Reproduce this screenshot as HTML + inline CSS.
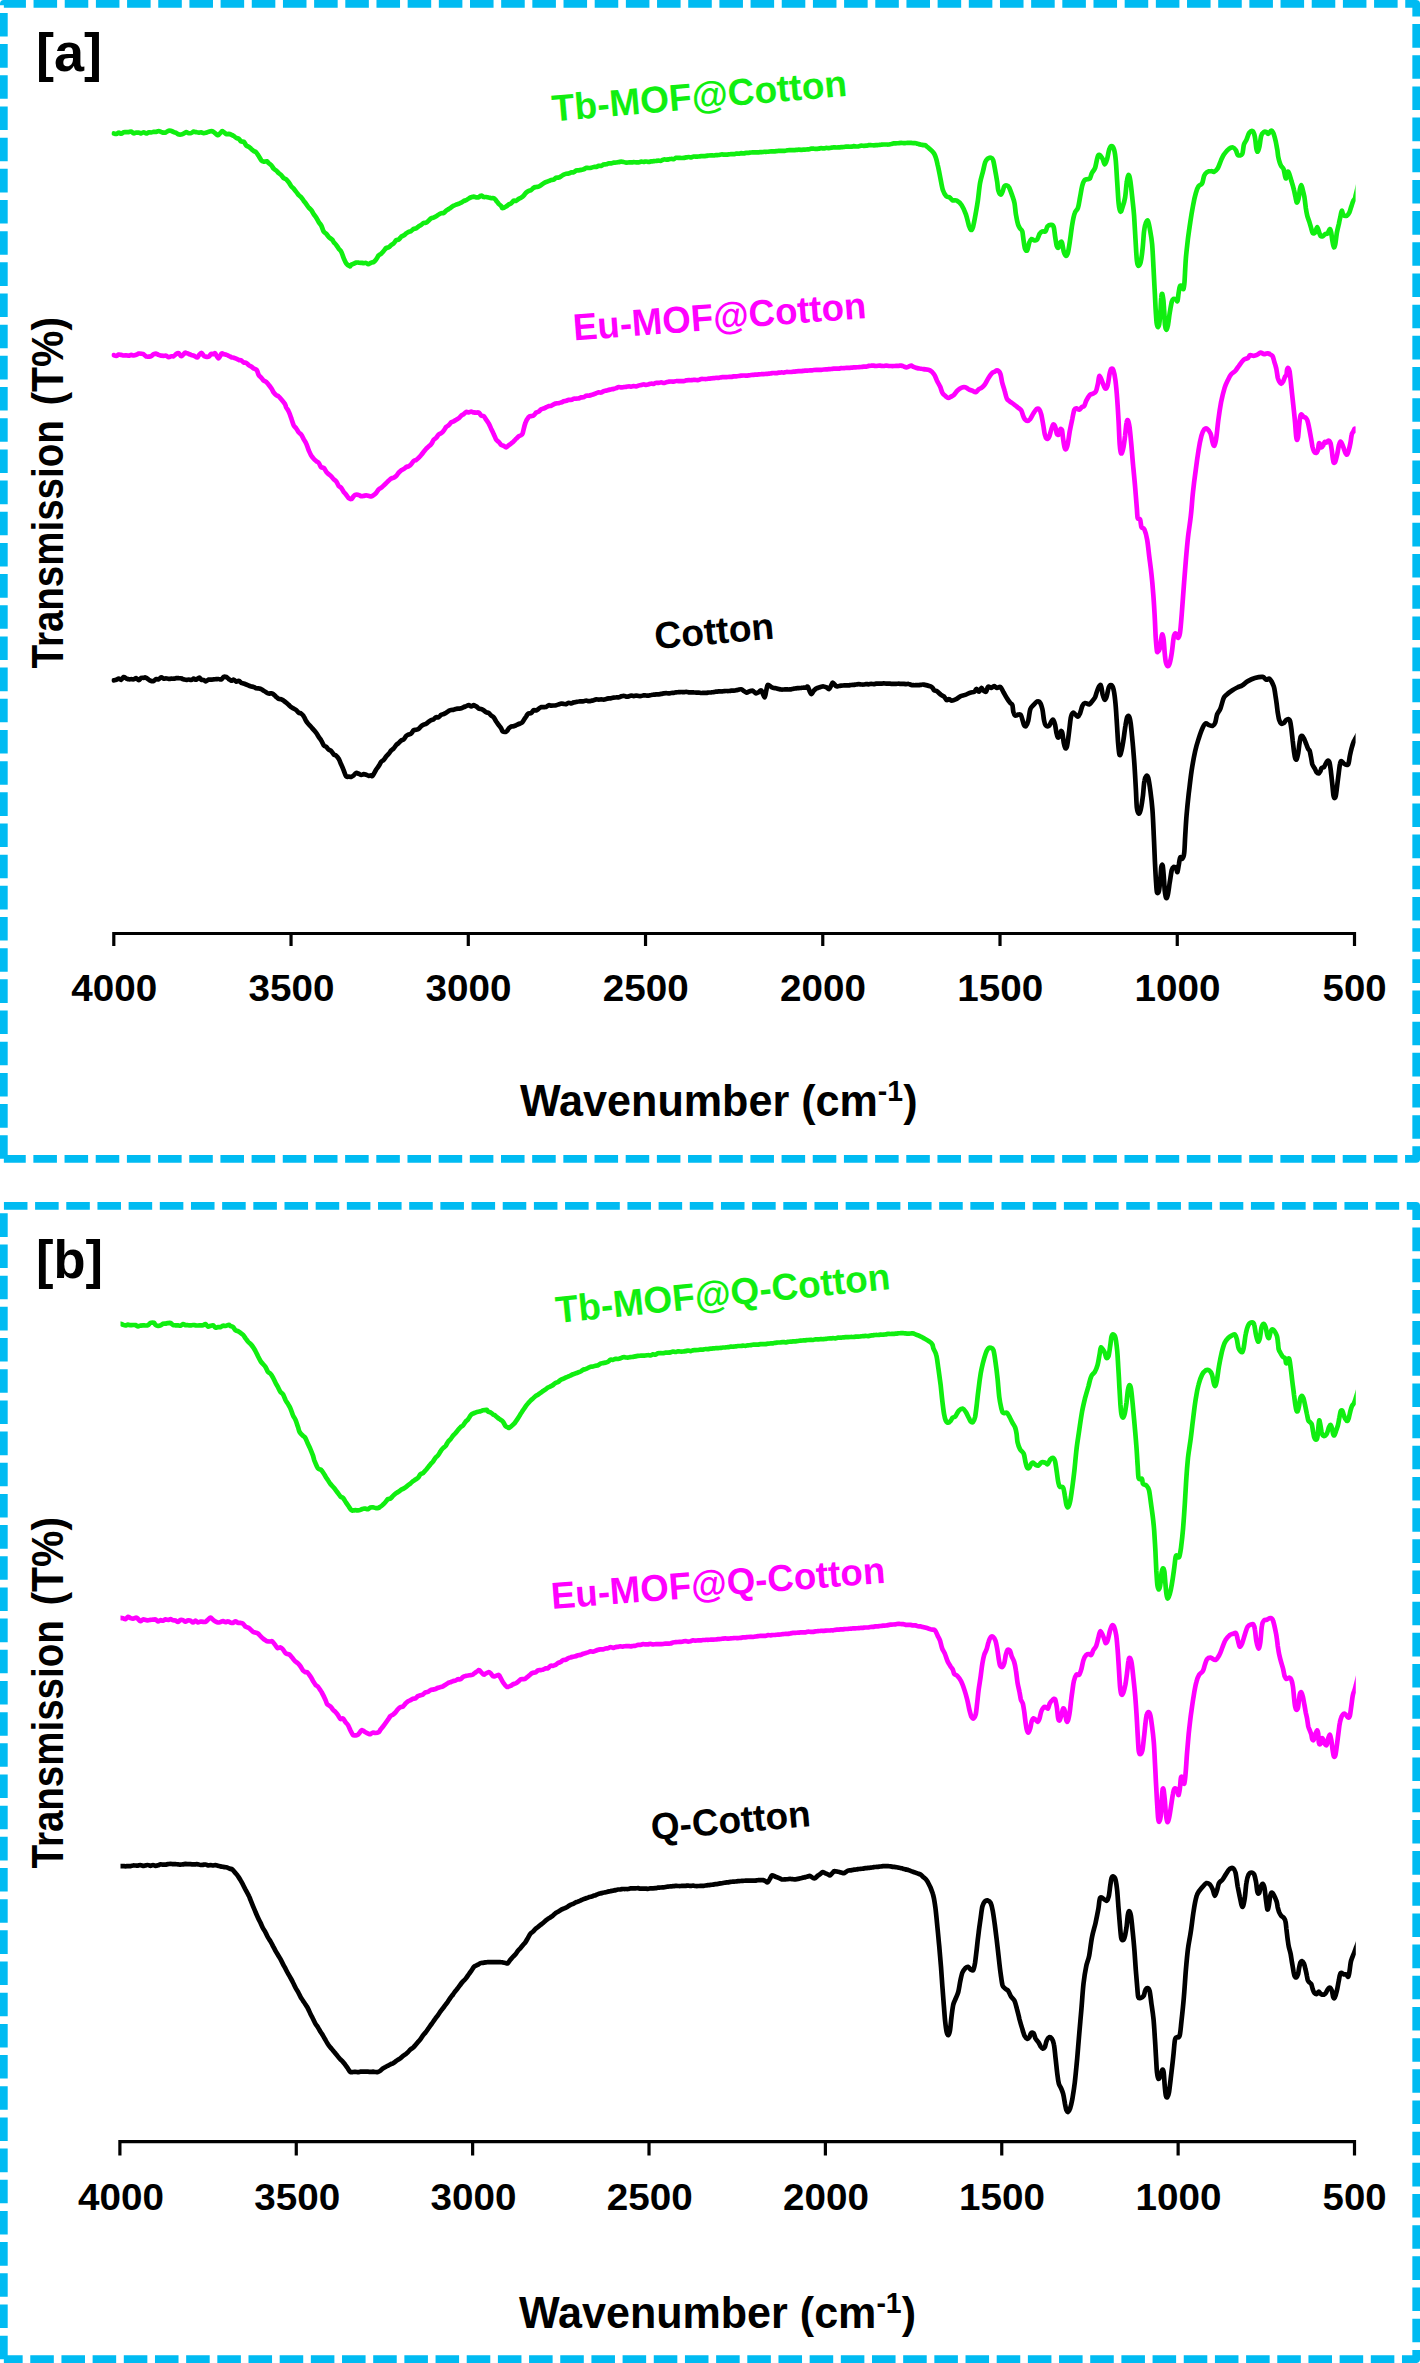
<!DOCTYPE html>
<html lang="en"><head><meta charset="utf-8"><title>FTIR spectra</title>
<style>html,body{margin:0;padding:0;background:#fff}svg{display:block}text{font-family:"Liberation Sans",sans-serif;font-weight:bold}.c{fill:none;stroke-linejoin:round;stroke-linecap:round}</style></head><body>
<svg width="1420" height="2363" viewBox="0 0 1420 2363">
<rect width="1420" height="2363" fill="#fff"/>
<defs>
<clipPath id="ca"><rect x="111.5" y="0" width="1244.1" height="1180"/></clipPath>
<clipPath id="cb"><rect x="120.5" y="1190" width="1235.3" height="1180"/></clipPath>
</defs>
<path d="M3.85,1158.8 L3.85,3.85 L1416.2,3.85 L1416.2,1158.8 L3.85,1158.8" fill="none" stroke="#00BBF2" stroke-width="7.7" stroke-dasharray="23.553 7.622" stroke-dashoffset="0" stroke-linejoin="round"/>
<path d="M3.85,2359.2 L3.85,1205.8 L1416.2,1205.8 L1416.2,2359.2 L3.85,2359.2" fill="none" stroke="#00BBF2" stroke-width="7.7" stroke-dasharray="23.553 7.622" stroke-dashoffset="0" stroke-linejoin="round"/>
<path d="M112.20,933.5H1356.10M113.80,933.5V946M291.04,933.5V946M468.29,933.5V946M645.53,933.5V946M822.77,933.5V946M1000.01,933.5V946M1177.26,933.5V946M1354.50,933.5V946" fill="none" stroke="#000" stroke-width="3.2"/>
<path d="M118.30,2141.6H1356.10M119.90,2141.6V2155.6M296.27,2141.6V2155.6M472.64,2141.6V2155.6M649.01,2141.6V2155.6M825.39,2141.6V2155.6M1001.76,2141.6V2155.6M1178.13,2141.6V2155.6M1354.50,2141.6V2155.6" fill="none" stroke="#000" stroke-width="3.2"/>
<path class="c" clip-path="url(#ca)" d="M113.7,680.4C114.1,680.3 115.4,680.1 116.2,679.8C117.1,679.5 117.9,678.6 118.7,678.6C119.6,678.6 120.4,680.1 121.2,679.8C122.1,679.5 122.9,677.3 123.7,677.0C124.6,676.8 125.4,678.0 126.2,678.4C127.1,678.7 127.9,679.1 128.7,679.2C129.6,679.4 130.4,679.2 131.2,679.2C132.1,679.2 132.9,679.5 133.7,679.3C134.6,679.1 135.4,678.1 136.2,678.2C137.1,678.4 137.9,680.2 138.7,680.2C139.6,680.1 140.4,678.3 141.2,677.9C142.1,677.5 143.0,677.9 143.7,677.8C144.4,677.7 144.6,677.2 145.4,677.5C146.3,677.8 147.9,679.0 148.7,679.6C149.6,680.2 149.9,680.6 150.7,680.8C151.5,681.1 152.8,681.3 153.7,681.0C154.7,680.7 155.4,679.3 156.2,679.1C157.1,678.8 157.9,679.6 158.7,679.3C159.6,679.0 160.4,677.4 161.2,677.3C162.1,677.2 162.9,678.5 163.7,678.7C164.6,678.8 165.4,678.2 166.2,678.3C167.1,678.3 167.9,678.8 168.7,678.9C169.6,678.9 170.4,678.7 171.2,678.7C172.1,678.7 172.9,678.8 173.7,678.7C174.6,678.6 175.4,678.2 176.2,678.1C177.1,678.0 177.9,678.0 178.7,678.1C179.6,678.1 180.4,678.1 181.2,678.4C182.1,678.6 182.9,679.1 183.7,679.4C184.6,679.6 185.4,679.9 186.2,679.9C187.1,679.9 187.9,679.5 188.7,679.5C189.6,679.5 190.4,680.1 191.2,680.0C192.1,679.9 192.9,678.8 193.7,678.7C194.6,678.7 195.3,680.0 196.2,679.7C197.2,679.5 198.5,677.5 199.3,677.5C200.1,677.5 200.5,679.3 201.2,679.7C202.0,680.2 203.0,679.8 203.7,680.1C204.5,680.3 204.8,681.3 205.6,681.3C206.5,681.2 207.8,679.9 208.7,679.6C209.7,679.4 210.4,679.7 211.2,679.7C212.1,679.6 212.9,679.4 213.7,679.3C214.6,679.2 215.4,679.3 216.2,679.2C217.1,679.1 217.9,678.9 218.7,679.0C219.6,679.0 220.4,679.8 221.2,679.4C222.1,679.1 222.9,677.2 223.7,676.8C224.6,676.4 225.5,676.7 226.3,677.0C227.2,677.4 227.9,678.4 228.7,679.0C229.5,679.6 230.4,680.5 231.2,680.7C232.1,680.8 232.9,679.6 233.7,679.7C234.6,679.9 235.4,681.4 236.2,681.6C237.1,681.8 237.9,680.6 238.7,680.8C239.6,681.0 240.4,682.3 241.2,682.8C242.1,683.2 242.9,683.3 243.7,683.6C244.6,683.9 245.4,684.2 246.2,684.6C247.1,684.9 247.9,685.3 248.7,685.6C249.6,685.9 250.4,686.3 251.2,686.5C252.1,686.7 252.9,686.7 253.7,687.0C254.6,687.2 255.4,687.9 256.2,688.2C257.1,688.4 257.9,688.2 258.7,688.4C259.6,688.6 260.4,688.8 261.2,689.2C262.1,689.6 262.9,690.2 263.7,690.8C264.6,691.3 265.4,691.8 266.2,692.3C267.1,692.8 267.9,693.4 268.7,693.5C269.6,693.7 270.4,693.2 271.2,693.3C272.1,693.5 272.9,693.9 273.7,694.5C274.6,695.1 275.4,696.2 276.2,696.9C277.1,697.7 277.9,698.5 278.7,698.9C279.6,699.3 280.4,699.0 281.2,699.3C282.1,699.6 282.9,700.1 283.7,700.7C284.6,701.3 285.4,702.1 286.2,702.7C287.1,703.4 287.9,704.1 288.7,704.9C289.6,705.6 290.4,706.6 291.2,707.2C292.1,707.9 292.9,708.1 293.7,708.6C294.6,709.0 295.4,709.4 296.2,710.1C297.1,710.8 297.9,712.1 298.7,712.7C299.6,713.3 300.4,713.0 301.2,713.6C302.1,714.2 302.9,715.0 303.7,716.3C304.6,717.5 305.4,719.8 306.2,721.2C307.1,722.5 307.9,723.4 308.7,724.4C309.6,725.3 310.4,726.1 311.2,727.0C312.1,728.0 312.9,729.0 313.7,729.9C314.6,730.9 315.4,731.8 316.2,732.9C317.1,734.1 317.9,735.7 318.7,736.9C319.6,738.2 320.4,738.9 321.2,740.4C322.1,741.8 323.1,744.4 323.9,745.5C324.8,746.5 325.4,746.0 326.2,746.7C327.0,747.4 327.9,748.9 328.7,749.7C329.6,750.4 330.4,750.2 331.2,751.0C332.1,751.8 332.9,753.7 333.7,754.4C334.6,755.2 335.4,755.0 336.2,755.7C337.1,756.5 337.9,757.3 338.7,758.8C339.6,760.3 340.4,762.7 341.2,764.6C342.1,766.5 342.9,768.3 343.7,770.3C344.5,772.2 345.3,775.3 346.1,776.3C347.0,777.4 347.9,776.5 348.7,776.6C349.6,776.7 350.4,777.1 351.2,776.9C352.1,776.7 352.9,775.9 353.7,775.3C354.5,774.6 355.2,773.2 356.1,773.0C356.9,772.7 357.9,773.4 358.7,773.8C359.6,774.1 360.4,775.0 361.2,775.0C362.1,775.1 362.9,774.2 363.7,774.1C364.6,774.1 365.4,774.4 366.2,774.7C367.1,775.0 367.9,775.7 368.7,775.8C369.6,776.0 370.6,775.4 371.2,775.4C371.9,775.5 371.7,776.9 372.5,775.9C373.4,774.9 375.2,771.1 376.2,769.5C377.3,767.9 377.9,767.3 378.7,766.0C379.6,764.8 380.4,762.8 381.2,761.8C382.1,760.8 382.9,760.8 383.7,759.9C384.6,759.0 385.4,757.5 386.2,756.4C387.1,755.4 387.9,754.8 388.7,753.8C389.6,752.8 390.4,751.3 391.2,750.4C392.1,749.5 392.9,749.3 393.7,748.4C394.6,747.5 395.4,745.9 396.2,745.0C397.1,744.1 397.9,743.7 398.7,743.0C399.6,742.2 400.4,741.2 401.2,740.5C402.1,739.9 402.9,740.1 403.7,739.3C404.6,738.5 405.4,736.7 406.2,735.9C407.1,735.1 407.9,735.0 408.7,734.5C409.6,734.1 410.4,734.1 411.2,733.4C412.1,732.7 412.9,730.7 413.7,730.1C414.6,729.5 415.4,730.0 416.2,729.8C417.1,729.6 417.9,729.4 418.7,728.8C419.6,728.2 420.4,726.9 421.2,726.2C422.1,725.5 422.9,725.0 423.7,724.6C424.6,724.2 425.4,724.3 426.2,723.8C427.1,723.3 427.9,722.3 428.7,721.7C429.6,721.1 430.4,720.6 431.2,720.2C432.1,719.8 432.9,719.8 433.7,719.3C434.6,718.7 435.4,717.4 436.2,717.1C437.1,716.7 437.9,717.6 438.7,717.2C439.6,716.9 440.4,715.3 441.2,714.8C442.1,714.2 442.9,714.3 443.7,714.0C444.6,713.6 445.4,713.2 446.2,712.7C447.1,712.2 447.9,711.4 448.7,710.9C449.6,710.4 450.4,710.2 451.2,710.0C452.1,709.8 452.9,709.9 453.7,709.7C454.6,709.5 455.4,709.0 456.2,708.9C457.1,708.7 457.9,708.7 458.7,708.6C459.6,708.5 460.4,708.6 461.2,708.3C462.1,708.1 462.9,707.5 463.7,707.1C464.6,706.8 465.4,706.4 466.2,706.1C467.1,705.7 467.9,705.1 468.7,705.1C469.6,705.2 470.4,706.3 471.2,706.3C472.1,706.4 472.9,705.2 473.7,705.2C474.6,705.3 475.4,705.9 476.2,706.4C477.1,706.9 477.9,708.0 478.7,708.5C479.6,708.9 480.4,708.7 481.2,709.0C482.1,709.3 482.9,709.9 483.7,710.4C484.6,710.9 485.4,711.8 486.2,712.2C487.1,712.7 487.9,712.5 488.7,713.0C489.6,713.6 490.4,714.8 491.2,715.5C492.1,716.3 492.9,716.4 493.7,717.4C494.6,718.4 495.4,720.2 496.2,721.5C497.1,722.8 497.9,724.0 498.7,725.1C499.6,726.2 500.6,727.2 501.2,728.3C501.9,729.3 501.7,730.8 502.5,731.3C503.4,731.9 505.2,732.1 506.2,731.7C507.3,731.2 507.9,729.4 508.7,728.5C509.6,727.7 510.4,726.9 511.2,726.5C512.1,726.1 512.9,726.5 513.7,726.3C514.6,726.0 515.4,725.5 516.2,725.2C517.1,724.8 517.8,724.4 518.7,724.0C519.6,723.6 520.7,723.5 521.6,722.9C522.4,722.3 523.0,721.3 523.7,720.2C524.5,719.2 525.5,717.5 526.2,716.5C526.9,715.4 527.1,714.4 527.9,713.8C528.7,713.2 530.3,713.6 531.2,713.0C532.2,712.4 532.9,710.5 533.7,710.1C534.6,709.7 535.4,710.7 536.2,710.5C537.1,710.3 537.9,709.2 538.7,708.7C539.6,708.1 540.4,707.4 541.2,707.1C542.1,706.9 542.9,707.2 543.7,707.2C544.6,707.1 545.4,707.2 546.2,706.9C547.1,706.6 547.9,705.4 548.7,705.2C549.6,705.0 550.4,705.5 551.2,705.6C552.1,705.6 552.9,705.6 553.7,705.5C554.6,705.5 555.4,705.4 556.2,705.2C557.1,705.0 557.9,704.7 558.7,704.4C559.6,704.2 560.4,703.8 561.2,703.7C562.1,703.6 562.9,703.7 563.7,703.8C564.6,703.8 565.4,704.3 566.2,704.1C567.1,703.9 567.9,702.9 568.7,702.8C569.6,702.6 570.4,703.4 571.2,703.4C572.1,703.3 572.9,702.6 573.7,702.4C574.6,702.1 575.4,702.1 576.2,702.0C577.1,701.8 577.9,701.5 578.7,701.5C579.6,701.4 580.4,701.5 581.2,701.4C582.1,701.4 582.9,701.4 583.7,701.2C584.6,701.0 585.4,700.5 586.2,700.5C587.1,700.5 587.9,701.2 588.7,701.2C589.6,701.3 590.4,701.0 591.2,700.8C592.1,700.6 592.9,700.5 593.7,700.2C594.6,700.0 595.4,699.5 596.2,699.4C597.1,699.3 597.9,699.6 598.7,699.6C599.6,699.6 600.4,699.4 601.2,699.4C602.1,699.4 602.9,699.6 603.7,699.6C604.6,699.5 605.4,699.2 606.2,699.0C607.1,698.8 607.9,698.6 608.7,698.4C609.6,698.3 610.4,698.4 611.2,698.2C612.1,698.1 612.9,697.8 613.7,697.6C614.6,697.5 615.4,697.3 616.2,697.3C617.1,697.2 617.9,697.4 618.7,697.3C619.6,697.1 620.4,696.6 621.2,696.4C622.1,696.1 622.9,695.8 623.7,695.8C624.6,695.8 625.4,696.5 626.2,696.6C627.1,696.7 627.9,696.6 628.7,696.4C629.6,696.2 630.4,695.6 631.2,695.5C632.1,695.5 632.9,696.1 633.7,696.1C634.6,696.2 635.4,695.6 636.2,695.6C637.1,695.6 637.9,695.9 638.7,696.0C639.6,696.1 640.4,696.1 641.2,696.0C642.1,695.9 642.9,695.4 643.7,695.3C644.6,695.3 645.4,695.5 646.2,695.5C647.1,695.6 647.9,695.8 648.7,695.7C649.6,695.6 650.4,695.1 651.2,695.0C652.1,694.8 652.9,694.8 653.7,694.7C654.6,694.6 655.4,694.5 656.2,694.4C657.1,694.4 657.9,694.4 658.7,694.3C659.6,694.2 660.4,694.1 661.2,693.9C662.1,693.8 662.9,693.5 663.7,693.4C664.6,693.3 665.4,693.2 666.2,693.2C667.1,693.3 667.9,693.5 668.7,693.4C669.6,693.4 670.4,693.1 671.2,693.0C672.1,692.9 672.9,692.9 673.7,692.8C674.6,692.7 675.4,692.4 676.2,692.3C677.1,692.2 677.9,692.3 678.7,692.2C679.6,692.2 680.4,692.0 681.2,692.0C682.1,692.0 682.9,692.2 683.7,692.1C684.6,692.1 685.4,691.8 686.2,691.8C687.1,691.9 687.9,692.3 688.7,692.4C689.6,692.5 690.4,692.4 691.2,692.4C692.1,692.4 692.9,692.3 693.7,692.4C694.6,692.4 695.4,692.6 696.2,692.6C697.1,692.7 697.9,692.5 698.7,692.6C699.6,692.7 700.4,693.0 701.2,693.0C702.1,693.1 702.9,692.9 703.7,692.9C704.6,692.8 705.4,692.9 706.2,692.8C707.1,692.8 707.9,692.6 708.7,692.5C709.6,692.4 710.4,692.3 711.2,692.3C712.1,692.2 712.9,692.3 713.7,692.2C714.6,692.1 715.4,691.8 716.2,691.6C717.1,691.5 717.9,691.4 718.7,691.3C719.6,691.3 720.4,691.5 721.2,691.5C722.1,691.4 722.9,691.2 723.7,691.2C724.6,691.1 725.4,691.0 726.2,691.0C727.1,691.0 727.9,691.1 728.7,691.0C729.6,691.0 730.4,690.8 731.2,690.7C732.1,690.6 732.9,690.7 733.7,690.6C734.6,690.5 735.4,690.4 736.2,690.2C737.1,690.1 737.9,689.7 738.7,689.6C739.6,689.4 740.5,689.1 741.3,689.3C742.2,689.5 742.9,690.4 743.7,690.9C744.6,691.5 745.8,692.5 746.6,692.7C747.5,692.8 747.9,692.1 748.7,691.7C749.6,691.4 751.1,690.6 751.9,690.6C752.7,690.5 753.0,691.0 753.7,691.5C754.4,691.9 755.3,693.2 756.1,693.3C757.0,693.4 757.9,692.6 758.7,692.2C759.6,691.7 760.4,689.7 761.4,690.6C762.4,691.5 763.8,697.5 764.6,697.5C765.4,697.6 765.7,692.9 766.2,690.8C766.8,688.7 766.9,685.5 767.7,684.9C768.6,684.2 770.2,686.4 771.2,686.9C772.2,687.5 772.9,687.8 773.7,688.0C774.6,688.2 775.4,688.1 776.2,688.3C777.1,688.4 777.9,688.8 778.7,689.0C779.6,689.2 780.4,689.4 781.2,689.5C782.1,689.6 782.9,689.5 783.7,689.5C784.6,689.5 785.4,689.4 786.2,689.4C787.1,689.4 787.9,689.5 788.7,689.5C789.6,689.4 790.4,689.4 791.2,689.3C792.1,689.1 792.9,688.9 793.7,688.7C794.6,688.6 795.4,688.5 796.2,688.3C797.1,688.2 797.9,688.2 798.7,688.1C799.6,688.0 800.4,687.8 801.2,687.8C802.1,687.7 802.9,687.8 803.7,687.7C804.6,687.6 805.5,687.5 806.2,687.4C806.9,687.3 807.1,685.9 807.9,687.0C808.7,688.1 810.1,693.3 811.1,693.9C812.0,694.6 812.9,691.7 813.7,690.8C814.6,689.9 815.4,689.0 816.2,688.5C817.1,688.0 817.9,687.9 818.7,687.6C819.6,687.3 820.4,686.9 821.2,686.7C822.1,686.5 822.9,686.4 823.7,686.5C824.6,686.6 825.4,686.7 826.2,687.2C827.1,687.6 828.2,689.4 829.0,689.1C829.8,688.8 830.6,686.5 831.2,685.4C831.9,684.4 832.0,682.6 832.8,682.7C833.7,682.9 835.2,685.6 836.2,686.2C837.2,686.7 837.9,686.0 838.7,686.0C839.6,685.9 840.4,685.8 841.2,685.7C842.1,685.6 842.9,685.3 843.7,685.3C844.6,685.2 845.4,685.4 846.2,685.4C847.1,685.4 847.9,685.4 848.7,685.4C849.6,685.3 850.4,685.1 851.2,685.0C852.1,684.9 852.9,685.0 853.7,684.9C854.6,684.8 855.4,684.6 856.2,684.5C857.1,684.4 857.9,684.2 858.7,684.2C859.6,684.2 860.4,684.4 861.2,684.5C862.1,684.5 862.9,684.6 863.7,684.5C864.6,684.5 865.4,684.1 866.2,684.0C867.1,684.0 867.9,684.3 868.7,684.3C869.6,684.3 870.4,683.9 871.2,683.9C872.1,683.9 872.9,684.1 873.7,684.1C874.6,684.1 875.4,683.8 876.2,683.7C877.1,683.6 877.9,683.6 878.7,683.6C879.6,683.6 880.4,683.7 881.2,683.7C882.1,683.6 882.9,683.4 883.7,683.3C884.6,683.3 885.4,683.5 886.2,683.6C887.1,683.6 887.9,683.5 888.7,683.6C889.6,683.6 890.4,683.8 891.2,683.8C892.1,683.8 892.9,683.8 893.7,683.8C894.6,683.8 895.4,683.8 896.2,683.8C897.1,683.8 897.9,683.7 898.7,683.7C899.6,683.7 900.4,683.9 901.2,683.9C902.1,684.0 902.9,683.9 903.7,683.9C904.6,684.0 905.4,684.1 906.2,684.1C907.1,684.1 907.9,683.8 908.7,684.0C909.6,684.1 910.4,684.7 911.2,684.9C912.1,685.2 912.9,685.2 913.7,685.2C914.6,685.3 915.4,685.2 916.2,685.2C917.1,685.1 917.9,685.2 918.7,685.1C919.6,685.1 920.4,684.9 921.2,684.8C922.1,684.7 922.0,684.3 923.7,684.6C925.4,685.0 929.7,685.8 931.4,686.8C933.2,687.7 933.3,689.5 934.2,690.3C935.2,691.0 936.0,690.6 937.0,691.3C938.1,692.0 939.4,693.6 940.6,694.5C941.7,695.4 943.1,695.7 944.1,696.6C945.1,697.6 945.8,699.7 946.6,700.1C947.4,700.6 948.1,699.1 949.0,699.2C949.9,699.2 950.7,700.6 951.8,700.6C953.0,700.6 954.6,699.9 956.1,699.2C957.5,698.5 958.8,697.0 960.3,696.3C961.8,695.6 963.6,695.5 965.2,694.9C966.9,694.3 968.6,693.2 970.1,692.7C971.7,692.1 973.3,692.3 974.4,691.7C975.4,691.1 975.7,688.9 976.5,688.9C977.3,688.9 978.2,691.9 979.0,691.7C979.8,691.5 980.7,688.1 981.4,687.9C982.2,687.7 982.7,690.1 983.5,690.7C984.3,691.3 985.3,692.3 986.1,691.7C986.8,691.0 987.2,687.4 988.0,686.8C988.9,686.1 990.3,688.0 991.3,687.9C992.3,687.8 993.1,686.1 994.1,686.1C995.0,686.1 995.8,687.7 996.9,687.9C998.0,688.1 999.4,686.4 1000.4,687.0C1001.5,687.7 1002.2,689.9 1003.2,691.7C1004.3,693.5 1005.6,696.2 1006.8,698.0C1007.9,699.9 1009.3,701.8 1010.3,703.0C1011.2,704.1 1011.9,703.5 1012.4,705.1C1012.9,706.6 1012.9,710.4 1013.4,712.1C1013.8,713.9 1014.4,715.2 1015.2,715.6C1016.0,716.1 1017.1,714.8 1018.0,714.6C1019.0,714.5 1020.1,713.9 1020.8,714.9C1021.6,715.9 1022.1,718.9 1022.7,720.6C1023.2,722.3 1023.5,724.2 1024.1,725.1C1024.6,726.0 1025.4,726.7 1026.1,725.9C1026.8,725.2 1027.6,723.3 1028.3,720.6C1029.0,717.8 1029.4,711.9 1030.3,709.3C1031.2,706.7 1032.4,706.4 1033.5,705.1C1034.6,703.8 1036.0,702.0 1037.0,701.5C1038.1,701.1 1039.0,701.0 1039.9,702.3C1040.8,703.5 1041.7,706.2 1042.4,709.3C1043.1,712.3 1043.5,717.9 1044.1,720.6C1044.6,723.3 1045.0,724.6 1045.8,725.5C1046.6,726.4 1048.1,726.5 1049.0,725.9C1049.9,725.3 1050.4,723.0 1051.1,722.0C1051.8,721.0 1052.6,719.4 1053.2,719.9C1053.9,720.3 1054.5,722.6 1055.1,724.8C1055.6,727.0 1056.0,731.1 1056.5,733.2C1056.9,735.4 1057.4,737.0 1057.9,737.5C1058.4,737.9 1059.1,737.1 1059.6,736.1C1060.1,735.0 1060.5,731.6 1061.0,731.1C1061.5,730.7 1061.9,731.2 1062.4,733.2C1062.9,735.2 1063.3,740.6 1063.8,743.1C1064.3,745.6 1064.7,747.4 1065.2,748.0C1065.7,748.6 1066.3,748.8 1066.9,746.6C1067.5,744.4 1068.1,739.5 1068.7,734.6C1069.4,729.8 1070.1,721.4 1070.8,717.7C1071.5,714.1 1072.1,713.3 1073.0,712.8C1073.8,712.3 1075.0,714.3 1075.8,714.9C1076.6,715.6 1077.2,716.9 1077.9,716.6C1078.6,716.4 1079.2,715.3 1080.0,713.5C1080.8,711.7 1081.6,707.5 1082.4,705.8C1083.2,704.0 1083.8,703.2 1084.9,703.0C1086.1,702.7 1088.0,704.6 1089.2,704.4C1090.3,704.1 1091.0,702.7 1092.0,701.5C1093.0,700.4 1094.1,699.3 1095.1,697.3C1096.0,695.3 1096.7,691.6 1097.6,689.6C1098.5,687.5 1099.9,684.4 1100.7,685.1C1101.5,685.8 1101.9,691.4 1102.5,693.8C1103.2,696.2 1103.9,699.4 1104.6,699.7C1105.4,700.1 1106.1,698.0 1106.8,695.9C1107.4,693.9 1108.0,689.3 1108.7,687.5C1109.4,685.7 1110.2,684.8 1111.0,685.1C1111.8,685.3 1112.7,686.2 1113.4,688.9C1114.1,691.5 1114.7,695.8 1115.2,700.8C1115.8,705.9 1116.2,712.3 1116.6,719.2C1117.1,726.0 1117.6,735.8 1118.0,741.7C1118.5,747.6 1118.9,752.6 1119.4,754.4C1120.0,756.1 1120.5,754.4 1121.1,752.3C1121.8,750.1 1122.5,746.0 1123.2,741.7C1123.9,737.3 1124.7,730.2 1125.4,726.2C1126.0,722.2 1126.5,719.4 1127.0,717.7C1127.6,716.1 1128.3,715.4 1128.9,716.3C1129.5,717.3 1130.1,718.9 1130.7,723.4C1131.3,727.8 1132.0,736.1 1132.7,743.1C1133.3,750.1 1134.0,757.9 1134.5,765.6C1135.0,773.4 1135.5,782.5 1135.9,789.6C1136.3,796.6 1136.4,803.9 1136.9,807.9C1137.4,811.9 1138.1,813.3 1138.7,813.5C1139.4,813.8 1140.1,812.3 1140.8,809.3C1141.5,806.2 1142.4,799.9 1143.0,795.2C1143.5,790.5 1143.8,784.3 1144.4,781.1C1144.9,778.0 1145.6,776.8 1146.2,776.2C1146.8,775.6 1147.5,775.1 1148.2,777.6C1148.9,780.1 1149.7,785.7 1150.4,791.0C1151.1,796.3 1151.8,801.8 1152.4,809.3C1153.0,816.8 1153.4,827.4 1153.8,836.1C1154.2,844.7 1154.6,853.7 1154.9,861.4C1155.3,869.2 1155.7,877.4 1156.1,882.5C1156.4,887.7 1156.6,891.0 1157.0,892.4C1157.5,893.8 1158.3,893.1 1158.9,891.0C1159.4,888.9 1159.9,883.7 1160.3,879.7C1160.7,875.7 1160.9,869.4 1161.3,867.0C1161.7,864.7 1162.3,864.2 1162.7,865.6C1163.1,867.0 1163.3,871.3 1163.7,875.5C1164.0,879.7 1164.4,887.2 1164.8,891.0C1165.2,894.7 1165.7,897.4 1166.2,898.0C1166.7,898.6 1167.3,897.1 1167.9,894.5C1168.5,891.9 1169.1,886.6 1169.7,882.5C1170.4,878.4 1171.2,872.4 1171.8,869.9C1172.5,867.3 1172.8,867.3 1173.5,867.0C1174.2,866.8 1175.4,867.6 1176.1,868.5C1176.7,869.3 1177.0,872.7 1177.5,872.0C1177.9,871.3 1178.4,866.7 1178.9,864.2C1179.3,861.8 1179.7,858.1 1180.3,857.2C1180.9,856.2 1181.7,859.3 1182.4,858.6C1183.1,857.9 1183.8,856.7 1184.2,853.0C1184.7,849.2 1184.8,842.4 1185.2,836.1C1185.6,829.7 1186.0,822.0 1186.6,814.9C1187.2,807.9 1187.9,801.1 1188.7,793.8C1189.6,786.5 1190.5,778.3 1191.5,771.3C1192.6,764.2 1193.9,756.9 1195.1,751.5C1196.2,746.2 1197.3,742.9 1198.6,738.9C1199.9,734.9 1201.6,730.2 1202.8,727.6C1204.0,725.0 1204.6,723.8 1205.6,723.4C1206.7,723.0 1208.0,724.6 1209.2,725.1C1210.3,725.5 1211.7,726.3 1212.7,725.9C1213.7,725.5 1214.5,724.6 1215.2,722.7C1216.0,720.7 1216.3,716.6 1217.2,714.2C1218.1,711.9 1219.3,711.3 1220.4,708.6C1221.5,705.9 1222.6,700.4 1223.7,698.0C1224.7,695.7 1225.3,695.8 1226.8,694.5C1228.2,693.2 1230.6,691.5 1232.4,690.3C1234.2,689.1 1235.7,688.3 1237.3,687.5C1239.0,686.6 1240.5,686.4 1242.3,685.4C1244.0,684.3 1245.8,682.3 1247.9,681.1C1250.0,679.9 1252.5,678.7 1254.9,678.0C1257.4,677.3 1260.8,676.6 1262.7,676.9C1264.6,677.2 1265.0,679.4 1266.2,679.7C1267.4,680.1 1268.5,677.9 1269.7,679.0C1271.0,680.2 1272.9,684.0 1273.8,686.6C1274.7,689.2 1274.8,691.7 1275.3,694.5C1275.7,697.3 1276.2,700.4 1276.6,703.4C1277.0,706.3 1277.3,709.5 1277.7,712.3C1278.2,715.0 1278.6,718.3 1279.2,720.1C1279.8,722.0 1280.5,723.1 1281.2,723.6C1281.9,724.1 1282.8,723.7 1283.7,723.1C1284.5,722.5 1285.4,720.8 1286.1,720.1C1286.9,719.4 1287.6,718.8 1288.3,719.0C1289.0,719.1 1289.6,719.4 1290.1,721.1C1290.6,722.8 1290.9,725.7 1291.4,729.0C1291.8,732.3 1292.3,737.1 1292.7,740.8C1293.2,744.6 1293.6,748.7 1294.0,751.7C1294.4,754.6 1294.9,757.4 1295.3,758.6C1295.7,759.8 1296.2,760.1 1296.7,759.1C1297.2,758.1 1297.8,755.2 1298.3,752.7C1298.7,750.1 1299.0,746.4 1299.4,743.8C1299.8,741.2 1300.2,738.2 1300.6,736.9C1301.1,735.6 1301.6,735.6 1302.2,735.9C1302.8,736.2 1303.5,737.6 1304.2,738.9C1304.8,740.2 1305.5,742.2 1306.1,743.8C1306.8,745.4 1307.5,747.5 1308.1,748.7C1308.7,750.0 1309.3,749.7 1309.8,751.2C1310.3,752.7 1310.6,755.4 1311.1,757.6C1311.5,759.8 1311.8,762.7 1312.4,764.5C1313.1,766.3 1314.0,767.1 1314.7,768.4C1315.4,769.8 1316.0,771.6 1316.7,772.4C1317.3,773.2 1318.1,773.5 1318.7,773.4C1319.3,773.2 1319.8,772.3 1320.3,771.4C1320.8,770.5 1321.0,768.7 1321.6,768.0C1322.2,767.2 1323.3,767.8 1324.1,767.0C1324.8,766.1 1325.4,764.1 1326.1,763.0C1326.7,762.0 1327.3,760.6 1327.8,760.6C1328.4,760.5 1329.0,760.9 1329.5,762.5C1330.0,764.2 1330.3,767.0 1330.8,770.4C1331.2,773.9 1331.7,779.1 1332.2,783.2C1332.6,787.3 1333.1,792.6 1333.4,795.1C1333.8,797.5 1334.1,797.9 1334.4,798.0C1334.8,798.2 1335.3,798.0 1335.7,796.1C1336.2,794.1 1336.6,790.0 1337.1,786.2C1337.6,782.4 1338.2,777.2 1338.7,773.4C1339.2,769.6 1339.6,765.6 1340.1,763.5C1340.5,761.5 1340.7,761.1 1341.3,761.1C1342.0,761.1 1342.9,762.9 1343.8,763.5C1344.7,764.2 1346.0,765.0 1346.8,765.0C1347.5,765.0 1348.0,765.1 1348.5,763.5C1349.1,762.0 1349.4,758.1 1349.9,755.6C1350.4,753.2 1350.9,751.0 1351.5,748.7C1352.1,746.4 1352.9,743.6 1353.7,741.8C1354.4,740.0 1355.0,739.5 1355.8,737.9C1356.7,736.3 1358.3,733.3 1358.8,732.4" stroke="#000" stroke-width="4.7"/>
<path class="c" clip-path="url(#ca)" d="M113.7,355.1C114.1,355.2 115.4,356.0 116.2,355.9C117.1,355.8 117.9,354.8 118.7,354.6C119.6,354.4 120.4,354.8 121.2,354.9C122.1,355.0 122.9,355.4 123.7,355.5C124.6,355.6 125.4,355.3 126.2,355.3C127.1,355.3 127.9,355.7 128.7,355.7C129.6,355.6 130.4,354.9 131.2,354.9C132.1,354.9 132.9,355.5 133.7,355.5C134.6,355.4 135.4,355.1 136.2,354.8C137.1,354.5 137.9,353.8 138.7,353.6C139.6,353.4 140.4,353.5 141.2,353.7C142.1,353.8 142.9,353.8 143.7,354.3C144.6,354.7 145.4,356.2 146.2,356.5C147.0,356.9 147.8,356.7 148.6,356.6C149.4,356.5 150.4,356.5 151.2,356.1C152.1,355.7 152.9,354.6 153.7,354.2C154.6,353.8 155.4,353.6 156.2,353.7C157.1,353.9 157.9,354.6 158.7,354.9C159.6,355.2 160.4,355.5 161.2,355.7C162.1,355.8 162.9,355.8 163.7,355.8C164.6,355.8 165.4,355.5 166.2,355.7C167.1,356.0 167.9,357.2 168.7,357.2C169.6,357.3 170.4,356.4 171.2,356.3C172.1,356.1 172.9,356.5 173.7,356.2C174.6,355.8 175.4,354.5 176.2,354.0C177.0,353.5 177.7,352.9 178.6,353.2C179.4,353.6 180.3,356.3 181.3,356.2C182.4,356.1 184.1,353.4 184.9,352.8C185.7,352.3 185.6,352.7 186.2,352.9C186.9,353.1 187.9,353.7 188.7,354.0C189.6,354.4 190.4,354.6 191.2,354.9C192.1,355.2 192.7,355.2 193.7,355.6C194.7,356.1 196.4,357.5 197.2,357.5C198.0,357.4 198.0,356.3 198.7,355.5C199.4,354.7 200.6,352.8 201.4,352.8C202.2,352.8 203.0,355.0 203.7,355.7C204.4,356.3 204.8,356.5 205.6,356.6C206.5,356.8 207.8,357.1 208.7,356.7C209.7,356.2 210.4,354.3 211.2,353.9C212.1,353.5 213.1,354.3 213.7,354.2C214.4,354.1 214.4,352.6 215.1,353.2C215.9,353.9 217.3,358.2 218.3,358.3C219.4,358.4 220.6,354.4 221.5,353.7C222.4,353.0 222.9,353.9 223.7,354.1C224.5,354.3 225.4,354.5 226.2,354.8C227.1,355.0 227.9,355.4 228.7,355.8C229.6,356.2 230.4,356.8 231.2,357.2C232.1,357.5 232.9,357.5 233.7,357.7C234.6,358.0 235.4,358.2 236.2,358.6C237.1,359.0 237.9,359.6 238.7,359.9C239.6,360.2 240.4,359.8 241.2,360.3C242.1,360.7 242.9,362.1 243.7,362.5C244.6,362.9 245.4,362.4 246.2,362.8C247.1,363.2 247.9,364.5 248.7,365.1C249.6,365.7 250.4,365.9 251.2,366.5C252.1,367.1 252.8,368.0 253.7,368.6C254.7,369.2 255.9,369.1 256.8,370.1C257.6,371.2 258.0,373.9 258.7,375.1C259.5,376.4 260.4,376.8 261.2,377.7C262.1,378.6 262.9,380.0 263.7,380.7C264.6,381.4 265.4,381.2 266.2,381.9C267.1,382.6 267.9,383.8 268.7,384.9C269.6,385.9 270.4,386.9 271.2,388.2C272.1,389.4 272.9,391.4 273.7,392.6C274.6,393.7 275.4,394.5 276.2,395.1C277.1,395.8 277.9,395.8 278.7,396.5C279.6,397.2 280.2,398.0 281.2,399.2C282.3,400.5 284.0,402.6 284.9,403.9C285.7,405.3 285.6,406.2 286.2,407.5C286.9,408.8 287.9,409.7 288.7,411.5C289.6,413.3 290.4,415.8 291.2,418.2C292.1,420.5 292.9,423.7 293.7,425.3C294.6,427.0 295.4,427.1 296.2,428.3C297.1,429.5 297.9,431.4 298.7,432.4C299.6,433.5 300.4,433.5 301.2,434.6C302.1,435.8 302.9,437.7 303.7,439.2C304.6,440.7 305.4,441.7 306.2,443.5C307.1,445.4 307.9,448.3 308.7,450.3C309.6,452.3 310.4,454.1 311.2,455.5C312.1,456.9 312.9,457.8 313.7,458.7C314.6,459.7 315.4,460.4 316.2,461.1C317.1,461.8 317.9,461.9 318.7,462.9C319.6,464.0 320.4,466.5 321.2,467.3C322.1,468.1 322.9,467.2 323.7,467.9C324.6,468.6 325.4,470.6 326.2,471.7C327.1,472.8 327.9,473.5 328.7,474.3C329.6,475.1 330.4,475.5 331.2,476.3C332.1,477.2 332.9,478.4 333.7,479.3C334.6,480.1 335.4,480.3 336.2,481.4C337.1,482.6 337.9,484.9 338.7,486.0C339.6,487.0 340.4,486.9 341.2,487.9C342.1,488.9 342.9,490.7 343.7,491.9C344.6,493.0 345.4,493.8 346.2,494.9C347.1,495.9 347.9,497.5 348.7,498.2C349.6,498.9 350.6,499.4 351.4,499.0C352.2,498.7 353.0,496.9 353.7,496.2C354.4,495.5 354.8,495.0 355.6,494.8C356.5,494.6 357.8,494.7 358.7,495.0C359.7,495.2 360.4,496.0 361.2,496.2C362.1,496.3 362.9,496.0 363.7,495.8C364.6,495.7 365.4,495.4 366.2,495.4C367.1,495.4 367.9,495.7 368.7,495.9C369.6,496.0 370.4,496.5 371.2,496.4C372.0,496.3 372.8,495.8 373.6,495.2C374.4,494.6 375.4,493.8 376.2,492.9C377.1,491.9 377.9,490.1 378.7,489.3C379.6,488.4 380.4,488.4 381.2,487.7C382.1,487.0 382.9,486.1 383.7,485.4C384.6,484.6 385.4,483.9 386.2,483.1C387.1,482.3 387.9,481.4 388.7,480.6C389.6,479.9 390.4,479.1 391.2,478.6C392.1,478.1 392.9,478.0 393.7,477.6C394.6,477.1 395.4,476.8 396.2,475.9C397.1,475.1 397.9,473.5 398.7,472.6C399.6,471.6 400.4,470.9 401.2,470.3C402.1,469.7 402.9,469.5 403.7,469.0C404.6,468.5 405.4,467.6 406.2,467.1C407.1,466.6 407.9,466.7 408.7,466.2C409.6,465.7 410.4,465.1 411.2,464.2C412.1,463.3 412.9,461.6 413.7,460.9C414.6,460.1 415.4,460.4 416.2,459.9C417.1,459.4 417.9,458.5 418.7,457.7C419.6,456.9 420.4,455.9 421.2,455.0C422.1,454.0 422.9,452.8 423.7,451.8C424.6,450.7 425.4,449.6 426.2,448.7C427.1,447.8 427.9,447.1 428.7,446.3C429.6,445.6 430.4,445.2 431.2,444.1C432.1,443.0 432.9,440.8 433.7,439.8C434.6,438.8 435.4,438.7 436.2,437.8C437.1,436.9 437.9,435.2 438.7,434.5C439.6,433.7 440.4,433.8 441.2,433.2C442.1,432.5 442.9,431.7 443.7,430.6C444.6,429.6 445.4,427.8 446.2,426.9C447.1,426.0 447.9,426.0 448.7,425.2C449.6,424.5 450.4,423.0 451.2,422.3C452.1,421.7 452.9,421.8 453.7,421.3C454.6,420.9 455.4,420.2 456.2,419.7C457.1,419.1 457.9,418.9 458.7,418.2C459.6,417.6 460.4,416.4 461.2,415.7C462.1,415.0 462.9,414.7 463.7,414.1C464.6,413.4 465.4,412.2 466.2,411.9C467.1,411.6 467.9,412.5 468.7,412.5C469.6,412.4 470.4,411.6 471.2,411.6C472.1,411.6 472.9,412.3 473.7,412.4C474.6,412.6 475.4,412.6 476.2,412.6C477.1,412.6 477.9,412.1 478.7,412.5C479.6,413.0 480.4,414.9 481.2,415.5C482.1,416.1 482.9,415.5 483.7,416.2C484.6,416.9 485.4,418.5 486.2,419.7C487.1,421.0 487.9,422.0 488.7,423.5C489.6,425.0 490.4,427.0 491.2,428.8C492.1,430.5 492.9,432.2 493.7,434.1C494.6,435.9 495.4,438.4 496.2,439.7C497.1,441.0 497.9,441.1 498.7,441.9C499.6,442.8 500.4,444.2 501.2,444.9C502.1,445.5 502.9,445.5 503.7,445.9C504.5,446.3 505.3,447.4 506.1,447.3C507.0,447.2 507.9,446.0 508.7,445.3C509.6,444.7 510.4,444.1 511.2,443.4C512.1,442.7 512.9,442.1 513.7,441.3C514.6,440.5 515.4,439.5 516.2,438.7C517.1,437.8 517.9,436.9 518.7,436.3C519.6,435.7 520.6,435.5 521.2,435.1C521.9,434.6 521.9,435.5 522.6,433.5C523.3,431.5 524.3,425.7 525.4,423.0C526.4,420.2 527.8,418.1 528.7,417.0C529.7,415.9 530.4,416.4 531.2,416.1C532.1,415.9 532.9,415.9 533.7,415.3C534.6,414.7 535.4,413.1 536.2,412.5C537.1,411.8 537.9,412.1 538.7,411.6C539.6,411.0 540.4,409.8 541.2,409.3C542.1,408.7 542.9,408.8 543.7,408.4C544.6,408.1 545.4,407.6 546.2,407.3C547.1,406.9 547.9,406.4 548.7,406.1C549.6,405.9 550.4,406.1 551.2,405.8C552.1,405.5 552.9,404.7 553.7,404.3C554.6,403.9 555.4,403.5 556.2,403.4C557.1,403.2 557.9,403.3 558.7,403.2C559.6,403.0 560.4,402.7 561.2,402.4C562.1,402.1 562.9,401.6 563.7,401.3C564.6,401.1 565.4,401.0 566.2,400.7C567.1,400.5 567.9,400.0 568.7,399.8C569.6,399.7 570.4,399.9 571.2,399.8C572.1,399.6 572.9,399.0 573.7,398.8C574.6,398.6 575.4,398.8 576.2,398.7C577.1,398.7 577.9,398.7 578.7,398.4C579.6,398.2 580.4,397.6 581.2,397.4C582.1,397.2 582.9,397.4 583.7,397.1C584.6,396.9 585.4,396.1 586.2,395.8C587.1,395.6 587.9,395.8 588.7,395.7C589.6,395.5 590.4,395.3 591.2,395.0C592.1,394.8 592.9,394.5 593.7,394.2C594.6,393.9 595.4,393.5 596.2,393.2C597.1,392.9 597.9,392.5 598.7,392.4C599.6,392.3 600.4,392.7 601.2,392.5C602.1,392.3 602.9,391.5 603.7,391.2C604.6,390.9 605.4,390.8 606.2,390.6C607.1,390.4 607.9,390.1 608.7,389.9C609.6,389.7 610.4,389.4 611.2,389.3C612.1,389.1 612.9,389.1 613.7,388.9C614.6,388.7 615.4,388.4 616.2,388.1C617.1,387.8 617.9,387.1 618.7,387.0C619.6,386.9 620.4,387.4 621.2,387.4C622.1,387.4 622.9,387.2 623.7,387.1C624.6,387.0 625.4,387.0 626.2,386.8C627.1,386.7 627.9,386.3 628.7,386.3C629.6,386.2 630.4,386.6 631.2,386.6C632.1,386.6 632.9,386.2 633.7,386.1C634.6,386.1 635.4,386.4 636.2,386.3C637.1,386.2 637.9,385.7 638.7,385.5C639.6,385.3 640.4,385.2 641.2,385.0C642.1,384.8 642.9,384.4 643.7,384.4C644.6,384.3 645.4,384.9 646.2,384.9C647.1,384.9 647.9,384.5 648.7,384.3C649.6,384.0 650.4,383.6 651.2,383.6C652.1,383.5 652.9,384.0 653.7,383.9C654.6,383.7 655.4,382.9 656.2,382.8C657.1,382.6 657.9,383.0 658.7,382.9C659.6,382.9 660.4,382.3 661.2,382.3C662.1,382.3 662.9,383.0 663.7,383.0C664.6,383.0 665.4,382.5 666.2,382.3C667.1,382.1 667.9,381.9 668.7,381.7C669.6,381.6 670.4,381.5 671.2,381.5C672.1,381.5 672.9,381.8 673.7,381.7C674.6,381.6 675.2,381.0 676.2,381.0C677.3,380.9 678.8,381.1 680.0,381.1C681.3,381.2 682.7,381.2 683.7,381.1C684.8,381.0 685.4,380.6 686.2,380.4C687.1,380.3 687.9,380.2 688.7,380.2C689.6,380.2 690.4,380.3 691.2,380.2C692.1,380.2 692.9,379.9 693.7,379.8C694.6,379.8 695.4,380.0 696.2,380.0C697.1,380.0 697.9,380.2 698.7,380.0C699.6,379.9 700.4,379.2 701.2,379.0C702.1,378.9 702.9,379.0 703.7,379.0C704.6,379.0 705.4,379.1 706.2,379.0C707.1,379.0 707.9,378.7 708.7,378.6C709.6,378.5 710.4,378.4 711.2,378.3C712.1,378.3 712.9,378.3 713.7,378.2C714.6,378.1 715.4,377.9 716.2,377.8C717.1,377.7 717.9,377.9 718.7,377.8C719.6,377.7 720.4,377.4 721.2,377.3C722.1,377.2 722.9,377.2 723.7,377.1C724.6,377.1 725.4,377.2 726.2,377.2C727.1,377.1 727.9,376.8 728.7,376.8C729.6,376.7 730.4,376.9 731.2,376.9C732.1,376.8 732.9,376.5 733.7,376.4C734.6,376.3 735.4,376.4 736.2,376.3C737.1,376.2 737.9,376.1 738.7,376.0C739.6,375.9 740.4,375.8 741.2,375.7C742.1,375.6 742.9,375.5 743.7,375.5C744.6,375.4 745.4,375.6 746.2,375.6C747.1,375.6 747.9,375.5 748.7,375.4C749.6,375.3 750.4,375.2 751.2,375.0C752.1,374.9 752.9,374.9 753.7,374.8C754.6,374.7 755.4,374.7 756.2,374.6C757.1,374.6 757.9,374.5 758.7,374.4C759.6,374.3 760.4,374.2 761.2,374.2C762.1,374.1 762.9,374.1 763.7,374.1C764.6,374.0 765.4,374.0 766.2,373.9C767.1,373.8 767.9,373.8 768.7,373.7C769.6,373.6 770.4,373.4 771.2,373.3C772.1,373.2 772.9,373.0 773.7,373.0C774.6,373.0 775.4,373.2 776.2,373.1C777.1,373.1 777.9,372.8 778.7,372.7C779.6,372.6 780.4,372.4 781.2,372.4C782.1,372.3 782.9,372.6 783.7,372.6C784.6,372.5 785.4,372.1 786.2,372.0C787.1,371.9 787.9,372.0 788.7,372.0C789.6,372.0 790.4,372.0 791.2,372.0C792.1,371.9 792.9,371.7 793.7,371.6C794.6,371.5 795.4,371.4 796.2,371.3C797.1,371.3 797.9,371.3 798.7,371.2C799.6,371.2 800.4,371.2 801.2,371.1C802.1,371.1 802.9,370.9 803.7,370.8C804.6,370.7 805.4,370.7 806.2,370.6C807.1,370.6 807.9,370.5 808.7,370.5C809.6,370.4 810.4,370.5 811.2,370.4C812.1,370.4 812.9,370.1 813.7,370.0C814.6,369.9 815.4,369.9 816.2,369.9C817.1,369.9 817.9,369.9 818.7,369.9C819.6,369.8 820.4,369.8 821.2,369.8C822.1,369.7 822.9,369.6 823.7,369.5C824.6,369.5 825.4,369.5 826.2,369.4C827.1,369.4 827.9,369.3 828.7,369.2C829.6,369.1 830.4,369.1 831.2,369.0C832.1,368.9 832.9,368.8 833.7,368.7C834.6,368.6 835.4,368.7 836.2,368.7C837.1,368.7 837.9,368.7 838.7,368.6C839.6,368.5 840.4,368.3 841.2,368.2C842.1,368.2 842.9,368.3 843.7,368.2C844.6,368.2 845.4,368.0 846.2,367.9C847.1,367.8 847.9,367.9 848.7,367.8C849.6,367.8 850.4,367.7 851.2,367.6C852.1,367.6 852.9,367.5 853.7,367.4C854.6,367.3 855.4,367.4 856.2,367.3C857.1,367.2 857.9,367.1 858.7,367.1C859.6,367.0 860.4,367.0 861.2,367.0C862.1,366.9 862.9,366.8 863.7,366.7C864.6,366.7 865.4,366.7 866.2,366.6C867.1,366.5 867.9,366.1 868.7,365.9C869.6,365.7 870.4,365.6 871.2,365.6C872.1,365.5 872.9,365.6 873.7,365.7C874.6,365.8 875.4,366.0 876.2,366.0C877.1,366.0 877.9,365.6 878.7,365.6C879.6,365.5 880.4,365.8 881.2,365.8C882.1,365.9 882.9,366.0 883.7,366.0C884.6,366.0 885.4,365.6 886.2,365.6C887.1,365.6 887.9,365.9 888.7,366.0C889.6,366.0 890.4,366.0 891.2,366.0C892.1,366.1 892.9,366.1 893.7,366.0C894.6,366.0 895.4,365.9 896.2,365.8C897.1,365.8 897.9,365.9 898.7,365.8C899.6,365.8 900.4,365.5 901.2,365.6C902.1,365.7 902.9,366.1 903.7,366.4C904.6,366.7 905.4,367.4 906.2,367.4C907.1,367.5 907.9,366.9 908.7,366.6C909.6,366.3 910.4,365.7 911.2,365.7C912.1,365.8 912.9,366.6 913.7,366.9C914.6,367.3 915.4,367.6 916.2,367.9C917.1,368.1 917.9,368.2 918.7,368.4C919.6,368.5 920.4,368.5 921.2,368.7C922.1,368.8 922.3,368.8 923.7,369.1C925.2,369.4 928.3,369.4 930.0,370.3C931.7,371.2 933.1,372.7 934.2,374.5C935.4,376.3 936.1,378.8 937.0,380.8C938.0,382.8 939.2,384.5 940.1,386.5C941.0,388.5 941.5,391.2 942.4,392.8C943.3,394.4 944.5,395.2 945.5,396.1C946.5,396.9 947.4,397.9 948.3,398.0C949.2,398.1 950.2,397.1 951.1,396.6C952.1,396.1 952.9,396.0 953.9,394.9C955.0,393.9 956.2,391.6 957.5,390.4C958.8,389.2 960.4,388.1 961.7,387.6C963.0,387.1 964.0,387.0 965.2,387.3C966.4,387.6 967.6,388.7 968.7,389.3C969.9,389.9 971.1,390.2 972.3,390.7C973.4,391.2 974.7,392.3 975.8,392.1C976.8,391.9 977.7,390.0 978.6,389.3C979.5,388.6 980.4,388.7 981.4,387.9C982.5,387.1 983.8,386.0 984.9,384.4C986.1,382.7 987.3,379.9 988.5,378.0C989.6,376.2 990.9,374.2 992.0,373.1C993.0,372.0 993.9,372.2 994.8,371.7C995.7,371.2 996.4,369.9 997.3,370.3C998.3,370.6 999.6,371.8 1000.4,373.8C1001.2,375.8 1001.4,379.4 1002.1,382.3C1002.8,385.1 1003.9,388.0 1004.6,390.7C1005.4,393.4 1005.9,396.7 1006.8,398.5C1007.6,400.2 1008.3,400.2 1009.6,401.3C1010.9,402.3 1013.1,403.7 1014.5,404.8C1015.9,405.8 1016.9,406.7 1018.0,407.6C1019.2,408.5 1020.4,409.1 1021.3,410.4C1022.1,411.7 1022.4,413.9 1023.0,415.4C1023.5,416.8 1023.9,417.9 1024.6,418.9C1025.4,419.8 1026.2,421.0 1027.2,421.0C1028.1,421.0 1029.2,420.2 1030.3,418.9C1031.3,417.6 1032.5,414.8 1033.5,413.2C1034.5,411.6 1035.4,410.0 1036.3,409.3C1037.3,408.6 1038.3,408.4 1039.2,409.3C1040.0,410.2 1040.6,411.9 1041.3,414.6C1042.0,417.4 1042.8,422.6 1043.4,425.9C1044.0,429.2 1044.2,432.3 1044.8,434.4C1045.3,436.5 1045.9,438.1 1046.6,438.6C1047.3,439.1 1048.3,438.6 1049.0,437.2C1049.8,435.8 1050.4,432.3 1051.1,430.1C1051.8,428.0 1052.5,425.0 1053.2,424.5C1053.9,424.0 1054.8,425.8 1055.4,427.3C1055.9,428.8 1056.2,432.5 1056.8,433.7C1057.3,434.8 1058.3,435.1 1058.9,434.4C1059.5,433.7 1059.8,430.1 1060.3,429.4C1060.8,428.7 1061.5,428.6 1062.0,430.1C1062.4,431.7 1062.7,435.8 1063.1,438.6C1063.5,441.4 1064.0,445.3 1064.5,447.0C1065.0,448.8 1065.4,449.6 1065.9,449.2C1066.5,448.7 1067.1,447.2 1067.7,444.2C1068.4,441.3 1069.0,435.8 1069.7,431.5C1070.5,427.3 1071.5,422.5 1072.3,418.9C1073.0,415.2 1073.7,411.5 1074.4,409.7C1075.1,408.0 1075.7,408.3 1076.5,408.3C1077.3,408.3 1078.4,410.0 1079.3,409.7C1080.2,409.5 1081.3,407.5 1082.1,406.9C1082.9,406.3 1083.5,407.0 1084.2,405.9C1084.9,404.9 1085.4,402.4 1086.3,400.6C1087.3,398.7 1088.8,396.1 1089.9,394.9C1090.9,393.8 1091.7,394.4 1092.7,393.8C1093.7,393.2 1095.0,393.1 1095.9,391.4C1096.8,389.7 1097.3,386.2 1097.9,383.7C1098.5,381.1 1098.8,375.7 1099.7,375.9C1100.7,376.2 1102.5,383.0 1103.5,385.1C1104.5,387.2 1104.9,388.6 1105.6,388.6C1106.3,388.6 1107.1,387.5 1107.7,385.1C1108.4,382.6 1109.0,376.5 1109.6,373.8C1110.2,371.1 1110.6,369.5 1111.3,368.9C1111.9,368.3 1112.7,368.3 1113.4,370.3C1114.1,372.3 1114.9,376.0 1115.5,380.8C1116.1,385.7 1116.7,392.3 1117.2,399.2C1117.7,406.0 1118.2,414.2 1118.6,421.7C1119.0,429.2 1119.3,438.9 1119.7,444.2C1120.1,449.5 1120.5,452.7 1121.1,453.4C1121.7,454.1 1122.6,451.4 1123.2,448.5C1123.9,445.5 1124.5,440.0 1125.1,435.8C1125.6,431.5 1126.0,425.7 1126.5,423.1C1126.9,420.5 1127.4,419.6 1127.9,420.3C1128.4,421.0 1129.0,423.3 1129.6,427.3C1130.1,431.3 1130.7,437.9 1131.3,444.2C1131.9,450.6 1132.4,458.1 1133.1,465.4C1133.8,472.6 1134.6,480.6 1135.2,487.9C1135.8,495.2 1136.5,504.0 1136.9,509.0C1137.3,514.1 1137.2,516.4 1137.7,518.2C1138.3,519.9 1139.5,518.1 1140.1,519.6C1140.8,521.1 1140.8,525.7 1141.5,527.3C1142.3,529.0 1143.4,527.3 1144.4,529.4C1145.3,531.5 1146.4,535.4 1147.2,540.0C1148.0,544.6 1148.6,551.3 1149.3,556.9C1150.0,562.5 1150.8,567.7 1151.4,573.8C1152.1,579.9 1152.7,586.7 1153.2,593.5C1153.8,600.3 1154.2,607.6 1154.6,614.6C1155.0,621.7 1155.3,629.9 1155.6,635.8C1156.0,641.6 1156.4,647.2 1156.8,649.9C1157.1,652.6 1157.2,652.2 1157.7,652.0C1158.3,651.7 1159.3,650.7 1159.9,648.5C1160.4,646.2 1160.8,640.9 1161.3,638.6C1161.7,636.2 1162.0,634.1 1162.4,634.4C1162.8,634.6 1163.3,636.7 1163.7,640.0C1164.1,643.3 1164.4,650.3 1164.8,654.1C1165.2,657.8 1165.4,660.5 1165.9,662.5C1166.4,664.5 1167.0,665.9 1167.6,666.1C1168.2,666.2 1169.0,665.5 1169.7,663.2C1170.4,661.0 1171.2,656.8 1171.8,652.7C1172.5,648.6 1173.0,641.8 1173.5,638.6C1174.0,635.4 1174.4,634.4 1174.9,633.7C1175.5,633.0 1176.2,633.7 1176.8,634.4C1177.3,635.1 1177.6,638.1 1178.2,637.9C1178.7,637.7 1179.4,636.8 1180.0,633.0C1180.6,629.1 1181.1,622.4 1181.7,614.6C1182.3,606.9 1183.1,595.6 1183.8,586.5C1184.5,577.3 1185.2,567.9 1185.9,559.7C1186.6,551.5 1187.2,544.5 1188.0,537.2C1188.8,529.9 1190.0,523.6 1190.8,516.1C1191.7,508.5 1192.1,499.9 1193.0,492.1C1193.8,484.4 1194.8,476.6 1195.8,469.6C1196.7,462.5 1197.7,455.5 1198.6,449.9C1199.5,444.2 1200.5,439.2 1201.4,435.8C1202.3,432.4 1203.3,430.6 1204.2,429.4C1205.2,428.3 1206.0,428.0 1207.0,428.7C1208.1,429.4 1209.6,431.3 1210.6,433.7C1211.5,436.0 1212.0,440.8 1212.7,442.8C1213.3,444.8 1213.8,446.3 1214.4,445.6C1215.0,444.9 1215.5,442.8 1216.2,438.6C1216.9,434.4 1217.5,426.4 1218.3,420.3C1219.1,414.2 1220.1,407.4 1221.1,402.0C1222.2,396.6 1223.5,391.6 1224.6,387.9C1225.8,384.1 1227.1,381.7 1228.2,379.4C1229.2,377.2 1229.8,375.9 1231.0,374.5C1232.2,373.1 1233.9,372.4 1235.2,371.0C1236.5,369.6 1237.3,367.9 1238.7,366.1C1240.1,364.2 1242.1,361.1 1243.7,359.7C1245.2,358.4 1246.8,358.8 1247.9,358.0C1248.9,357.3 1249.1,355.6 1250.0,355.2C1250.9,354.8 1252.3,355.8 1253.5,355.8C1254.7,355.7 1255.9,355.3 1257.0,354.8C1258.2,354.3 1259.4,352.8 1260.6,352.7C1261.7,352.6 1262.9,354.0 1264.1,354.1C1265.3,354.2 1266.2,353.1 1267.6,353.4C1269.0,353.7 1271.2,354.4 1272.3,355.8C1273.4,357.2 1273.6,359.6 1274.3,361.7C1275.0,363.8 1275.7,366.0 1276.3,368.6C1276.8,371.2 1277.3,375.3 1277.7,377.5C1278.2,379.6 1278.6,380.3 1279.2,381.4C1279.8,382.5 1280.5,383.9 1281.2,383.9C1281.9,383.9 1282.5,382.6 1283.2,381.4C1283.8,380.2 1284.6,377.5 1285.1,376.5C1285.7,375.4 1286.1,376.1 1286.4,375.0C1286.8,373.8 1286.8,370.7 1287.1,369.6C1287.4,368.4 1287.9,367.8 1288.3,368.1C1288.7,368.4 1289.2,369.3 1289.6,371.5C1290.0,373.8 1290.3,377.8 1290.8,381.4C1291.2,385.0 1291.6,389.0 1292.0,393.2C1292.5,397.5 1293.0,402.3 1293.5,407.0C1294.0,411.8 1294.6,417.2 1295.0,421.8C1295.4,426.4 1295.7,431.7 1296.0,434.6C1296.3,437.6 1296.3,439.1 1296.7,439.6C1297.0,440.1 1297.5,439.9 1298.0,437.6C1298.4,435.3 1298.8,429.2 1299.1,425.8C1299.5,422.3 1299.8,418.8 1300.2,416.9C1300.6,415.0 1300.9,414.5 1301.4,414.4C1301.9,414.4 1302.6,416.1 1303.4,416.7C1304.1,417.3 1305.2,417.2 1305.8,417.9C1306.5,418.6 1306.9,419.0 1307.5,420.8C1308.1,422.7 1308.7,425.8 1309.3,428.7C1309.9,431.7 1310.5,435.6 1311.1,438.6C1311.6,441.5 1312.0,444.3 1312.4,446.5C1312.9,448.6 1313.4,450.3 1314.0,451.4C1314.7,452.5 1315.6,453.1 1316.2,452.9C1316.8,452.7 1317.4,452.0 1317.9,450.4C1318.3,448.9 1318.5,444.5 1318.9,443.5C1319.2,442.5 1319.7,443.8 1320.1,444.5C1320.6,445.2 1321.1,447.3 1321.6,447.5C1322.1,447.6 1322.6,446.4 1323.1,445.5C1323.6,444.6 1324.0,442.5 1324.6,442.0C1325.2,441.5 1325.9,442.8 1326.5,442.5C1327.2,442.3 1327.9,440.5 1328.5,440.6C1329.2,440.6 1329.9,441.4 1330.5,443.0C1331.0,444.7 1331.4,447.9 1331.8,450.4C1332.2,453.0 1332.4,456.3 1332.8,458.3C1333.1,460.4 1333.3,462.3 1333.7,462.7C1334.2,463.2 1334.8,462.8 1335.4,461.3C1336.0,459.7 1336.8,456.0 1337.4,453.4C1338.0,450.7 1338.3,447.5 1338.9,445.5C1339.4,443.5 1340.1,441.7 1340.6,441.5C1341.2,441.4 1341.8,443.4 1342.3,444.5C1342.8,445.7 1343.3,447.0 1343.8,448.4C1344.3,449.9 1345.0,452.4 1345.6,453.4C1346.2,454.4 1346.7,454.9 1347.3,454.4C1347.8,453.9 1348.2,452.4 1348.7,450.4C1349.3,448.4 1350.0,445.2 1350.5,442.5C1351.0,439.9 1351.2,436.5 1351.7,434.6C1352.1,432.8 1352.7,432.7 1353.2,431.7C1353.7,430.7 1354.2,429.1 1354.6,428.7C1355.1,428.4 1355.0,429.1 1355.6,429.7C1356.3,430.4 1358.1,432.2 1358.6,432.7" stroke="#FF00FF" stroke-width="4.7"/>
<path class="c" clip-path="url(#ca)" d="M113.7,133.5C114.1,133.6 115.4,134.1 116.2,134.0C117.1,133.8 117.9,132.7 118.7,132.7C119.6,132.6 120.4,133.8 121.2,133.7C122.1,133.7 122.9,132.5 123.7,132.2C124.6,132.0 125.4,132.2 126.2,132.1C127.1,132.1 127.9,132.2 128.7,132.1C129.6,132.0 130.4,131.4 131.2,131.6C132.1,131.8 132.9,133.1 133.7,133.3C134.6,133.5 135.4,132.7 136.2,132.6C137.1,132.5 137.9,132.5 138.7,132.6C139.6,132.7 140.4,133.3 141.2,133.3C142.1,133.2 142.9,132.3 143.7,132.3C144.6,132.3 145.4,133.5 146.2,133.5C147.1,133.5 147.9,132.5 148.7,132.4C149.6,132.2 150.4,132.6 151.2,132.5C152.1,132.4 152.9,131.9 153.7,131.8C154.6,131.7 155.4,132.0 156.2,131.9C157.1,131.8 157.9,131.0 158.7,131.0C159.6,131.0 160.4,131.6 161.2,131.9C162.1,132.2 162.9,132.7 163.7,132.7C164.6,132.8 165.4,132.5 166.2,132.2C167.1,131.8 168.0,130.9 168.7,130.7C169.5,130.4 169.9,130.5 170.8,130.7C171.6,130.9 172.8,131.8 173.7,132.1C174.6,132.5 175.5,132.5 176.2,132.9C177.0,133.2 177.3,134.0 178.2,134.3C179.0,134.6 180.3,134.6 181.2,134.5C182.2,134.4 182.9,134.0 183.7,133.6C184.6,133.2 185.4,132.2 186.2,132.1C187.1,132.1 187.9,133.1 188.7,133.2C189.6,133.4 190.4,133.2 191.2,133.0C192.1,132.7 192.9,131.8 193.7,131.7C194.6,131.6 195.4,132.0 196.2,132.1C197.1,132.3 197.9,132.7 198.7,132.7C199.6,132.7 200.4,132.3 201.2,132.4C202.1,132.5 202.9,133.1 203.7,133.2C204.6,133.2 205.4,132.9 206.2,132.6C207.1,132.4 207.9,131.9 208.7,131.7C209.6,131.5 210.4,131.2 211.2,131.2C212.1,131.2 212.7,131.3 213.7,131.9C214.7,132.5 216.4,134.4 217.3,134.9C218.1,135.4 218.1,135.3 218.7,134.8C219.4,134.3 220.6,132.7 221.2,132.1C221.9,131.5 221.7,130.8 222.5,131.1C223.4,131.5 225.2,133.6 226.2,134.1C227.3,134.5 227.9,133.7 228.7,133.8C229.6,133.9 230.4,134.3 231.2,134.7C232.1,135.0 232.9,135.4 233.7,135.9C234.6,136.5 235.4,137.5 236.2,137.9C237.1,138.4 237.9,138.3 238.7,138.8C239.6,139.4 240.4,141.0 241.2,141.5C242.1,142.0 242.9,141.1 243.7,141.7C244.6,142.4 245.4,144.5 246.2,145.4C247.1,146.2 247.9,146.2 248.7,146.8C249.6,147.4 250.4,148.2 251.2,148.9C252.1,149.7 252.9,150.5 253.7,151.0C254.6,151.6 255.4,151.5 256.2,152.3C257.1,153.2 257.8,154.7 258.7,156.1C259.6,157.5 260.8,159.8 261.6,160.7C262.5,161.6 262.9,161.4 263.7,161.6C264.6,161.7 266.1,161.1 266.9,161.3C267.7,161.6 268.0,162.5 268.7,163.2C269.5,163.8 270.4,164.3 271.2,165.2C272.1,166.1 272.9,167.8 273.7,168.7C274.6,169.6 275.4,169.9 276.2,170.6C277.1,171.4 277.9,172.4 278.7,173.2C279.6,173.9 280.4,174.3 281.2,175.1C282.1,176.0 282.9,177.5 283.7,178.2C284.6,178.9 285.4,178.6 286.2,179.3C287.1,180.0 287.9,181.2 288.7,182.3C289.6,183.4 290.4,185.1 291.2,186.2C292.1,187.2 292.9,187.7 293.7,188.6C294.6,189.6 295.4,190.9 296.2,191.9C297.1,193.0 297.9,194.3 298.7,195.2C299.6,196.1 300.4,196.3 301.2,197.3C302.1,198.2 302.9,199.7 303.7,200.8C304.6,202.0 305.4,202.9 306.2,204.0C307.1,205.1 307.9,206.6 308.7,207.6C309.6,208.6 310.4,209.0 311.2,210.1C312.1,211.2 312.9,212.9 313.7,214.1C314.6,215.4 315.4,216.2 316.2,217.6C317.1,218.9 317.9,220.7 318.7,222.1C319.6,223.4 320.4,223.9 321.2,225.5C322.1,227.1 322.9,230.3 323.7,231.6C324.6,233.0 325.4,232.8 326.2,233.7C327.1,234.5 327.7,235.9 328.7,237.0C329.8,238.0 331.6,239.1 332.4,239.9C333.2,240.8 333.1,241.4 333.7,242.2C334.4,243.0 335.4,243.8 336.2,244.9C337.1,246.0 337.9,247.6 338.7,248.7C339.6,249.8 340.4,250.0 341.2,251.6C342.1,253.2 342.9,256.3 343.7,258.2C344.5,260.1 345.1,261.8 346.1,263.2C347.1,264.5 348.9,266.1 349.7,266.3C350.6,266.6 350.6,265.2 351.2,264.7C351.9,264.3 352.9,264.1 353.7,263.7C354.6,263.4 355.4,262.8 356.2,262.6C357.1,262.4 357.9,262.5 358.7,262.6C359.6,262.6 360.4,262.7 361.2,262.8C362.1,262.9 362.9,263.1 363.7,263.1C364.6,263.2 365.5,262.8 366.2,263.0C367.0,263.2 367.5,264.3 368.3,264.2C369.1,264.2 370.3,263.0 371.2,262.7C372.1,262.3 372.9,262.6 373.7,262.0C374.6,261.4 375.4,260.4 376.2,259.3C377.1,258.2 377.9,256.3 378.7,255.3C379.6,254.4 380.4,254.4 381.2,253.7C382.1,253.0 382.9,251.9 383.7,251.0C384.6,250.0 385.4,248.6 386.2,248.0C387.1,247.4 387.9,247.8 388.7,247.3C389.6,246.8 390.4,245.7 391.2,245.0C392.1,244.4 392.9,244.1 393.7,243.3C394.6,242.5 395.4,240.8 396.2,240.2C397.1,239.5 397.9,240.2 398.7,239.6C399.6,239.0 400.4,237.4 401.2,236.7C402.1,236.0 402.9,236.0 403.7,235.4C404.6,234.9 405.4,234.0 406.2,233.4C407.1,232.8 407.9,232.3 408.7,231.9C409.6,231.5 410.4,231.4 411.2,230.9C412.1,230.4 412.9,229.3 413.7,228.9C414.6,228.5 415.4,228.8 416.2,228.3C417.1,227.9 417.9,226.9 418.7,226.3C419.6,225.7 420.4,225.5 421.2,224.9C422.1,224.4 422.9,223.2 423.7,222.9C424.6,222.5 425.4,223.1 426.2,222.7C427.1,222.3 427.9,221.4 428.7,220.6C429.6,219.9 430.4,218.7 431.2,218.2C432.1,217.7 432.9,217.9 433.7,217.6C434.6,217.3 435.4,216.7 436.2,216.2C437.1,215.7 437.9,214.9 438.7,214.5C439.6,214.0 440.4,213.5 441.2,213.3C442.1,213.0 442.9,213.4 443.7,212.9C444.6,212.5 445.4,211.2 446.2,210.6C447.1,209.9 447.9,209.6 448.7,209.0C449.6,208.5 450.4,208.0 451.2,207.4C452.1,206.8 452.9,206.1 453.7,205.7C454.6,205.2 455.4,204.9 456.2,204.6C457.1,204.3 457.9,204.1 458.7,203.8C459.6,203.4 460.4,203.1 461.2,202.7C462.1,202.2 462.9,201.4 463.7,201.0C464.6,200.6 465.4,200.6 466.2,200.2C467.1,199.8 467.9,198.9 468.7,198.5C469.6,198.0 470.4,197.6 471.2,197.3C472.1,197.0 472.9,196.6 473.7,196.6C474.6,196.7 475.4,197.2 476.2,197.3C477.1,197.4 477.9,197.5 478.7,197.2C479.6,196.9 480.4,195.6 481.2,195.6C482.1,195.5 482.9,196.7 483.7,197.0C484.6,197.2 485.4,196.9 486.2,197.0C487.1,197.1 487.9,197.3 488.7,197.5C489.6,197.7 490.3,198.1 491.2,198.2C492.1,198.4 493.3,197.9 494.1,198.3C494.9,198.7 495.5,199.8 496.2,200.7C497.0,201.7 497.9,203.0 498.7,203.9C499.6,204.8 500.6,205.4 501.2,206.1C501.9,206.9 501.7,208.2 502.5,208.2C503.4,208.3 505.2,207.1 506.2,206.4C507.3,205.8 507.9,204.9 508.7,204.4C509.6,203.9 510.4,203.9 511.2,203.3C512.1,202.7 512.9,201.1 513.7,200.7C514.6,200.3 515.4,201.1 516.2,200.8C517.1,200.5 517.9,199.5 518.7,198.9C519.6,198.4 520.4,198.2 521.2,197.6C522.1,197.0 522.9,196.4 523.7,195.6C524.6,194.7 525.4,193.3 526.2,192.5C527.1,191.7 527.9,191.3 528.7,190.9C529.6,190.4 530.4,190.5 531.2,190.0C532.1,189.5 532.9,188.2 533.7,187.7C534.6,187.2 535.4,187.2 536.2,187.0C537.1,186.8 537.9,186.9 538.7,186.6C539.6,186.3 540.4,185.5 541.2,185.0C542.1,184.4 542.9,183.7 543.7,183.2C544.6,182.7 545.4,182.3 546.2,181.9C547.1,181.6 547.9,181.4 548.7,181.0C549.6,180.7 550.4,180.2 551.2,180.0C552.1,179.8 552.9,180.0 553.7,179.6C554.6,179.2 555.4,178.1 556.2,177.7C557.1,177.4 557.9,177.8 558.7,177.5C559.6,177.3 560.4,176.7 561.2,176.2C562.1,175.7 562.9,175.0 563.7,174.6C564.6,174.2 565.4,173.9 566.2,173.7C567.1,173.5 567.9,173.7 568.7,173.5C569.6,173.3 570.4,172.7 571.2,172.4C572.1,172.2 572.9,172.5 573.7,172.2C574.6,171.8 575.4,170.8 576.2,170.5C577.1,170.2 577.9,170.5 578.7,170.4C579.6,170.3 580.4,170.1 581.2,169.9C582.1,169.7 582.9,169.6 583.7,169.3C584.6,169.0 585.4,168.2 586.2,167.9C587.1,167.7 587.9,168.0 588.7,168.0C589.6,168.0 590.4,167.9 591.2,167.7C592.1,167.5 592.9,167.1 593.7,167.0C594.6,166.8 595.4,167.1 596.2,166.9C597.1,166.7 597.9,166.0 598.7,165.8C599.6,165.6 600.4,166.1 601.2,165.9C602.1,165.7 602.9,164.8 603.7,164.5C604.6,164.2 605.4,164.5 606.2,164.3C607.1,164.1 607.9,163.5 608.7,163.4C609.6,163.2 610.4,163.4 611.2,163.3C612.1,163.2 612.9,162.8 613.7,162.7C614.6,162.6 615.4,162.6 616.2,162.5C617.1,162.4 617.9,162.2 618.7,162.1C619.6,162.0 620.4,161.7 621.2,161.7C622.1,161.7 622.9,161.8 623.7,162.0C624.6,162.1 625.4,162.6 626.2,162.7C627.1,162.7 627.9,162.3 628.7,162.3C629.6,162.2 630.4,162.4 631.2,162.4C632.1,162.4 632.9,162.2 633.7,162.2C634.6,162.2 635.4,162.3 636.2,162.3C637.1,162.3 637.9,162.5 638.7,162.4C639.6,162.3 640.4,161.8 641.2,161.7C642.1,161.6 642.9,161.9 643.7,161.8C644.6,161.8 645.4,161.5 646.2,161.5C647.1,161.5 647.9,161.9 648.7,161.9C649.6,161.9 650.4,161.5 651.2,161.4C652.1,161.3 652.9,161.3 653.7,161.2C654.6,161.1 655.4,160.8 656.2,160.8C657.1,160.7 657.9,160.7 658.7,160.7C659.6,160.7 660.4,160.9 661.2,160.7C662.1,160.5 662.9,159.6 663.7,159.5C664.6,159.3 665.4,159.6 666.2,159.6C667.1,159.6 667.9,159.6 668.7,159.4C669.6,159.3 670.4,158.8 671.2,158.8C672.1,158.7 672.9,159.2 673.7,159.1C674.6,158.9 675.4,158.0 676.2,157.8C677.1,157.6 677.9,157.8 678.7,157.9C679.6,157.9 680.4,158.0 681.2,158.0C682.1,158.0 682.9,157.9 683.7,157.8C684.6,157.7 685.4,157.5 686.2,157.4C687.1,157.3 687.9,157.0 688.7,157.0C689.6,157.0 690.4,157.5 691.2,157.4C692.1,157.3 692.9,156.6 693.7,156.5C694.6,156.4 695.4,156.6 696.2,156.6C697.1,156.6 697.9,156.5 698.7,156.5C699.6,156.4 700.4,156.3 701.2,156.2C702.1,156.2 702.9,156.2 703.7,156.2C704.6,156.1 705.4,156.0 706.2,155.9C707.1,155.8 707.9,155.6 708.7,155.5C709.6,155.4 710.4,155.4 711.2,155.4C712.1,155.4 712.9,155.5 713.7,155.5C714.6,155.4 715.4,155.2 716.2,155.1C717.1,155.0 717.9,155.1 718.7,155.0C719.6,154.9 720.4,154.6 721.2,154.5C722.1,154.4 722.9,154.5 723.7,154.6C724.6,154.6 725.4,154.6 726.2,154.6C727.1,154.5 727.9,154.4 728.7,154.3C729.6,154.2 730.4,154.1 731.2,154.0C732.1,154.0 732.9,154.2 733.7,154.2C734.6,154.1 735.4,153.8 736.2,153.7C737.1,153.6 737.9,153.8 738.7,153.7C739.6,153.6 740.4,153.3 741.2,153.2C742.1,153.2 742.9,153.4 743.7,153.4C744.6,153.3 745.4,153.0 746.2,152.9C747.1,152.8 747.9,152.8 748.7,152.8C749.6,152.7 750.4,152.5 751.2,152.5C752.1,152.4 752.9,152.5 753.7,152.4C754.6,152.4 755.4,152.4 756.2,152.3C757.1,152.3 757.9,152.3 758.7,152.3C759.6,152.2 760.4,152.2 761.2,152.1C762.1,152.1 762.9,151.8 763.7,151.8C764.6,151.7 765.4,151.8 766.2,151.8C767.1,151.7 767.9,151.6 768.7,151.6C769.6,151.5 770.4,151.3 771.2,151.3C772.1,151.3 772.9,151.4 773.7,151.4C774.6,151.3 775.4,151.3 776.2,151.2C777.1,151.1 777.9,150.9 778.7,150.8C779.6,150.8 780.4,150.9 781.2,150.9C782.1,151.0 782.9,151.0 783.7,150.9C784.6,150.9 785.4,150.6 786.2,150.5C787.1,150.3 787.9,150.2 788.7,150.2C789.6,150.1 790.4,150.1 791.2,150.1C792.1,150.1 792.9,150.1 793.7,150.1C794.6,150.1 795.4,150.0 796.2,149.9C797.1,149.9 797.9,149.7 798.7,149.7C799.6,149.7 800.4,149.7 801.2,149.8C802.1,149.8 802.9,149.8 803.7,149.7C804.6,149.7 805.4,149.6 806.2,149.5C807.1,149.4 807.9,149.4 808.7,149.3C809.6,149.2 810.4,148.8 811.2,148.7C812.1,148.6 812.9,148.7 813.7,148.7C814.6,148.8 815.4,148.9 816.2,148.9C817.1,148.8 817.9,148.7 818.7,148.6C819.6,148.5 820.4,148.2 821.2,148.2C822.1,148.2 822.9,148.4 823.7,148.4C824.6,148.4 825.4,147.9 826.2,147.9C827.1,147.9 827.9,148.2 828.7,148.2C829.6,148.1 830.4,147.9 831.2,147.7C832.1,147.6 832.9,147.4 833.7,147.3C834.6,147.3 835.4,147.5 836.2,147.5C837.1,147.5 837.9,147.5 838.7,147.4C839.6,147.4 840.4,147.3 841.2,147.2C842.1,147.1 842.9,147.1 843.7,147.0C844.6,146.9 845.4,146.7 846.2,146.6C847.1,146.6 847.9,146.7 848.7,146.7C849.6,146.8 850.4,146.8 851.2,146.7C852.1,146.6 852.9,146.3 853.7,146.2C854.6,146.2 855.4,146.5 856.2,146.5C857.1,146.5 857.9,146.4 858.7,146.3C859.6,146.1 860.4,145.8 861.2,145.7C862.1,145.6 862.9,145.8 863.7,145.8C864.6,145.8 865.4,145.8 866.2,145.7C867.1,145.7 867.9,145.3 868.7,145.2C869.6,145.1 870.4,145.1 871.2,145.2C872.1,145.2 872.9,145.3 873.7,145.3C874.6,145.3 875.4,145.3 876.2,145.2C877.1,145.2 877.9,145.0 878.7,145.0C879.6,144.9 880.4,144.7 881.2,144.7C882.1,144.6 882.9,144.5 883.7,144.5C884.6,144.5 885.4,144.5 886.2,144.5C887.1,144.5 887.9,144.6 888.7,144.5C889.6,144.4 890.4,144.1 891.2,144.0C892.1,143.8 892.9,143.5 893.7,143.4C894.6,143.3 895.4,143.3 896.2,143.3C897.1,143.2 897.9,143.1 898.7,143.1C899.6,143.0 900.4,142.9 901.2,142.9C902.1,142.9 902.9,143.1 903.7,143.1C904.6,143.1 905.4,143.0 906.2,143.0C907.1,142.9 907.9,142.9 908.7,142.8C909.6,142.8 910.4,142.9 911.2,142.9C912.1,143.0 912.9,143.1 913.7,143.2C914.6,143.2 915.4,143.1 916.2,143.3C917.1,143.4 917.9,143.8 918.7,144.1C919.6,144.3 920.4,144.5 921.2,144.7C922.1,144.9 922.9,145.0 923.7,145.2C924.6,145.4 924.5,144.5 926.2,145.9C927.9,147.4 932.3,150.6 934.2,153.8C936.1,157.0 936.7,160.8 937.7,165.1C938.8,169.3 939.7,174.9 940.6,179.2C941.4,183.4 942.0,187.6 943.0,190.4C943.9,193.2 945.1,194.9 946.2,196.1C947.3,197.2 948.7,196.8 949.7,197.5C950.8,198.2 951.4,199.8 952.5,200.3C953.7,200.8 955.2,199.7 956.8,200.6C958.3,201.4 960.2,202.9 961.7,205.2C963.2,207.5 964.7,211.1 965.9,214.4C967.1,217.7 967.9,222.3 968.7,224.9C969.6,227.5 970.1,229.5 970.8,229.9C971.5,230.2 972.1,229.9 973.0,227.0C973.8,224.2 975.0,217.4 975.8,213.0C976.6,208.5 977.2,205.2 977.9,200.3C978.6,195.4 979.2,188.1 980.0,183.4C980.8,178.7 981.9,175.6 982.8,172.1C983.7,168.6 984.4,164.5 985.2,162.3C986.0,160.0 986.9,159.5 987.7,158.7C988.6,158.0 989.7,157.5 990.6,157.7C991.5,158.0 992.3,157.7 993.1,160.1C993.9,162.5 994.8,168.5 995.5,172.1C996.2,175.8 996.7,178.9 997.2,182.0C997.7,185.0 997.7,188.3 998.3,190.4C998.9,192.5 1000.1,194.6 1000.8,194.6C1001.6,194.6 1002.4,191.8 1003.0,190.4C1003.5,189.0 1003.7,187.0 1004.4,186.2C1005.0,185.4 1006.0,185.3 1006.8,185.5C1007.6,185.7 1008.2,185.8 1009.2,187.6C1010.1,189.4 1011.5,193.5 1012.4,196.1C1013.3,198.6 1013.9,200.0 1014.5,203.1C1015.1,206.2 1015.3,210.8 1015.9,214.4C1016.5,217.9 1017.3,221.9 1018.0,224.2C1018.7,226.6 1019.4,227.3 1020.1,228.5C1020.8,229.6 1021.7,229.2 1022.3,231.3C1022.8,233.4 1023.2,238.2 1023.7,241.1C1024.1,244.1 1024.5,247.3 1025.1,248.9C1025.7,250.4 1026.5,251.3 1027.2,250.3C1027.9,249.2 1028.6,244.4 1029.3,242.5C1030.0,240.7 1030.6,239.4 1031.4,239.0C1032.2,238.7 1033.3,240.3 1034.2,240.4C1035.2,240.5 1036.1,240.9 1037.0,239.7C1038.0,238.5 1038.9,234.8 1039.9,233.4C1040.8,232.0 1041.7,231.6 1042.7,231.3C1043.6,230.9 1044.7,232.1 1045.5,231.3C1046.3,230.4 1046.7,227.4 1047.6,226.3C1048.5,225.3 1050.1,224.8 1051.1,224.9C1052.1,225.0 1053.0,224.8 1053.7,227.0C1054.4,229.3 1054.8,235.1 1055.4,238.3C1055.9,241.5 1056.2,244.5 1056.8,246.1C1057.3,247.6 1057.9,248.1 1058.5,247.5C1059.0,246.9 1059.7,243.4 1060.3,242.5C1060.9,241.7 1061.4,241.0 1062.0,242.5C1062.6,244.1 1063.1,249.5 1063.8,251.7C1064.5,253.9 1065.2,255.8 1065.9,255.9C1066.6,256.0 1067.3,255.1 1068.0,252.4C1068.7,249.7 1069.4,244.4 1070.1,239.7C1070.8,235.0 1071.5,228.7 1072.3,224.2C1073.0,219.8 1073.8,215.7 1074.8,213.0C1075.7,210.3 1077.0,210.6 1077.9,208.0C1078.8,205.4 1079.3,201.1 1080.0,197.5C1080.7,193.8 1081.4,189.0 1082.1,186.2C1082.8,183.4 1083.4,181.7 1084.2,180.6C1085.0,179.4 1086.1,179.5 1087.0,179.2C1088.0,178.8 1089.0,179.5 1089.9,178.5C1090.7,177.4 1091.1,174.6 1092.0,172.8C1092.8,171.1 1094.0,170.8 1095.1,167.9C1096.1,165.0 1097.1,156.7 1098.3,155.2C1099.6,153.7 1101.5,157.2 1102.5,158.7C1103.6,160.3 1103.9,164.2 1104.6,164.4C1105.4,164.5 1106.3,161.9 1107.0,159.4C1107.8,157.0 1108.4,151.8 1109.2,149.6C1109.9,147.3 1110.7,146.1 1111.5,146.1C1112.4,146.1 1113.4,147.1 1114.1,149.6C1114.8,152.0 1115.3,155.4 1115.8,160.8C1116.3,166.2 1116.7,174.9 1117.2,182.0C1117.7,189.0 1118.1,198.2 1118.6,203.1C1119.1,208.0 1119.8,210.8 1120.4,211.5C1121.1,212.3 1121.8,209.7 1122.5,207.3C1123.3,205.0 1124.4,201.7 1125.1,197.5C1125.8,193.2 1126.2,185.7 1126.8,182.0C1127.3,178.2 1127.9,175.2 1128.5,174.9C1129.0,174.7 1129.7,177.0 1130.3,180.6C1130.9,184.1 1131.5,190.2 1132.1,196.1C1132.7,201.9 1133.5,208.5 1134.1,215.8C1134.6,223.1 1135.0,232.2 1135.5,239.7C1136.0,247.2 1136.4,256.5 1136.9,260.8C1137.4,265.2 1137.7,265.5 1138.3,265.8C1138.9,266.0 1139.9,265.0 1140.6,262.3C1141.3,259.6 1142.0,254.5 1142.5,249.6C1143.1,244.6 1143.5,236.9 1143.9,232.7C1144.4,228.5 1144.7,226.2 1145.4,224.2C1146.0,222.2 1147.1,219.8 1147.9,220.7C1148.7,221.6 1149.3,226.0 1150.0,229.9C1150.7,233.7 1151.5,237.6 1152.1,243.9C1152.7,250.3 1153.1,260.4 1153.5,267.9C1153.9,275.4 1154.3,282.2 1154.6,289.0C1155.0,295.8 1155.3,303.1 1155.6,308.7C1156.0,314.4 1156.3,319.8 1156.6,322.8C1157.0,325.9 1157.3,326.8 1157.7,327.0C1158.2,327.3 1158.7,326.3 1159.2,324.2C1159.6,322.1 1159.9,318.8 1160.3,314.4C1160.6,309.9 1160.9,300.9 1161.3,297.5C1161.6,294.1 1161.9,293.5 1162.3,293.9C1162.6,294.4 1163.0,296.9 1163.4,300.3C1163.7,303.7 1164.1,310.1 1164.4,314.4C1164.6,318.6 1164.7,323.1 1165.1,325.6C1165.4,328.2 1166.0,329.9 1166.5,329.9C1166.9,329.9 1167.3,328.5 1167.9,325.6C1168.4,322.8 1169.1,316.9 1169.7,313.0C1170.4,309.0 1171.2,304.0 1171.8,301.7C1172.5,299.3 1172.8,299.2 1173.5,298.9C1174.2,298.5 1175.4,299.2 1176.1,299.6C1176.7,299.9 1177.0,302.0 1177.5,301.0C1177.9,299.9 1178.2,295.7 1178.6,293.2C1179.0,290.8 1179.3,287.4 1179.9,286.2C1180.4,285.0 1181.4,285.7 1182.0,286.2C1182.6,286.7 1183.0,289.7 1183.4,289.0C1183.8,288.3 1184.1,287.1 1184.5,282.0C1184.9,276.8 1185.3,265.3 1185.9,258.0C1186.5,250.8 1187.3,244.4 1188.0,238.3C1188.8,232.2 1189.6,226.8 1190.4,221.4C1191.2,216.0 1192.1,210.6 1193.0,205.9C1193.8,201.2 1194.8,196.5 1195.8,193.2C1196.7,190.0 1197.5,187.8 1198.6,186.2C1199.6,184.6 1201.2,185.1 1202.1,183.4C1203.1,181.6 1203.4,177.5 1204.2,175.6C1205.0,173.8 1205.9,172.9 1207.0,172.1C1208.2,171.3 1210.1,171.0 1211.3,171.0C1212.4,170.9 1213.0,172.2 1214.1,171.8C1215.1,171.4 1216.4,170.5 1217.6,168.6C1218.8,166.6 1220.1,162.5 1221.1,160.1C1222.2,157.8 1222.7,156.4 1223.9,154.5C1225.2,152.6 1227.3,150.0 1228.9,148.9C1230.4,147.7 1231.9,147.2 1233.1,147.5C1234.3,147.7 1235.1,149.0 1235.9,150.3C1236.7,151.6 1237.0,154.6 1238.0,155.2C1239.1,155.8 1241.3,155.6 1242.3,153.8C1243.2,152.0 1243.2,147.0 1243.9,144.6C1244.6,142.3 1245.6,141.7 1246.5,139.7C1247.4,137.7 1248.2,134.1 1249.3,132.7C1250.4,131.3 1251.9,130.6 1252.8,131.3C1253.8,132.0 1254.3,134.1 1254.9,136.9C1255.5,139.7 1255.9,145.7 1256.3,148.2C1256.8,150.6 1257.2,151.9 1257.7,151.7C1258.3,151.5 1258.8,149.5 1259.4,146.8C1260.0,144.1 1260.5,138.0 1261.3,135.5C1262.0,133.0 1263.3,132.6 1264.1,132.0C1264.9,131.4 1265.5,131.7 1266.2,132.0C1266.9,132.3 1267.5,134.0 1268.3,133.8C1269.1,133.6 1270.3,130.6 1271.1,130.6C1272.0,130.5 1272.7,131.5 1273.5,133.4C1274.3,135.3 1275.2,139.1 1275.8,141.8C1276.4,144.6 1276.8,147.3 1277.3,149.7C1277.7,152.2 1277.8,154.5 1278.2,156.6C1278.6,158.8 1279.2,161.0 1279.7,162.5C1280.2,164.1 1280.5,164.8 1281.2,166.0C1281.9,167.1 1283.0,167.7 1283.7,169.4C1284.3,171.2 1284.7,174.9 1285.1,176.3C1285.6,177.8 1285.7,179.0 1286.1,178.3C1286.5,177.6 1287.1,172.7 1287.6,171.9C1288.1,171.1 1288.4,171.8 1289.1,173.4C1289.7,174.9 1290.7,178.5 1291.5,181.3C1292.4,184.1 1293.4,187.5 1294.0,190.1C1294.7,192.8 1295.0,195.0 1295.5,197.0C1295.9,199.1 1296.2,202.1 1296.7,202.5C1297.2,202.8 1297.9,201.2 1298.5,199.0C1299.0,196.8 1299.5,191.5 1299.9,189.2C1300.4,186.9 1300.8,185.2 1301.2,185.2C1301.7,185.2 1302.1,187.2 1302.6,189.2C1303.1,191.1 1303.8,193.9 1304.4,197.0C1304.9,200.2 1305.4,204.8 1305.8,207.9C1306.3,211.0 1306.7,213.5 1307.3,215.8C1307.9,218.1 1308.6,219.6 1309.3,221.7C1310.0,223.8 1310.7,226.7 1311.3,228.6C1311.8,230.5 1312.1,232.4 1312.7,233.0C1313.4,233.7 1314.5,233.5 1315.2,232.5C1315.9,231.5 1316.5,227.1 1317.2,227.1C1317.8,227.1 1318.6,231.1 1319.2,232.5C1319.7,234.0 1320.0,235.4 1320.6,236.0C1321.3,236.6 1322.4,236.3 1323.1,236.0C1323.8,235.7 1324.3,234.4 1325.1,234.0C1325.8,233.6 1326.7,234.3 1327.5,233.5C1328.3,232.7 1329.2,229.2 1329.8,229.1C1330.4,228.9 1330.7,230.5 1331.2,232.5C1331.6,234.6 1332.0,238.9 1332.5,241.4C1332.9,243.9 1333.4,247.0 1333.9,247.3C1334.4,247.7 1334.9,245.8 1335.4,243.4C1335.9,240.9 1336.3,235.8 1336.9,232.5C1337.5,229.2 1338.3,226.3 1338.9,223.7C1339.4,221.0 1339.9,218.9 1340.4,216.8C1340.8,214.6 1341.3,211.2 1341.8,210.8C1342.3,210.5 1342.5,214.0 1343.3,214.8C1344.1,215.6 1345.8,216.1 1346.8,215.8C1347.7,215.4 1348.5,214.3 1349.2,212.8C1350.0,211.3 1350.5,208.9 1351.2,206.9C1351.9,204.9 1352.5,202.4 1353.2,201.0C1353.8,199.6 1354.4,199.6 1354.9,198.5C1355.4,197.4 1355.2,197.1 1355.9,194.4C1356.6,191.7 1358.4,184.1 1358.9,182.0" stroke="#10EE10" stroke-width="4.7"/>
<path class="c" clip-path="url(#cb)" d="M115.5,1866.2C116.3,1866.2 119.2,1866.2 120.5,1866.2C121.7,1866.2 122.2,1866.1 123.0,1866.1C123.8,1866.1 124.7,1866.3 125.5,1866.3C126.3,1866.3 127.2,1866.1 128.0,1866.1C128.8,1866.1 129.7,1866.2 130.5,1866.1C131.3,1866.0 132.2,1865.6 133.0,1865.5C133.8,1865.4 134.7,1865.5 135.5,1865.5C136.3,1865.5 137.2,1865.7 138.0,1865.6C138.8,1865.5 139.7,1865.0 140.5,1865.1C141.3,1865.1 142.2,1865.7 143.0,1865.8C143.8,1865.8 144.7,1865.6 145.5,1865.5C146.3,1865.3 147.2,1864.9 148.0,1865.0C148.8,1865.0 149.7,1865.8 150.5,1865.8C151.3,1865.8 152.2,1865.0 153.0,1865.0C153.8,1865.0 154.7,1865.7 155.5,1865.8C156.3,1865.8 157.2,1865.6 158.0,1865.3C158.8,1865.1 159.7,1864.4 160.5,1864.3C161.3,1864.2 162.2,1864.6 163.0,1864.6C163.8,1864.6 164.7,1864.6 165.5,1864.6C166.3,1864.5 167.2,1864.2 168.0,1864.1C168.8,1864.0 169.7,1863.8 170.5,1863.8C171.3,1863.8 172.2,1864.1 173.0,1864.2C173.8,1864.2 174.7,1864.2 175.5,1864.2C176.3,1864.3 177.2,1864.2 178.0,1864.3C178.8,1864.4 179.7,1864.7 180.5,1864.7C181.3,1864.7 182.2,1864.5 183.0,1864.3C183.8,1864.2 184.7,1864.0 185.5,1863.9C186.3,1863.9 187.2,1864.1 188.0,1864.2C188.8,1864.2 189.7,1864.2 190.5,1864.2C191.3,1864.3 192.2,1864.4 193.0,1864.4C193.8,1864.4 194.7,1864.3 195.5,1864.3C196.3,1864.2 197.2,1864.2 198.0,1864.3C198.8,1864.4 199.7,1864.9 200.5,1865.0C201.3,1865.1 202.2,1864.9 203.0,1864.8C203.8,1864.7 204.7,1864.4 205.5,1864.5C206.3,1864.6 207.2,1865.3 208.0,1865.4C208.8,1865.5 209.7,1865.1 210.5,1865.1C211.3,1865.1 212.2,1865.5 213.0,1865.5C213.8,1865.5 214.7,1865.1 215.5,1865.1C216.3,1865.2 217.2,1865.5 218.0,1865.7C218.8,1865.9 219.7,1866.2 220.5,1866.4C221.3,1866.6 222.2,1866.7 223.0,1866.8C223.8,1866.9 224.7,1867.0 225.5,1867.2C226.3,1867.4 227.2,1867.6 228.0,1867.9C228.8,1868.2 229.8,1868.8 230.5,1869.0C231.2,1869.2 231.2,1868.5 232.0,1869.2C232.9,1869.8 234.5,1872.0 235.5,1873.1C236.5,1874.3 237.2,1875.0 238.0,1876.2C238.8,1877.4 239.7,1878.7 240.5,1880.2C241.3,1881.6 242.2,1883.2 243.0,1884.7C243.8,1886.3 244.5,1887.7 245.5,1889.6C246.5,1891.4 248.1,1894.3 248.9,1896.0C249.8,1897.7 249.8,1898.2 250.5,1899.9C251.2,1901.6 252.2,1904.1 253.0,1906.1C253.8,1908.1 254.7,1910.1 255.5,1912.0C256.3,1914.0 257.2,1916.0 258.0,1917.8C258.8,1919.6 259.7,1921.0 260.5,1922.8C261.3,1924.5 262.2,1926.6 263.0,1928.2C263.8,1929.8 264.7,1930.8 265.5,1932.4C266.3,1933.9 267.2,1936.0 268.0,1937.5C268.8,1939.0 269.7,1940.0 270.5,1941.4C271.3,1942.8 272.2,1944.5 273.0,1946.1C273.8,1947.6 274.7,1949.3 275.5,1950.8C276.3,1952.3 277.2,1953.6 278.0,1955.0C278.8,1956.4 279.7,1957.7 280.5,1959.2C281.3,1960.7 282.2,1962.5 283.0,1964.1C283.8,1965.7 284.7,1967.2 285.5,1968.7C286.3,1970.3 287.2,1972.0 288.0,1973.5C288.8,1975.0 289.7,1976.3 290.5,1977.8C291.3,1979.3 292.2,1980.8 293.0,1982.5C293.8,1984.1 294.7,1986.2 295.5,1987.7C296.3,1989.3 297.2,1990.4 298.0,1991.9C298.8,1993.4 299.7,1995.4 300.5,1996.8C301.3,1998.3 302.2,1999.4 303.0,2000.7C303.8,2002.0 304.7,2003.2 305.5,2004.6C306.3,2005.9 307.2,2007.0 308.0,2008.6C308.8,2010.2 309.7,2012.3 310.5,2014.0C311.3,2015.7 312.2,2017.1 313.0,2018.8C313.8,2020.4 314.7,2022.4 315.5,2023.8C316.3,2025.2 317.2,2026.1 318.0,2027.4C318.8,2028.7 319.7,2030.4 320.5,2031.8C321.3,2033.1 322.2,2034.2 323.0,2035.6C323.8,2037.0 324.7,2038.6 325.5,2040.0C326.3,2041.5 327.2,2043.0 328.0,2044.3C328.8,2045.5 329.7,2046.5 330.5,2047.5C331.3,2048.5 332.2,2049.5 333.0,2050.5C333.8,2051.5 334.7,2052.4 335.5,2053.5C336.3,2054.5 337.2,2055.6 338.0,2056.6C338.8,2057.6 339.7,2058.6 340.5,2059.5C341.3,2060.3 342.2,2061.0 343.0,2062.0C343.8,2062.9 344.7,2063.9 345.5,2065.1C346.3,2066.2 347.2,2067.6 348.0,2068.7C348.8,2069.9 349.5,2071.4 350.4,2072.0C351.2,2072.5 352.1,2072.1 353.0,2072.0C353.8,2072.0 354.7,2071.9 355.5,2071.9C356.3,2071.9 357.2,2072.2 358.0,2072.2C358.8,2072.1 359.7,2071.7 360.5,2071.6C361.3,2071.5 362.2,2071.6 363.0,2071.7C363.8,2071.7 364.7,2071.7 365.5,2071.7C366.3,2071.7 367.2,2071.7 368.0,2071.7C368.8,2071.7 369.7,2071.9 370.5,2071.9C371.3,2071.9 372.2,2071.7 373.0,2071.7C373.8,2071.8 374.7,2072.0 375.5,2072.0C376.3,2072.1 377.0,2072.2 377.8,2072.0C378.7,2071.7 379.6,2071.2 380.5,2070.6C381.4,2069.9 382.2,2068.9 383.0,2068.3C383.8,2067.7 384.7,2067.4 385.5,2067.0C386.3,2066.5 387.2,2066.1 388.0,2065.7C388.8,2065.2 389.7,2064.7 390.5,2064.3C391.3,2063.9 392.2,2063.7 393.0,2063.3C393.8,2062.8 394.7,2062.1 395.5,2061.5C396.3,2060.9 397.2,2060.3 398.0,2059.8C398.8,2059.2 399.7,2058.9 400.5,2058.2C401.3,2057.6 402.2,2056.7 403.0,2056.0C403.8,2055.4 404.7,2055.0 405.5,2054.3C406.3,2053.7 407.2,2052.9 408.0,2052.1C408.8,2051.3 409.7,2050.2 410.5,2049.4C411.3,2048.7 412.2,2048.5 413.0,2047.7C413.8,2047.0 414.7,2046.0 415.5,2045.0C416.3,2044.0 417.2,2042.9 418.0,2041.9C418.8,2041.0 419.7,2040.2 420.5,2039.1C421.3,2038.0 422.2,2036.5 423.0,2035.4C423.8,2034.3 424.7,2033.6 425.5,2032.5C426.3,2031.5 427.2,2030.2 428.0,2029.0C428.8,2027.9 429.7,2026.5 430.5,2025.4C431.3,2024.2 432.2,2023.2 433.0,2022.0C433.8,2020.8 434.7,2019.5 435.5,2018.4C436.3,2017.2 437.2,2016.3 438.0,2015.1C438.8,2014.0 439.7,2012.6 440.5,2011.4C441.3,2010.2 442.2,2009.3 443.0,2008.2C443.8,2007.1 444.7,2006.0 445.5,2004.8C446.3,2003.7 447.2,2002.7 448.0,2001.5C448.8,2000.3 449.7,1998.8 450.5,1997.7C451.3,1996.5 452.2,1995.6 453.0,1994.5C453.8,1993.3 454.7,1992.1 455.5,1991.0C456.3,1990.0 457.2,1989.0 458.0,1987.9C458.8,1986.9 459.7,1985.6 460.5,1984.5C461.3,1983.4 462.2,1982.3 463.0,1981.4C463.8,1980.4 464.7,1979.9 465.5,1978.9C466.3,1977.9 467.2,1976.6 468.0,1975.4C468.8,1974.2 469.5,1973.4 470.5,1971.9C471.5,1970.5 473.2,1967.8 474.0,1966.8C474.8,1965.8 474.8,1966.2 475.5,1965.9C476.2,1965.6 477.2,1965.1 478.0,1964.7C478.8,1964.2 479.7,1963.4 480.5,1963.1C481.3,1962.8 482.2,1963.0 483.0,1962.9C483.8,1962.8 484.7,1962.6 485.5,1962.4C486.3,1962.3 487.2,1962.1 488.0,1962.0C488.8,1962.0 489.7,1962.1 490.5,1962.1C491.3,1962.2 492.2,1962.2 493.0,1962.2C493.8,1962.2 494.7,1962.2 495.5,1962.2C496.3,1962.2 497.2,1962.2 498.0,1962.2C498.8,1962.2 499.7,1962.0 500.5,1962.1C501.3,1962.1 502.2,1962.4 503.0,1962.5C503.8,1962.7 504.7,1962.9 505.5,1963.0C506.3,1963.1 507.0,1963.7 507.8,1963.2C508.7,1962.6 509.6,1960.7 510.5,1959.6C511.4,1958.6 512.2,1957.7 513.0,1956.8C513.8,1955.9 514.7,1955.2 515.5,1954.2C516.3,1953.2 517.2,1951.7 518.0,1950.7C518.8,1949.7 519.7,1949.0 520.5,1948.1C521.3,1947.1 522.2,1946.0 523.0,1945.0C523.8,1944.0 524.7,1943.3 525.5,1942.1C526.3,1940.9 527.2,1939.2 528.0,1937.8C528.8,1936.4 529.7,1934.7 530.5,1933.6C531.3,1932.6 532.2,1932.5 533.0,1931.7C533.8,1930.9 534.7,1929.7 535.5,1928.9C536.3,1928.2 537.2,1927.7 538.0,1927.0C538.8,1926.3 539.7,1925.5 540.5,1924.9C541.3,1924.2 542.2,1923.8 543.0,1923.1C543.8,1922.4 544.7,1921.4 545.5,1920.7C546.3,1920.0 547.2,1919.4 548.0,1918.8C548.8,1918.3 549.7,1917.9 550.5,1917.3C551.3,1916.7 552.2,1916.1 553.0,1915.4C553.8,1914.7 554.7,1913.9 555.5,1913.2C556.3,1912.6 557.2,1912.2 558.0,1911.7C558.8,1911.2 559.7,1910.7 560.5,1910.2C561.3,1909.7 562.2,1909.3 563.0,1908.9C563.8,1908.5 564.7,1908.2 565.5,1907.8C566.3,1907.4 567.2,1906.9 568.0,1906.4C568.8,1905.9 569.7,1905.3 570.5,1904.9C571.3,1904.5 572.2,1904.3 573.0,1903.9C573.8,1903.5 574.7,1902.9 575.5,1902.5C576.3,1902.2 577.2,1901.9 578.0,1901.6C578.8,1901.2 579.7,1900.9 580.5,1900.5C581.3,1900.2 582.2,1899.7 583.0,1899.4C583.8,1899.0 584.7,1898.8 585.5,1898.5C586.3,1898.2 587.2,1897.9 588.0,1897.6C588.8,1897.3 589.7,1897.0 590.5,1896.8C591.3,1896.5 592.2,1896.3 593.0,1896.0C593.8,1895.7 594.7,1895.5 595.5,1895.2C596.3,1894.9 597.2,1894.4 598.0,1894.1C598.8,1893.8 599.7,1893.6 600.5,1893.4C601.3,1893.2 602.2,1893.0 603.0,1892.8C603.8,1892.6 604.7,1892.5 605.5,1892.3C606.3,1892.1 607.2,1891.8 608.0,1891.6C608.8,1891.4 609.7,1891.2 610.5,1891.1C611.3,1890.9 612.2,1890.7 613.0,1890.6C613.8,1890.4 614.7,1890.3 615.5,1890.1C616.3,1889.9 617.2,1889.6 618.0,1889.5C618.8,1889.4 619.7,1889.3 620.5,1889.3C621.3,1889.2 622.2,1889.1 623.0,1889.0C623.8,1889.0 624.7,1889.1 625.5,1889.0C626.3,1889.0 627.2,1889.1 628.0,1889.0C628.8,1888.9 629.7,1888.5 630.5,1888.4C631.3,1888.3 632.2,1888.4 633.0,1888.4C633.8,1888.4 634.7,1888.4 635.5,1888.3C636.3,1888.3 637.2,1888.2 638.0,1888.2C638.8,1888.3 639.7,1888.6 640.5,1888.6C641.3,1888.7 642.2,1888.6 643.0,1888.6C643.8,1888.6 644.7,1888.5 645.5,1888.5C646.3,1888.6 647.2,1888.8 648.0,1888.8C648.8,1888.8 649.7,1888.4 650.5,1888.3C651.3,1888.3 652.2,1888.4 653.0,1888.3C653.8,1888.3 654.7,1888.3 655.5,1888.2C656.3,1888.1 657.2,1887.8 658.0,1887.7C658.8,1887.6 659.7,1887.6 660.5,1887.5C661.3,1887.5 662.2,1887.5 663.0,1887.4C663.8,1887.3 664.7,1887.2 665.5,1887.0C666.3,1886.9 667.2,1886.7 668.0,1886.6C668.8,1886.5 669.7,1886.5 670.5,1886.4C671.3,1886.4 672.2,1886.3 673.0,1886.2C673.8,1886.1 674.7,1886.0 675.5,1885.9C676.3,1885.9 677.2,1886.0 678.0,1886.0C678.8,1886.0 679.7,1886.1 680.5,1886.0C681.3,1886.0 682.2,1885.9 683.0,1885.9C683.8,1885.9 684.7,1885.9 685.5,1885.8C686.3,1885.8 687.2,1885.5 688.0,1885.5C688.8,1885.6 689.7,1885.9 690.5,1885.9C691.3,1886.0 692.2,1885.6 693.0,1885.6C693.8,1885.7 694.7,1886.0 695.5,1886.0C696.3,1886.1 697.2,1886.1 698.0,1886.0C698.8,1886.0 699.7,1885.9 700.5,1885.8C701.3,1885.8 702.2,1885.9 703.0,1885.9C703.8,1885.8 704.7,1885.6 705.5,1885.5C706.3,1885.4 707.2,1885.3 708.0,1885.2C708.8,1885.1 709.7,1885.0 710.5,1884.9C711.3,1884.8 712.2,1884.7 713.0,1884.6C713.8,1884.5 714.7,1884.3 715.5,1884.2C716.3,1884.1 717.2,1884.0 718.0,1883.9C718.8,1883.8 719.7,1883.6 720.5,1883.4C721.3,1883.3 722.2,1883.2 723.0,1883.0C723.8,1882.9 724.7,1882.7 725.5,1882.6C726.3,1882.5 727.2,1882.4 728.0,1882.3C728.8,1882.2 729.7,1882.0 730.5,1881.9C731.3,1881.8 732.2,1881.7 733.0,1881.6C733.8,1881.6 734.7,1881.5 735.5,1881.5C736.3,1881.4 737.2,1881.3 738.0,1881.2C738.8,1881.1 739.7,1881.1 740.5,1881.0C741.3,1880.9 742.2,1880.9 743.0,1880.8C743.8,1880.8 744.7,1880.7 745.5,1880.7C746.3,1880.7 747.2,1880.7 748.0,1880.7C748.8,1880.7 749.7,1880.7 750.5,1880.7C751.3,1880.7 752.2,1880.7 753.0,1880.7C753.8,1880.7 754.7,1880.7 755.5,1880.6C756.3,1880.5 757.2,1880.2 758.0,1880.2C758.8,1880.1 759.7,1880.1 760.5,1880.1C761.3,1880.1 762.2,1879.9 763.0,1880.1C763.8,1880.3 764.7,1880.9 765.5,1881.2C766.3,1881.6 766.9,1882.8 767.7,1882.3C768.6,1881.7 769.8,1878.9 770.5,1877.7C771.2,1876.6 771.1,1875.5 772.0,1875.3C772.8,1875.1 774.5,1876.3 775.5,1876.7C776.5,1877.1 777.2,1877.3 778.0,1877.6C778.8,1878.0 779.7,1878.5 780.5,1878.8C781.3,1879.1 781.7,1879.4 782.5,1879.5C783.4,1879.6 784.6,1879.4 785.5,1879.4C786.4,1879.3 787.2,1879.1 788.0,1879.1C788.8,1879.0 789.7,1878.8 790.5,1878.9C791.3,1878.9 792.2,1879.1 793.0,1879.2C793.8,1879.2 794.7,1879.4 795.5,1879.4C796.3,1879.3 797.2,1879.1 798.0,1878.9C798.8,1878.7 799.7,1878.5 800.5,1878.3C801.3,1878.1 802.2,1877.8 803.0,1877.6C803.8,1877.4 804.7,1877.3 805.5,1877.1C806.3,1876.9 807.2,1876.6 808.0,1876.4C808.7,1876.3 809.0,1875.6 810.0,1875.9C811.0,1876.2 812.9,1878.5 814.2,1878.5C815.6,1878.4 816.9,1876.3 818.0,1875.6C819.0,1874.8 819.7,1874.4 820.5,1873.8C821.3,1873.2 821.8,1872.2 822.7,1872.1C823.5,1872.0 824.6,1873.0 825.5,1873.3C826.4,1873.7 827.2,1874.1 828.0,1874.4C828.8,1874.7 829.2,1875.6 830.1,1875.3C830.9,1874.9 832.3,1873.1 833.0,1872.4C833.7,1871.6 833.5,1871.1 834.3,1871.1C835.1,1871.0 837.0,1871.6 838.0,1871.8C839.0,1872.0 839.5,1872.1 840.5,1872.4C841.5,1872.6 843.0,1873.2 843.8,1873.2C844.6,1873.1 844.8,1872.6 845.5,1872.2C846.2,1871.8 847.2,1870.9 848.0,1870.6C848.8,1870.3 849.7,1870.5 850.5,1870.3C851.3,1870.2 852.2,1870.0 853.0,1869.9C853.8,1869.7 854.7,1869.7 855.5,1869.5C856.3,1869.4 857.2,1869.3 858.0,1869.1C858.8,1869.0 859.7,1869.0 860.5,1868.9C861.3,1868.8 862.2,1868.7 863.0,1868.6C863.8,1868.5 864.7,1868.3 865.5,1868.2C866.3,1868.1 867.2,1868.0 868.0,1867.9C868.8,1867.8 869.7,1867.8 870.5,1867.7C871.3,1867.6 872.2,1867.4 873.0,1867.3C873.8,1867.2 874.7,1867.0 875.5,1867.0C876.3,1866.9 877.2,1866.9 878.0,1866.8C878.8,1866.7 879.7,1866.6 880.5,1866.5C881.3,1866.4 882.2,1866.3 883.0,1866.2C883.8,1866.2 884.7,1866.2 885.5,1866.1C886.3,1866.1 887.2,1866.1 888.0,1866.1C888.8,1866.2 889.7,1866.3 890.5,1866.4C891.3,1866.5 892.2,1866.7 893.0,1866.8C893.8,1866.9 894.7,1867.0 895.5,1867.1C896.3,1867.2 897.2,1867.4 898.0,1867.5C898.8,1867.7 899.7,1867.8 900.5,1868.0C901.3,1868.2 902.2,1868.5 903.0,1868.7C903.8,1868.9 904.7,1869.2 905.5,1869.4C906.3,1869.6 907.2,1869.7 908.0,1869.9C908.8,1870.2 909.7,1870.6 910.5,1870.9C911.3,1871.2 912.2,1871.5 913.0,1871.8C913.8,1872.1 914.7,1872.3 915.5,1872.6C916.3,1872.9 917.2,1873.3 918.0,1873.6C918.8,1873.9 919.7,1873.9 920.5,1874.5C921.3,1875.0 921.9,1875.7 923.0,1876.8C924.1,1877.9 925.6,1878.4 927.3,1881.2C928.9,1884.0 931.5,1889.2 932.8,1893.7C934.2,1898.1 934.6,1902.3 935.4,1907.7C936.1,1913.1 936.7,1919.7 937.3,1926.1C938.0,1932.4 938.5,1939.0 939.2,1945.8C939.8,1952.6 940.4,1960.1 941.0,1966.9C941.5,1973.7 941.9,1980.3 942.4,1986.6C942.9,1993.0 943.3,1999.1 943.8,2004.9C944.3,2010.8 944.7,2017.4 945.2,2021.8C945.7,2026.3 946.1,2029.5 946.6,2031.7C947.1,2033.9 947.7,2035.4 948.3,2035.2C948.9,2035.0 949.5,2033.2 950.0,2030.3C950.5,2027.3 950.9,2021.8 951.4,2017.6C951.9,2013.4 952.6,2008.0 953.2,2004.9C953.9,2001.9 954.5,2001.4 955.4,1999.3C956.2,1997.2 957.3,1995.3 958.2,1992.3C959.0,1989.2 959.6,1984.3 960.3,1981.0C961.0,1977.7 961.6,1974.6 962.4,1972.5C963.2,1970.4 964.3,1969.2 965.2,1968.3C966.2,1967.4 967.1,1966.7 968.0,1966.9C969.0,1967.1 970.0,1969.2 970.8,1969.7C971.7,1970.2 972.7,1970.9 973.4,1969.7C974.1,1968.5 974.5,1966.2 975.1,1962.7C975.6,1959.2 976.2,1953.5 976.8,1948.6C977.3,1943.7 977.9,1938.3 978.6,1933.1C979.2,1927.9 980.1,1922.1 980.7,1917.6C981.3,1913.1 981.7,1909.0 982.4,1906.3C983.1,1903.6 984.0,1902.4 984.9,1901.4C985.8,1900.4 986.8,1900.2 987.7,1900.4C988.7,1900.7 989.7,1901.1 990.6,1902.8C991.4,1904.5 992.0,1906.9 992.7,1910.6C993.4,1914.2 994.1,1919.5 994.8,1924.6C995.5,1929.8 996.2,1935.7 996.9,1941.5C997.6,1947.4 998.4,1954.5 999.0,1959.9C999.6,1965.3 1000.1,1969.7 1000.7,1973.9C1001.3,1978.2 1001.8,1982.7 1002.5,1985.2C1003.3,1987.7 1004.4,1987.8 1005.4,1988.7C1006.3,1989.7 1007.2,1989.6 1008.2,1990.8C1009.1,1992.1 1009.9,1994.8 1011.0,1996.5C1012.0,1998.1 1013.5,1998.6 1014.5,2000.7C1015.5,2002.8 1016.2,2006.1 1017.0,2009.2C1017.9,2012.2 1018.6,2015.7 1019.4,2019.0C1020.3,2022.3 1021.4,2026.1 1022.3,2028.9C1023.1,2031.7 1023.8,2034.3 1024.6,2035.9C1025.5,2037.6 1026.4,2038.5 1027.2,2038.7C1028.0,2039.0 1028.6,2038.3 1029.3,2037.3C1030.0,2036.4 1030.4,2033.8 1031.1,2033.1C1031.8,2032.4 1032.8,2032.2 1033.5,2033.1C1034.3,2034.0 1034.8,2037.2 1035.6,2038.7C1036.5,2040.3 1037.6,2041.0 1038.5,2042.3C1039.3,2043.5 1039.9,2045.4 1040.6,2046.5C1041.3,2047.5 1042.0,2048.5 1042.7,2048.6C1043.4,2048.7 1044.1,2048.5 1044.8,2047.2C1045.4,2045.9 1045.9,2042.5 1046.6,2040.8C1047.3,2039.2 1048.1,2037.7 1049.0,2037.3C1049.9,2037.0 1051.0,2037.6 1051.8,2038.7C1052.7,2039.9 1053.3,2041.1 1053.9,2044.4C1054.6,2047.7 1055.0,2053.3 1055.6,2058.5C1056.2,2063.6 1056.9,2071.1 1057.5,2075.4C1058.0,2079.6 1058.3,2081.7 1058.9,2083.8C1059.5,2085.9 1060.3,2086.4 1061.0,2088.0C1061.7,2089.7 1062.4,2091.1 1063.1,2093.7C1063.8,2096.2 1064.4,2100.8 1064.9,2103.5C1065.5,2106.2 1065.8,2108.5 1066.3,2109.9C1066.9,2111.3 1067.4,2112.2 1068.0,2112.0C1068.7,2111.7 1069.4,2110.6 1070.1,2108.5C1070.8,2106.3 1071.5,2103.6 1072.3,2099.3C1073.0,2095.0 1074.0,2089.2 1074.8,2082.4C1075.6,2075.6 1076.4,2066.7 1077.2,2058.5C1077.9,2050.2 1078.6,2041.3 1079.3,2033.1C1080.0,2024.9 1080.7,2017.4 1081.4,2009.2C1082.1,2000.9 1082.7,1990.8 1083.5,1983.8C1084.3,1976.8 1085.1,1971.6 1086.1,1966.9C1087.0,1962.2 1088.2,1960.6 1089.2,1955.6C1090.1,1950.7 1090.9,1942.7 1092.0,1937.3C1093.0,1931.9 1094.4,1927.9 1095.5,1923.2C1096.5,1918.5 1097.5,1913.4 1098.3,1909.2C1099.1,1904.9 1099.2,1899.5 1100.1,1897.9C1101.1,1896.2 1103.1,1898.8 1104.2,1899.3C1105.3,1899.8 1106.0,1901.2 1106.8,1900.7C1107.5,1900.2 1108.2,1898.8 1108.7,1896.5C1109.3,1894.1 1109.7,1889.7 1110.1,1886.6C1110.6,1883.6 1111.0,1879.9 1111.5,1878.2C1112.1,1876.5 1112.7,1876.2 1113.4,1876.5C1114.0,1876.7 1114.9,1877.2 1115.5,1879.6C1116.1,1882.0 1116.7,1885.9 1117.2,1890.8C1117.7,1895.8 1118.1,1903.3 1118.6,1909.2C1119.1,1915.0 1119.6,1921.4 1120.0,1926.1C1120.4,1930.8 1120.7,1935.0 1121.1,1937.3C1121.5,1939.7 1121.9,1940.1 1122.5,1940.1C1123.1,1940.1 1124.0,1939.4 1124.6,1937.3C1125.3,1935.2 1125.9,1931.2 1126.5,1927.5C1127.0,1923.7 1127.4,1917.5 1127.9,1914.8C1128.4,1912.1 1128.8,1911.0 1129.3,1911.3C1129.8,1911.5 1130.4,1912.8 1131.0,1916.2C1131.5,1919.6 1132.1,1925.8 1132.7,1931.7C1133.3,1937.6 1134.0,1944.8 1134.5,1951.4C1135.0,1958.0 1135.4,1965.0 1135.9,1971.1C1136.4,1977.2 1136.9,1983.7 1137.3,1988.0C1137.7,1992.4 1137.7,1995.5 1138.3,1997.2C1138.9,1998.8 1140.0,1998.1 1140.8,1997.9C1141.7,1997.7 1142.9,1997.1 1143.7,1995.8C1144.4,1994.5 1144.7,1991.4 1145.4,1990.1C1146.0,1988.8 1146.9,1987.9 1147.6,1988.0C1148.3,1988.1 1148.9,1988.3 1149.6,1990.8C1150.2,1993.4 1150.8,1998.8 1151.4,2003.5C1152.1,2008.2 1152.9,2013.1 1153.5,2019.0C1154.1,2024.9 1154.5,2032.2 1154.9,2038.7C1155.4,2045.3 1155.7,2052.8 1156.1,2058.5C1156.4,2064.1 1156.6,2069.1 1157.0,2072.5C1157.4,2075.9 1157.9,2078.4 1158.5,2078.9C1159.0,2079.3 1159.9,2076.9 1160.6,2075.4C1161.2,2073.8 1161.7,2070.2 1162.3,2069.7C1162.8,2069.2 1163.2,2069.7 1163.7,2072.5C1164.1,2075.4 1164.4,2082.7 1164.8,2086.6C1165.2,2090.5 1165.5,2094.0 1165.9,2095.8C1166.3,2097.5 1166.8,2097.8 1167.3,2097.2C1167.8,2096.6 1168.4,2095.9 1169.0,2092.3C1169.6,2088.6 1170.4,2081.2 1171.1,2075.4C1171.8,2069.5 1172.6,2062.9 1173.2,2057.0C1173.9,2051.2 1174.3,2043.4 1174.9,2040.1C1175.5,2036.9 1176.0,2038.0 1176.8,2037.3C1177.5,2036.6 1178.8,2038.5 1179.6,2035.9C1180.4,2033.3 1180.7,2028.2 1181.4,2021.8C1182.1,2015.5 1183.1,2006.6 1183.8,1997.9C1184.6,1989.2 1185.2,1977.9 1185.9,1969.7C1186.6,1961.5 1187.2,1954.9 1188.0,1948.6C1188.8,1942.3 1189.9,1938.0 1190.8,1931.7C1191.8,1925.4 1192.7,1916.4 1193.7,1910.6C1194.6,1904.7 1195.5,1899.8 1196.5,1896.5C1197.4,1893.2 1198.2,1892.5 1199.3,1890.8C1200.4,1889.2 1201.6,1887.9 1202.8,1886.6C1204.0,1885.3 1205.2,1883.5 1206.3,1883.1C1207.5,1882.7 1208.8,1883.5 1209.9,1884.5C1210.9,1885.6 1211.9,1887.6 1212.7,1889.4C1213.5,1891.3 1214.1,1895.5 1214.8,1895.8C1215.5,1896.0 1216.2,1893.0 1216.9,1890.8C1217.6,1888.7 1218.1,1885.0 1219.0,1883.1C1220.0,1881.2 1221.4,1881.1 1222.5,1879.6C1223.7,1878.1 1224.9,1875.7 1226.1,1873.9C1227.2,1872.2 1228.4,1870.0 1229.6,1869.0C1230.8,1868.1 1232.1,1867.7 1233.1,1868.3C1234.1,1868.9 1234.7,1869.5 1235.5,1872.5C1236.3,1875.6 1237.0,1882.6 1237.7,1886.6C1238.5,1890.6 1239.1,1893.4 1239.7,1896.5C1240.4,1899.5 1241.0,1903.3 1241.5,1904.9C1242.1,1906.6 1242.4,1907.5 1243.0,1906.3C1243.5,1905.2 1244.2,1901.9 1244.8,1897.9C1245.4,1893.9 1245.8,1886.3 1246.5,1882.4C1247.1,1878.5 1247.8,1876.3 1248.6,1874.6C1249.4,1873.0 1250.5,1872.5 1251.4,1872.5C1252.3,1872.5 1253.5,1873.0 1254.2,1874.6C1255.0,1876.3 1255.5,1879.5 1256.1,1882.4C1256.6,1885.3 1256.9,1890.5 1257.5,1892.3C1258.0,1894.0 1258.6,1893.9 1259.2,1893.0C1259.7,1892.0 1260.3,1888.1 1260.8,1886.6C1261.4,1885.1 1262.1,1883.6 1262.7,1883.8C1263.3,1884.0 1264.0,1885.4 1264.5,1888.0C1265.0,1890.6 1265.4,1895.8 1265.9,1899.3C1266.4,1902.8 1266.9,1908.0 1267.3,1909.2C1267.8,1910.3 1268.2,1908.7 1268.7,1906.3C1269.2,1904.0 1269.8,1897.3 1270.4,1895.1C1271.1,1892.8 1271.5,1891.9 1272.5,1893.0C1273.6,1894.0 1275.7,1899.0 1276.6,1901.4C1277.4,1903.8 1277.3,1905.5 1277.7,1907.3C1278.2,1909.1 1278.6,1910.9 1279.2,1912.3C1279.8,1913.6 1280.5,1914.8 1281.2,1915.7C1281.9,1916.6 1283.0,1916.8 1283.7,1917.7C1284.4,1918.6 1285.0,1919.2 1285.4,1921.1C1285.9,1923.0 1286.1,1926.1 1286.4,1929.0C1286.8,1932.0 1287.2,1935.9 1287.6,1938.9C1288.0,1941.8 1288.3,1944.3 1288.8,1946.8C1289.3,1949.2 1290.0,1951.0 1290.6,1953.7C1291.1,1956.3 1291.5,1959.6 1292.0,1962.5C1292.5,1965.5 1293.1,1969.1 1293.5,1971.4C1294.0,1973.7 1294.2,1975.4 1294.7,1976.3C1295.2,1977.3 1295.9,1977.7 1296.5,1977.3C1297.0,1977.0 1297.5,1976.0 1298.0,1974.4C1298.4,1972.7 1298.8,1969.4 1299.2,1967.5C1299.6,1965.5 1300.0,1963.6 1300.4,1962.5C1300.9,1961.5 1301.3,1960.9 1301.9,1961.1C1302.5,1961.2 1303.3,1962.1 1303.9,1963.5C1304.5,1964.9 1305.1,1967.5 1305.5,1969.4C1306.0,1971.4 1306.5,1973.5 1306.8,1975.4C1307.2,1977.2 1307.4,1979.1 1307.8,1980.3C1308.2,1981.4 1308.7,1981.6 1309.3,1982.3C1309.9,1982.9 1310.7,1983.1 1311.3,1984.2C1311.8,1985.4 1312.3,1987.8 1312.7,1989.2C1313.2,1990.5 1313.6,1991.8 1314.2,1992.6C1314.9,1993.4 1315.9,1994.2 1316.7,1994.1C1317.4,1993.9 1317.9,1991.6 1318.7,1991.6C1319.4,1991.6 1320.2,1993.6 1321.1,1994.1C1322.0,1994.6 1323.3,1994.8 1324.1,1994.6C1324.9,1994.3 1325.4,1993.6 1326.1,1992.6C1326.7,1991.6 1327.5,1989.5 1328.2,1988.7C1328.9,1987.8 1329.6,1987.3 1330.2,1987.7C1330.8,1988.1 1331.5,1989.6 1332.0,1991.1C1332.5,1992.7 1332.7,1995.9 1333.2,1997.0C1333.6,1998.2 1334.0,1998.4 1334.4,1998.0C1334.9,1997.7 1335.2,1996.7 1335.7,1995.1C1336.2,1993.4 1336.9,1990.6 1337.4,1988.2C1337.9,1985.7 1338.4,1982.6 1338.9,1980.3C1339.3,1978.0 1339.6,1975.6 1340.1,1974.4C1340.5,1973.1 1340.7,1972.9 1341.3,1972.9C1342.0,1972.9 1343.0,1974.1 1343.8,1974.4C1344.6,1974.6 1345.5,1974.0 1346.3,1974.4C1347.0,1974.8 1347.7,1977.3 1348.2,1976.8C1348.8,1976.3 1349.1,1973.8 1349.5,1971.4C1349.9,1969.0 1350.3,1964.8 1350.7,1962.5C1351.1,1960.2 1351.6,1959.2 1352.2,1957.6C1352.8,1956.0 1353.5,1954.2 1354.2,1952.7C1354.8,1951.1 1355.1,1950.3 1355.8,1948.2C1356.6,1946.2 1358.3,1941.6 1358.8,1940.3" stroke="#000" stroke-width="4.7"/>
<path class="c" clip-path="url(#cb)" d="M115.5,1617.9C116.3,1617.9 119.2,1617.9 120.5,1617.9C121.7,1618.0 122.2,1618.1 123.0,1618.3C123.8,1618.5 124.7,1619.4 125.5,1619.1C126.3,1618.9 127.2,1617.0 128.0,1616.8C128.8,1616.7 129.7,1617.8 130.5,1618.1C131.3,1618.4 132.0,1618.7 133.0,1618.6C134.0,1618.5 135.5,1617.4 136.3,1617.5C137.2,1617.5 137.3,1618.3 138.0,1618.9C138.7,1619.6 139.7,1621.1 140.5,1621.2C141.3,1621.3 142.2,1619.7 143.0,1619.5C143.8,1619.3 144.7,1619.7 145.5,1619.9C146.3,1620.0 147.2,1620.3 148.0,1620.3C148.8,1620.3 149.7,1619.9 150.5,1619.8C151.3,1619.7 152.2,1619.8 153.0,1619.7C153.8,1619.7 154.7,1619.3 155.5,1619.5C156.3,1619.8 157.2,1621.3 158.0,1621.4C158.8,1621.5 159.7,1620.4 160.5,1620.2C161.3,1620.1 162.2,1620.8 163.0,1620.6C163.8,1620.5 164.7,1619.5 165.5,1619.4C166.3,1619.3 167.2,1620.1 168.0,1620.0C168.8,1620.0 169.7,1619.2 170.5,1619.2C171.3,1619.2 172.2,1620.0 173.0,1620.2C173.8,1620.4 174.7,1620.2 175.5,1620.5C176.3,1620.8 177.2,1622.1 178.0,1622.0C178.8,1621.9 179.7,1620.2 180.5,1619.9C181.3,1619.6 182.2,1619.8 183.0,1620.1C183.8,1620.4 184.7,1621.5 185.5,1621.6C186.3,1621.6 187.2,1620.5 188.0,1620.4C188.8,1620.2 189.7,1620.3 190.5,1620.7C191.3,1621.0 192.2,1622.5 193.0,1622.5C193.8,1622.5 194.7,1620.7 195.5,1620.7C196.3,1620.7 197.2,1622.3 198.0,1622.5C198.8,1622.6 199.7,1621.7 200.5,1621.6C201.3,1621.5 202.2,1621.8 203.0,1621.8C203.8,1621.9 204.7,1622.2 205.5,1621.8C206.3,1621.4 207.2,1620.4 208.0,1619.6C208.8,1618.9 209.7,1617.5 210.5,1617.5C211.3,1617.6 212.2,1619.1 213.0,1619.7C213.8,1620.4 214.7,1621.0 215.5,1621.5C216.3,1621.9 217.2,1622.4 218.0,1622.5C218.8,1622.6 219.7,1622.2 220.5,1622.0C221.3,1621.7 222.2,1621.1 223.0,1621.1C223.8,1621.2 224.7,1622.1 225.5,1622.1C226.3,1622.1 227.2,1621.3 228.0,1621.4C228.8,1621.4 229.7,1622.3 230.5,1622.6C231.3,1622.8 232.2,1623.1 233.0,1622.9C233.8,1622.6 234.7,1621.3 235.5,1621.3C236.3,1621.3 237.2,1622.5 238.0,1622.8C238.8,1623.1 239.7,1622.7 240.5,1622.9C241.3,1623.0 242.2,1623.1 243.0,1623.7C243.8,1624.4 244.7,1626.0 245.5,1626.7C246.3,1627.3 247.2,1627.2 248.0,1627.6C248.8,1628.1 249.7,1628.7 250.5,1629.4C251.3,1630.1 252.2,1631.3 253.0,1631.8C253.8,1632.4 254.7,1632.3 255.5,1632.6C256.3,1632.9 257.2,1633.0 258.0,1633.6C258.8,1634.1 259.7,1635.3 260.5,1636.1C261.3,1636.9 262.2,1637.8 263.0,1638.5C263.8,1639.2 264.8,1639.9 265.5,1640.3C266.1,1640.8 266.1,1641.1 266.9,1641.3C267.7,1641.5 269.6,1641.5 270.5,1641.5C271.4,1641.5 271.4,1640.7 272.2,1641.3C273.0,1642.0 274.6,1644.2 275.5,1645.4C276.4,1646.5 276.6,1647.7 277.5,1648.1C278.3,1648.4 279.7,1647.2 280.6,1647.5C281.6,1647.7 282.1,1648.5 283.0,1649.5C283.9,1650.5 284.9,1652.6 285.9,1653.4C286.9,1654.2 288.3,1654.0 289.1,1654.4C289.8,1654.8 289.8,1655.0 290.5,1655.7C291.1,1656.5 292.2,1657.7 293.0,1658.7C293.8,1659.7 294.7,1660.8 295.5,1661.6C296.3,1662.3 297.2,1662.5 298.0,1663.3C298.8,1664.1 299.7,1665.2 300.5,1666.4C301.3,1667.6 302.2,1669.5 303.0,1670.5C303.8,1671.4 304.7,1671.9 305.5,1672.2C306.2,1672.5 306.6,1671.7 307.5,1672.4C308.3,1673.1 309.6,1675.2 310.5,1676.6C311.4,1678.0 312.2,1679.5 313.0,1680.9C313.8,1682.2 314.7,1683.9 315.5,1684.9C316.3,1685.8 317.2,1685.7 318.0,1686.7C318.8,1687.6 319.9,1689.5 320.5,1690.4C321.1,1691.4 321.0,1690.9 321.8,1692.5C322.7,1694.1 324.6,1698.0 325.5,1700.0C326.4,1701.9 326.3,1703.0 327.1,1704.1C327.9,1705.2 329.5,1705.6 330.5,1706.5C331.5,1707.4 332.2,1708.8 333.0,1709.7C333.8,1710.6 334.7,1711.1 335.5,1712.0C336.3,1712.9 337.2,1714.0 338.0,1715.1C338.8,1716.3 339.7,1718.4 340.5,1718.9C341.3,1719.5 342.1,1717.9 343.0,1718.5C343.8,1719.0 344.7,1721.0 345.5,1722.1C346.3,1723.2 347.2,1723.8 348.0,1725.2C348.8,1726.6 349.7,1728.8 350.5,1730.5C351.3,1732.1 352.2,1734.2 353.0,1735.0C353.8,1735.8 354.7,1735.3 355.5,1735.3C356.3,1735.2 357.0,1735.5 358.0,1734.7C359.0,1733.9 360.5,1731.2 361.3,1730.5C362.2,1729.8 362.3,1730.4 363.0,1730.7C363.7,1731.0 364.6,1731.7 365.5,1732.2C366.4,1732.7 367.5,1733.3 368.3,1733.7C369.1,1734.0 369.7,1734.3 370.5,1734.1C371.3,1733.9 372.2,1732.6 373.0,1732.5C373.8,1732.3 374.5,1733.1 375.5,1733.0C376.5,1733.0 378.0,1732.6 378.9,1732.0C379.7,1731.4 379.8,1730.4 380.5,1729.5C381.2,1728.6 382.2,1727.5 383.0,1726.5C383.8,1725.4 384.7,1724.2 385.5,1723.1C386.3,1722.0 387.2,1720.8 388.0,1719.7C388.8,1718.5 389.7,1716.8 390.5,1716.0C391.3,1715.1 392.2,1715.2 393.0,1714.6C393.8,1714.0 394.7,1713.3 395.5,1712.4C396.3,1711.5 397.2,1710.0 398.0,1709.2C398.8,1708.3 399.7,1707.5 400.5,1707.1C401.3,1706.6 402.2,1707.1 403.0,1706.5C403.8,1705.9 404.7,1704.3 405.5,1703.5C406.3,1702.6 407.2,1701.9 408.0,1701.3C408.8,1700.8 409.7,1700.6 410.5,1700.2C411.3,1699.7 412.2,1699.0 413.0,1698.7C413.8,1698.4 414.7,1698.8 415.5,1698.4C416.3,1698.0 417.2,1696.6 418.0,1696.1C418.8,1695.6 419.7,1695.5 420.5,1695.2C421.3,1694.9 422.2,1694.9 423.0,1694.4C423.8,1693.9 424.7,1692.7 425.5,1692.3C426.3,1691.8 427.2,1692.2 428.0,1691.9C428.8,1691.5 429.7,1690.4 430.5,1690.1C431.3,1689.7 432.2,1689.7 433.0,1689.6C433.8,1689.4 434.7,1689.3 435.5,1689.0C436.3,1688.7 437.2,1688.1 438.0,1687.8C438.8,1687.5 439.7,1687.4 440.5,1687.1C441.3,1686.9 442.2,1686.7 443.0,1686.3C443.8,1685.9 444.7,1685.2 445.5,1684.7C446.3,1684.2 447.2,1683.5 448.0,1683.1C448.8,1682.6 449.7,1682.6 450.5,1682.2C451.3,1681.9 452.2,1681.4 453.0,1681.1C453.8,1680.9 454.7,1680.9 455.5,1680.6C456.3,1680.3 457.2,1679.5 458.0,1679.2C458.8,1679.0 459.7,1679.6 460.5,1679.2C461.3,1678.8 462.2,1677.5 463.0,1677.0C463.8,1676.5 464.7,1676.2 465.5,1676.0C466.3,1675.7 467.2,1675.6 468.0,1675.5C468.8,1675.3 469.7,1675.3 470.5,1675.2C471.3,1675.0 472.2,1674.9 473.0,1674.5C473.8,1674.0 474.7,1673.1 475.5,1672.5C476.3,1671.9 477.4,1671.2 478.0,1670.8C478.6,1670.4 478.4,1669.7 479.3,1670.3C480.2,1670.9 482.5,1673.9 483.5,1674.5C484.6,1675.1 484.6,1674.1 485.5,1673.7C486.4,1673.3 488.0,1672.1 488.8,1672.0C489.6,1671.9 489.8,1672.5 490.5,1673.2C491.2,1673.9 492.2,1675.7 493.0,1676.2C493.9,1676.7 494.7,1676.2 495.5,1676.0C496.3,1675.8 497.3,1675.1 498.0,1675.1C498.6,1675.0 498.5,1674.4 499.4,1675.6C500.2,1676.8 501.8,1680.4 503.0,1682.3C504.2,1684.1 505.5,1686.2 506.8,1686.8C508.0,1687.4 509.5,1686.3 510.5,1685.9C511.5,1685.5 512.2,1684.6 513.0,1684.3C513.8,1683.9 514.7,1683.9 515.5,1683.5C516.3,1683.1 517.2,1682.5 518.0,1681.8C518.8,1681.1 519.7,1679.9 520.5,1679.4C521.3,1679.0 522.2,1679.3 523.0,1679.1C523.8,1679.0 524.7,1679.0 525.5,1678.6C526.3,1678.1 527.2,1677.2 528.0,1676.5C528.8,1675.8 529.7,1674.9 530.5,1674.3C531.3,1673.6 532.2,1673.1 533.0,1672.8C533.8,1672.5 534.7,1672.9 535.5,1672.5C536.3,1672.1 537.2,1670.7 538.0,1670.3C538.8,1669.9 539.7,1670.2 540.5,1670.1C541.3,1670.0 542.2,1669.9 543.0,1669.6C543.8,1669.4 544.7,1668.7 545.5,1668.4C546.3,1668.2 547.2,1668.7 548.0,1668.2C548.8,1667.8 549.7,1666.2 550.5,1665.8C551.3,1665.4 552.2,1665.9 553.0,1665.8C553.8,1665.6 554.7,1665.3 555.5,1664.9C556.3,1664.4 557.2,1663.5 558.0,1663.0C558.8,1662.6 559.7,1662.6 560.5,1662.1C561.3,1661.6 562.2,1660.4 563.0,1660.1C563.8,1659.7 564.7,1660.1 565.5,1659.8C566.3,1659.5 567.2,1658.7 568.0,1658.3C568.8,1657.9 569.7,1657.7 570.5,1657.5C571.3,1657.2 572.2,1657.0 573.0,1656.8C573.8,1656.7 574.7,1656.6 575.5,1656.3C576.3,1656.0 577.2,1655.5 578.0,1655.2C578.8,1655.0 579.7,1655.1 580.5,1654.9C581.3,1654.7 582.2,1654.1 583.0,1653.8C583.8,1653.5 584.7,1653.4 585.5,1653.1C586.3,1652.9 587.2,1652.7 588.0,1652.4C588.8,1652.1 589.7,1651.5 590.5,1651.4C591.3,1651.3 592.2,1651.8 593.0,1651.7C593.8,1651.6 594.7,1651.1 595.5,1650.8C596.3,1650.5 597.2,1650.1 598.0,1649.9C598.8,1649.6 599.7,1649.5 600.5,1649.4C601.3,1649.3 602.2,1649.5 603.0,1649.3C603.8,1649.2 604.7,1648.7 605.5,1648.5C606.3,1648.3 607.2,1648.4 608.0,1648.2C608.8,1648.0 609.7,1647.1 610.5,1647.1C611.3,1647.0 612.2,1647.8 613.0,1647.8C613.8,1647.8 614.7,1647.2 615.5,1647.1C616.3,1646.9 617.2,1646.9 618.0,1646.8C618.8,1646.7 619.7,1646.4 620.5,1646.3C621.3,1646.3 622.2,1646.7 623.0,1646.6C623.8,1646.6 624.7,1646.1 625.5,1646.1C626.3,1646.0 627.2,1646.1 628.0,1646.1C628.8,1646.1 629.7,1646.3 630.5,1646.3C631.3,1646.3 632.2,1646.1 633.0,1646.0C633.8,1645.9 634.7,1645.9 635.5,1645.7C636.3,1645.5 637.2,1645.0 638.0,1644.9C638.8,1644.7 639.7,1645.0 640.5,1644.9C641.3,1644.8 642.2,1644.2 643.0,1644.1C643.8,1644.0 644.7,1644.4 645.5,1644.4C646.3,1644.4 647.2,1644.4 648.0,1644.3C648.8,1644.2 649.7,1643.9 650.5,1643.9C651.3,1643.9 652.2,1644.4 653.0,1644.5C653.8,1644.5 654.7,1644.1 655.5,1644.1C656.3,1644.0 657.2,1644.1 658.0,1644.1C658.8,1644.2 659.7,1644.2 660.5,1644.2C661.3,1644.2 662.2,1644.1 663.0,1644.0C663.8,1643.9 664.7,1643.7 665.5,1643.6C666.3,1643.5 667.2,1643.6 668.0,1643.6C668.8,1643.5 669.7,1643.6 670.5,1643.5C671.3,1643.3 672.2,1642.7 673.0,1642.5C673.8,1642.3 674.7,1642.3 675.5,1642.2C676.3,1642.1 677.2,1642.0 678.0,1642.0C678.8,1641.9 679.7,1642.0 680.5,1641.9C681.3,1641.8 682.2,1641.7 683.0,1641.5C683.8,1641.4 684.7,1641.1 685.5,1641.1C686.3,1641.2 687.2,1641.6 688.0,1641.6C688.8,1641.7 689.7,1641.5 690.5,1641.3C691.3,1641.0 692.2,1640.4 693.0,1640.3C693.8,1640.2 694.7,1640.6 695.5,1640.6C696.3,1640.6 697.2,1640.4 698.0,1640.4C698.8,1640.4 699.7,1640.4 700.5,1640.4C701.3,1640.3 702.2,1640.1 703.0,1640.0C703.8,1639.9 704.7,1639.8 705.5,1639.8C706.3,1639.7 707.2,1639.8 708.0,1639.8C708.8,1639.8 709.7,1639.7 710.5,1639.7C711.3,1639.6 712.2,1639.6 713.0,1639.6C713.8,1639.5 714.7,1639.5 715.5,1639.5C716.3,1639.4 717.2,1639.3 718.0,1639.2C718.8,1639.1 719.7,1639.1 720.5,1639.0C721.3,1638.9 722.2,1638.7 723.0,1638.6C723.8,1638.5 724.7,1638.4 725.5,1638.4C726.3,1638.5 727.2,1638.7 728.0,1638.7C728.8,1638.7 729.7,1638.5 730.5,1638.4C731.3,1638.3 732.2,1638.2 733.0,1638.2C733.8,1638.1 734.7,1638.0 735.5,1638.0C736.3,1638.0 737.2,1638.1 738.0,1638.1C738.8,1638.1 739.7,1638.0 740.5,1637.8C741.3,1637.7 742.2,1637.5 743.0,1637.4C743.8,1637.3 744.7,1637.3 745.5,1637.3C746.3,1637.2 747.2,1637.1 748.0,1637.0C748.8,1636.9 749.7,1636.8 750.5,1636.8C751.3,1636.8 752.2,1637.0 753.0,1637.0C753.8,1636.9 754.7,1636.7 755.5,1636.5C756.3,1636.4 757.2,1636.3 758.0,1636.2C758.8,1636.1 759.7,1635.9 760.5,1635.8C761.3,1635.8 762.2,1635.9 763.0,1635.9C763.8,1635.9 764.7,1635.9 765.5,1635.8C766.3,1635.7 767.2,1635.3 768.0,1635.2C768.8,1635.1 769.7,1635.3 770.5,1635.3C771.3,1635.2 772.2,1635.1 773.0,1635.0C773.8,1634.9 774.7,1634.8 775.5,1634.8C776.3,1634.7 777.2,1634.8 778.0,1634.7C778.8,1634.7 779.7,1634.6 780.5,1634.5C781.3,1634.4 782.2,1634.2 783.0,1634.1C783.8,1634.0 784.7,1634.0 785.5,1633.9C786.3,1633.9 787.2,1633.9 788.0,1633.8C788.8,1633.7 789.7,1633.5 790.5,1633.4C791.3,1633.2 792.2,1633.0 793.0,1632.9C793.8,1632.8 794.7,1632.8 795.5,1632.8C796.3,1632.7 797.2,1632.8 798.0,1632.7C798.8,1632.6 799.7,1632.5 800.5,1632.4C801.3,1632.3 802.2,1632.3 803.0,1632.3C803.8,1632.3 804.7,1632.4 805.5,1632.3C806.3,1632.2 807.2,1631.7 808.0,1631.7C808.8,1631.6 809.7,1631.8 810.5,1631.8C811.3,1631.8 812.2,1631.8 813.0,1631.8C813.8,1631.7 814.7,1631.5 815.5,1631.4C816.3,1631.3 817.2,1631.2 818.0,1631.1C818.8,1631.0 819.7,1630.8 820.5,1630.8C821.3,1630.7 822.2,1630.8 823.0,1630.8C823.8,1630.8 824.7,1630.7 825.5,1630.6C826.3,1630.5 827.2,1630.5 828.0,1630.5C828.8,1630.4 829.7,1630.3 830.5,1630.3C831.3,1630.2 832.2,1630.3 833.0,1630.3C833.8,1630.2 834.7,1629.9 835.5,1629.8C836.3,1629.7 837.2,1629.7 838.0,1629.6C838.8,1629.6 839.7,1629.5 840.5,1629.4C841.3,1629.4 842.2,1629.4 843.0,1629.3C843.8,1629.2 844.7,1629.1 845.5,1629.0C846.3,1628.9 847.2,1628.8 848.0,1628.8C848.8,1628.7 849.7,1628.8 850.5,1628.7C851.3,1628.7 852.2,1628.5 853.0,1628.4C853.8,1628.3 854.7,1628.4 855.5,1628.3C856.3,1628.3 857.2,1628.2 858.0,1628.2C858.8,1628.1 859.7,1627.9 860.5,1627.9C861.3,1627.8 862.2,1627.9 863.0,1627.8C863.8,1627.7 864.7,1627.5 865.5,1627.5C866.3,1627.4 867.2,1627.6 868.0,1627.5C868.8,1627.4 869.7,1627.1 870.5,1627.0C871.3,1626.9 872.2,1627.0 873.0,1626.9C873.8,1626.8 874.7,1626.5 875.5,1626.4C876.3,1626.3 877.2,1626.3 878.0,1626.3C878.8,1626.2 879.7,1626.1 880.5,1626.0C881.3,1625.9 882.2,1625.8 883.0,1625.7C883.8,1625.7 884.7,1625.7 885.5,1625.5C886.3,1625.4 887.2,1625.3 888.0,1625.1C888.8,1625.0 889.7,1624.8 890.5,1624.7C891.3,1624.6 892.2,1624.6 893.0,1624.5C893.8,1624.5 894.7,1624.5 895.5,1624.4C896.3,1624.3 897.2,1623.9 898.0,1623.8C898.8,1623.8 899.7,1624.0 900.5,1624.0C901.3,1624.1 902.2,1624.1 903.0,1624.2C903.8,1624.3 904.7,1624.6 905.5,1624.8C906.3,1624.9 907.2,1624.9 908.0,1624.9C908.8,1624.9 909.7,1624.8 910.5,1624.9C911.3,1625.0 912.2,1625.4 913.0,1625.4C913.8,1625.5 914.7,1625.3 915.5,1625.4C916.3,1625.6 917.2,1626.1 918.0,1626.3C918.8,1626.5 919.7,1626.3 920.5,1626.4C921.3,1626.5 921.7,1626.7 923.0,1627.0C924.3,1627.4 926.9,1628.0 928.3,1628.5C929.7,1628.9 930.3,1629.3 931.4,1629.6C932.5,1629.9 933.9,1629.2 934.9,1630.3C936.0,1631.3 936.9,1634.2 937.7,1635.9C938.6,1637.7 939.4,1638.8 940.1,1640.8C940.8,1642.8 941.2,1645.8 942.0,1647.9C942.7,1650.0 943.8,1651.3 944.8,1653.5C945.7,1655.8 946.7,1659.2 947.6,1661.3C948.5,1663.4 949.6,1664.8 950.4,1666.2C951.3,1667.6 952.2,1668.4 952.8,1669.7C953.5,1671.0 953.5,1672.9 954.2,1673.9C955.0,1675.0 956.3,1674.9 957.5,1676.1C958.6,1677.2 959.8,1678.6 961.0,1681.0C962.2,1683.3 963.5,1687.0 964.5,1690.1C965.6,1693.3 966.5,1696.7 967.3,1700.0C968.1,1703.3 968.7,1707.0 969.4,1709.9C970.1,1712.7 970.8,1715.5 971.5,1716.9C972.3,1718.3 973.0,1718.8 973.7,1718.3C974.4,1717.8 975.2,1716.7 975.8,1714.1C976.4,1711.5 976.7,1706.8 977.2,1702.8C977.7,1698.8 978.0,1694.6 978.6,1690.1C979.2,1685.7 980.1,1680.5 980.7,1676.1C981.3,1671.6 981.8,1666.9 982.4,1663.4C983.0,1659.9 983.5,1657.3 984.2,1654.9C984.9,1652.6 985.9,1651.4 986.6,1649.3C987.3,1647.2 987.8,1644.2 988.5,1642.3C989.1,1640.3 989.8,1638.2 990.6,1637.3C991.3,1636.4 992.3,1636.3 993.1,1636.9C993.9,1637.5 994.8,1638.8 995.5,1640.8C996.2,1642.9 996.7,1646.0 997.3,1649.3C997.9,1652.6 998.5,1657.9 999.0,1660.6C999.5,1663.3 999.6,1664.4 1000.1,1665.5C1000.7,1666.5 1001.8,1667.4 1002.5,1666.9C1003.2,1666.4 1003.8,1664.7 1004.4,1662.7C1004.9,1660.7 1005.3,1657.0 1005.8,1654.9C1006.3,1652.8 1006.8,1650.7 1007.5,1650.0C1008.2,1649.3 1009.3,1649.6 1010.0,1650.7C1010.7,1651.8 1011.0,1654.5 1011.7,1656.3C1012.4,1658.2 1013.5,1659.6 1014.2,1662.0C1014.9,1664.3 1015.4,1666.9 1015.9,1670.4C1016.5,1673.9 1017.0,1679.6 1017.6,1683.1C1018.2,1686.6 1018.9,1688.8 1019.4,1691.5C1020.0,1694.2 1020.3,1697.2 1020.8,1699.3C1021.4,1701.4 1022.4,1702.0 1023.0,1704.2C1023.5,1706.5 1023.9,1709.4 1024.4,1712.7C1024.8,1716.0 1025.3,1720.9 1025.8,1723.9C1026.2,1727.0 1026.7,1729.6 1027.2,1731.0C1027.7,1732.4 1028.1,1732.9 1028.6,1732.4C1029.1,1731.9 1029.8,1730.0 1030.3,1728.2C1030.8,1726.3 1031.2,1722.8 1031.7,1721.1C1032.2,1719.5 1032.9,1718.5 1033.5,1718.3C1034.2,1718.1 1034.9,1719.1 1035.6,1719.7C1036.3,1720.3 1037.1,1722.1 1037.7,1721.8C1038.4,1721.6 1039.0,1720.1 1039.6,1718.3C1040.2,1716.5 1040.6,1713.0 1041.3,1711.3C1041.9,1709.5 1042.7,1708.5 1043.4,1707.7C1044.1,1707.0 1044.7,1706.9 1045.5,1707.0C1046.3,1707.2 1047.3,1709.0 1048.0,1708.5C1048.7,1707.9 1049.0,1704.9 1049.7,1703.5C1050.5,1702.1 1051.6,1700.7 1052.5,1700.0C1053.4,1699.3 1054.4,1698.1 1055.1,1699.3C1055.8,1700.5 1056.2,1703.9 1056.8,1707.0C1057.3,1710.2 1057.7,1716.1 1058.2,1718.3C1058.6,1720.5 1059.1,1720.9 1059.6,1720.4C1060.1,1720.0 1060.7,1717.5 1061.3,1715.5C1061.9,1713.5 1062.5,1709.2 1063.1,1708.5C1063.7,1707.7 1064.4,1709.3 1064.9,1711.3C1065.5,1713.3 1065.9,1718.8 1066.3,1720.4C1066.8,1722.1 1067.2,1722.2 1067.7,1721.1C1068.3,1720.1 1068.9,1717.1 1069.4,1714.1C1070.0,1711.0 1070.4,1706.6 1070.8,1702.8C1071.3,1699.1 1071.7,1695.2 1072.3,1691.5C1072.8,1687.9 1073.2,1683.8 1073.9,1681.0C1074.6,1678.2 1075.6,1675.7 1076.5,1674.6C1077.4,1673.6 1078.5,1675.6 1079.3,1674.6C1080.1,1673.7 1080.7,1671.5 1081.4,1669.0C1082.1,1666.5 1082.7,1662.2 1083.5,1659.9C1084.3,1657.5 1085.4,1655.9 1086.3,1654.9C1087.3,1654.0 1088.3,1654.2 1089.2,1654.2C1090.0,1654.2 1090.6,1655.6 1091.3,1654.9C1092.0,1654.2 1092.6,1651.5 1093.4,1650.0C1094.2,1648.5 1095.4,1647.8 1096.2,1645.8C1097.0,1643.8 1097.6,1640.5 1098.3,1638.0C1099.0,1635.6 1099.5,1631.0 1100.4,1631.0C1101.4,1631.0 1103.1,1636.0 1103.9,1638.0C1104.8,1640.0 1105.0,1642.6 1105.6,1643.0C1106.3,1643.3 1107.0,1642.1 1107.7,1640.1C1108.5,1638.1 1109.2,1633.4 1109.9,1631.0C1110.6,1628.6 1111.3,1626.3 1112.0,1625.6C1112.7,1624.9 1113.4,1625.2 1114.1,1626.8C1114.8,1628.4 1115.6,1631.5 1116.2,1635.2C1116.8,1639.0 1117.1,1643.4 1117.6,1649.3C1118.1,1655.2 1118.6,1664.1 1119.0,1670.4C1119.4,1676.8 1119.7,1683.3 1120.1,1687.3C1120.5,1691.3 1120.9,1693.4 1121.4,1694.4C1121.9,1695.3 1122.6,1694.6 1123.2,1693.0C1123.9,1691.3 1124.7,1687.8 1125.4,1684.5C1126.0,1681.2 1126.5,1677.2 1127.0,1673.2C1127.6,1669.2 1128.0,1663.1 1128.5,1660.6C1128.9,1658.0 1129.3,1657.6 1129.9,1658.0C1130.4,1658.5 1131.1,1659.9 1131.7,1663.4C1132.3,1666.9 1132.9,1673.5 1133.5,1678.9C1134.1,1684.3 1134.7,1689.7 1135.2,1695.8C1135.7,1701.9 1136.2,1708.9 1136.6,1715.5C1137.0,1722.1 1137.4,1729.3 1137.7,1735.2C1138.1,1741.1 1138.3,1747.5 1138.7,1750.7C1139.1,1753.9 1139.6,1754.2 1140.1,1754.2C1140.7,1754.2 1141.6,1753.4 1142.3,1750.7C1142.9,1748.0 1143.4,1742.5 1143.9,1738.0C1144.5,1733.6 1144.9,1727.8 1145.4,1723.9C1145.8,1720.1 1146.2,1716.8 1146.8,1714.8C1147.3,1712.8 1148.0,1711.9 1148.6,1712.0C1149.2,1712.1 1149.8,1713.0 1150.4,1715.5C1151.0,1718.0 1151.5,1722.3 1152.1,1726.8C1152.7,1731.2 1153.3,1736.4 1153.8,1742.3C1154.3,1748.1 1154.6,1755.4 1154.9,1762.0C1155.3,1768.5 1155.6,1775.1 1155.9,1781.7C1156.3,1788.3 1156.7,1795.5 1157.0,1801.4C1157.4,1807.3 1157.7,1813.5 1158.0,1816.9C1158.4,1820.3 1158.7,1821.8 1159.2,1821.8C1159.6,1821.8 1160.1,1820.5 1160.6,1816.9C1161.0,1813.3 1161.3,1804.6 1161.7,1800.0C1162.0,1795.4 1162.3,1791.1 1162.7,1789.4C1163.0,1787.8 1163.3,1788.4 1163.7,1790.1C1164.0,1791.9 1164.4,1796.0 1164.8,1800.0C1165.2,1804.0 1165.5,1810.4 1165.9,1814.1C1166.3,1817.7 1166.8,1821.1 1167.3,1821.8C1167.8,1822.5 1168.4,1821.0 1169.0,1818.3C1169.6,1815.6 1170.5,1809.7 1171.1,1805.6C1171.8,1801.5 1172.4,1796.5 1173.0,1793.7C1173.5,1790.8 1173.7,1789.4 1174.4,1788.7C1175.0,1788.0 1176.1,1788.4 1176.8,1789.4C1177.5,1790.5 1178.1,1795.4 1178.6,1795.1C1179.1,1794.7 1179.6,1790.3 1180.0,1787.3C1180.4,1784.4 1180.5,1779.0 1181.0,1777.5C1181.5,1775.9 1182.3,1777.1 1182.8,1778.2C1183.4,1779.2 1183.8,1784.6 1184.2,1783.8C1184.7,1783.0 1185.2,1778.3 1185.6,1773.2C1186.1,1768.2 1186.5,1760.1 1187.0,1753.5C1187.6,1746.9 1188.1,1740.1 1188.7,1733.8C1189.4,1727.5 1190.0,1721.8 1190.8,1715.5C1191.7,1709.2 1192.7,1701.4 1193.7,1695.8C1194.6,1690.1 1195.5,1685.2 1196.5,1681.7C1197.4,1678.2 1198.2,1676.4 1199.3,1674.6C1200.4,1672.9 1201.9,1672.8 1202.8,1671.1C1203.8,1669.5 1204.2,1666.8 1204.9,1664.8C1205.6,1662.8 1206.1,1660.3 1207.0,1659.2C1208.0,1658.0 1209.2,1657.6 1210.6,1657.7C1212.0,1657.9 1214.0,1660.3 1215.5,1659.9C1217.0,1659.4 1218.3,1657.0 1219.4,1654.9C1220.6,1652.8 1221.5,1649.6 1222.5,1647.2C1223.5,1644.7 1224.2,1642.1 1225.4,1640.1C1226.5,1638.1 1228.3,1636.3 1229.6,1635.2C1230.9,1634.2 1232.0,1634.2 1233.1,1633.8C1234.2,1633.5 1235.1,1632.2 1235.9,1633.1C1236.7,1634.0 1237.1,1637.2 1237.7,1639.4C1238.4,1641.7 1239.0,1645.9 1239.7,1646.5C1240.5,1647.1 1241.4,1645.1 1242.3,1643.0C1243.1,1640.8 1244.2,1636.5 1245.1,1633.8C1246.0,1631.1 1246.7,1628.3 1247.6,1626.8C1248.5,1625.2 1249.7,1625.0 1250.7,1624.6C1251.7,1624.3 1252.8,1623.8 1253.5,1624.6C1254.2,1625.5 1254.5,1626.9 1254.9,1629.6C1255.4,1632.3 1255.8,1637.7 1256.3,1640.8C1256.9,1644.0 1257.8,1648.4 1258.5,1648.6C1259.1,1648.8 1259.7,1646.1 1260.3,1642.3C1260.9,1638.4 1261.3,1629.0 1262.0,1625.4C1262.6,1621.7 1263.3,1621.4 1264.1,1620.4C1264.9,1619.5 1265.8,1620.1 1266.9,1619.7C1268.0,1619.3 1269.4,1617.8 1270.4,1618.0C1271.5,1618.3 1272.3,1618.3 1273.2,1621.1C1274.2,1623.9 1275.5,1630.7 1276.3,1634.8C1277.0,1638.9 1277.3,1642.3 1277.7,1645.6C1278.2,1648.9 1278.6,1651.7 1279.2,1654.5C1279.8,1657.3 1280.5,1659.9 1281.2,1662.4C1281.9,1664.9 1282.6,1667.0 1283.2,1669.3C1283.7,1671.6 1284.1,1674.6 1284.6,1676.2C1285.2,1677.8 1285.6,1678.7 1286.4,1679.0C1287.2,1679.2 1288.7,1677.5 1289.6,1677.7C1290.4,1677.9 1291.0,1678.6 1291.5,1680.1C1292.1,1681.7 1292.6,1684.2 1293.0,1687.0C1293.4,1689.8 1293.7,1693.8 1294.0,1696.9C1294.3,1700.0 1294.6,1703.6 1295.0,1705.8C1295.4,1707.9 1295.8,1709.4 1296.3,1709.7C1296.8,1710.0 1297.5,1709.2 1298.0,1707.7C1298.4,1706.3 1298.6,1703.1 1298.9,1700.8C1299.3,1698.5 1299.5,1695.3 1299.9,1693.9C1300.3,1692.5 1300.9,1692.0 1301.4,1692.5C1301.9,1693.0 1302.4,1694.8 1302.9,1696.9C1303.4,1699.0 1303.9,1702.2 1304.4,1704.8C1304.9,1707.4 1305.4,1710.4 1305.8,1712.7C1306.3,1715.0 1306.7,1716.3 1307.1,1718.6C1307.5,1720.9 1307.9,1724.5 1308.3,1726.5C1308.8,1728.4 1309.3,1729.1 1309.8,1730.4C1310.3,1731.7 1310.9,1732.9 1311.3,1734.4C1311.7,1735.8 1311.8,1738.4 1312.3,1739.3C1312.7,1740.2 1313.2,1740.6 1313.7,1739.8C1314.2,1739.0 1314.7,1735.9 1315.2,1734.4C1315.8,1732.8 1316.5,1730.6 1317.0,1730.4C1317.5,1730.3 1317.8,1731.2 1318.2,1733.4C1318.5,1735.5 1318.5,1741.5 1319.0,1743.2C1319.4,1745.0 1320.1,1744.6 1320.6,1743.7C1321.1,1742.9 1321.4,1738.9 1321.9,1738.3C1322.4,1737.7 1323.1,1739.3 1323.6,1740.3C1324.1,1741.3 1324.5,1743.5 1325.1,1744.2C1325.6,1745.0 1326.3,1745.7 1326.8,1744.7C1327.4,1743.7 1327.7,1740.0 1328.2,1738.3C1328.8,1736.7 1329.5,1734.4 1330.0,1734.9C1330.5,1735.4 1331.0,1738.6 1331.5,1741.3C1331.9,1744.0 1332.3,1748.6 1332.8,1751.1C1333.2,1753.7 1333.5,1755.9 1333.9,1756.5C1334.4,1757.2 1334.9,1757.0 1335.4,1755.1C1335.9,1753.2 1336.4,1748.8 1336.9,1745.2C1337.4,1741.6 1337.9,1737.2 1338.4,1733.4C1338.9,1729.6 1339.3,1725.3 1339.9,1722.5C1340.4,1719.7 1341.0,1718.1 1341.6,1716.6C1342.3,1715.1 1343.1,1714.0 1343.8,1713.7C1344.5,1713.3 1345.0,1714.0 1345.8,1714.6C1346.5,1715.3 1347.5,1717.4 1348.2,1717.6C1348.9,1717.8 1349.4,1717.4 1349.9,1715.6C1350.4,1713.8 1350.7,1710.0 1351.2,1706.8C1351.7,1703.5 1352.2,1698.5 1352.7,1695.9C1353.2,1693.3 1353.7,1692.3 1354.2,1691.0C1354.6,1689.7 1354.8,1689.1 1355.1,1688.0C1355.5,1687.0 1355.4,1687.1 1356.0,1684.6C1356.7,1682.1 1358.5,1674.9 1359.0,1672.9" stroke="#FF00FF" stroke-width="4.7"/>
<path class="c" clip-path="url(#cb)" d="M115.5,1323.7C116.3,1323.7 119.2,1323.5 120.5,1323.7C121.7,1323.9 122.2,1324.5 123.0,1324.8C123.8,1325.1 124.7,1325.5 125.5,1325.4C126.3,1325.4 127.2,1324.8 128.0,1324.7C128.8,1324.7 129.7,1325.1 130.5,1325.2C131.3,1325.2 132.2,1325.0 133.0,1325.0C133.8,1325.0 134.7,1324.9 135.5,1325.1C136.3,1325.3 137.2,1326.4 138.0,1326.4C138.8,1326.5 139.7,1325.7 140.5,1325.6C141.3,1325.4 142.2,1325.4 143.0,1325.4C143.8,1325.4 144.7,1325.5 145.5,1325.5C146.3,1325.5 147.2,1325.6 148.0,1325.2C148.8,1324.8 149.5,1323.3 150.5,1322.9C151.5,1322.5 153.0,1322.5 153.9,1322.8C154.7,1323.1 154.8,1324.3 155.5,1324.8C156.2,1325.3 157.3,1325.7 158.1,1325.8C158.9,1325.9 159.7,1325.7 160.5,1325.3C161.3,1325.0 162.2,1324.1 163.0,1323.8C163.8,1323.5 164.7,1323.7 165.5,1323.6C166.3,1323.5 166.8,1323.3 167.6,1323.2C168.4,1323.1 169.6,1322.8 170.5,1323.0C171.4,1323.3 172.2,1324.6 173.0,1325.0C173.8,1325.3 174.7,1325.2 175.5,1325.3C176.3,1325.4 177.2,1325.4 178.0,1325.4C178.8,1325.5 179.7,1325.9 180.5,1325.7C181.3,1325.5 182.2,1324.2 183.0,1324.1C183.8,1324.0 184.7,1324.9 185.5,1325.1C186.3,1325.3 187.2,1325.1 188.0,1325.2C188.8,1325.2 189.7,1325.5 190.5,1325.4C191.3,1325.4 192.2,1325.0 193.0,1325.0C193.8,1325.0 194.7,1325.2 195.5,1325.3C196.3,1325.4 197.2,1325.5 198.0,1325.5C198.8,1325.5 199.7,1325.3 200.5,1325.3C201.3,1325.2 202.2,1325.5 203.0,1325.3C203.8,1325.1 204.7,1323.9 205.5,1324.1C206.3,1324.3 207.2,1326.3 208.0,1326.6C208.8,1326.9 209.7,1326.1 210.5,1325.9C211.3,1325.7 212.2,1325.1 213.0,1325.4C213.8,1325.6 214.7,1327.3 215.5,1327.6C216.3,1327.9 217.2,1327.1 218.0,1327.0C218.8,1327.0 219.7,1327.3 220.5,1327.1C221.3,1326.9 222.2,1325.9 223.0,1325.7C223.8,1325.5 224.5,1326.1 225.5,1326.0C226.5,1325.9 228.0,1324.9 228.9,1324.9C229.7,1324.9 229.8,1325.7 230.5,1326.0C231.2,1326.3 232.2,1326.2 233.0,1326.9C233.8,1327.6 234.7,1329.5 235.5,1330.3C236.3,1331.0 237.2,1330.8 238.0,1331.2C238.8,1331.6 239.7,1332.3 240.5,1332.9C241.3,1333.5 242.2,1333.9 243.0,1334.8C243.8,1335.7 244.7,1337.1 245.5,1338.3C246.3,1339.4 247.2,1340.7 248.0,1341.6C248.8,1342.6 249.7,1343.0 250.5,1343.9C251.3,1344.8 252.2,1345.9 253.0,1347.0C253.8,1348.2 254.7,1349.5 255.5,1351.1C256.3,1352.6 257.2,1354.6 258.0,1356.3C258.8,1357.9 259.7,1359.7 260.5,1361.0C261.3,1362.3 262.2,1363.1 263.0,1364.1C263.8,1365.1 264.7,1365.6 265.5,1366.9C266.3,1368.2 267.2,1370.8 268.0,1371.9C268.8,1373.1 269.7,1372.8 270.5,1373.8C271.3,1374.7 272.2,1376.1 273.0,1377.6C273.8,1379.1 274.7,1381.2 275.5,1382.8C276.3,1384.4 277.2,1385.7 278.0,1387.2C278.8,1388.8 279.7,1390.8 280.5,1392.0C281.3,1393.1 282.2,1392.9 283.0,1394.3C283.8,1395.6 284.7,1398.3 285.5,1400.0C286.3,1401.6 287.2,1402.6 288.0,1404.0C288.8,1405.5 289.7,1406.7 290.5,1408.6C291.3,1410.5 292.2,1413.6 293.0,1415.4C293.8,1417.3 294.7,1417.9 295.5,1419.9C296.3,1421.8 297.3,1425.0 298.0,1427.0C298.7,1429.0 298.8,1430.6 299.6,1432.0C300.5,1433.5 302.1,1434.9 303.0,1435.8C303.9,1436.7 304.1,1436.0 304.9,1437.3C305.8,1438.7 307.1,1442.0 308.0,1444.0C308.9,1446.0 309.7,1447.4 310.5,1449.3C311.3,1451.3 312.3,1453.7 313.0,1455.6C313.7,1457.5 313.6,1458.4 314.4,1460.6C315.3,1462.7 317.0,1467.0 318.0,1468.5C319.0,1469.9 319.9,1469.0 320.5,1469.4C321.1,1469.8 321.0,1469.5 321.8,1470.7C322.7,1471.9 324.5,1474.8 325.5,1476.4C326.5,1478.0 327.2,1479.0 328.0,1480.3C328.8,1481.5 329.7,1482.9 330.5,1484.0C331.3,1485.1 332.2,1485.8 333.0,1486.8C333.8,1487.7 334.7,1488.8 335.5,1489.8C336.3,1490.9 337.2,1492.0 338.0,1493.1C338.8,1494.2 339.7,1495.7 340.5,1496.5C341.3,1497.3 342.2,1497.1 343.0,1497.9C343.8,1498.8 344.7,1500.4 345.5,1501.7C346.3,1502.9 347.0,1504.0 348.0,1505.4C349.0,1506.8 350.6,1509.4 351.4,1510.2C352.2,1511.0 352.3,1510.4 353.0,1510.4C353.7,1510.4 354.7,1510.2 355.5,1510.2C356.3,1510.2 357.2,1510.5 358.0,1510.4C358.8,1510.4 359.7,1510.2 360.5,1509.9C361.3,1509.6 362.2,1508.9 363.0,1508.8C363.8,1508.6 364.7,1508.6 365.5,1508.7C366.3,1508.8 367.2,1509.4 368.0,1509.2C368.8,1509.0 369.7,1507.8 370.5,1507.5C371.3,1507.2 372.2,1507.2 373.0,1507.3C373.8,1507.4 374.7,1507.9 375.5,1508.0C376.3,1508.2 377.3,1508.2 378.0,1508.1C378.7,1507.9 379.1,1507.6 379.9,1507.0C380.8,1506.5 382.1,1505.5 383.0,1504.6C383.9,1503.8 384.7,1502.9 385.5,1502.0C386.3,1501.0 387.2,1499.6 388.0,1499.0C388.8,1498.5 389.7,1499.1 390.5,1498.5C391.3,1498.0 392.2,1496.7 393.0,1495.9C393.8,1495.1 394.7,1494.2 395.5,1493.6C396.3,1493.0 397.2,1492.6 398.0,1492.0C398.8,1491.5 399.7,1490.8 400.5,1490.2C401.3,1489.7 402.2,1489.3 403.0,1488.9C403.8,1488.4 404.7,1488.0 405.5,1487.4C406.3,1486.8 407.2,1486.0 408.0,1485.3C408.8,1484.6 409.7,1484.1 410.5,1483.4C411.3,1482.7 412.2,1481.8 413.0,1481.2C413.8,1480.5 414.7,1480.1 415.5,1479.5C416.3,1479.0 417.2,1478.7 418.0,1477.8C418.8,1477.0 419.7,1475.0 420.5,1474.2C421.3,1473.4 422.2,1473.8 423.0,1473.2C423.8,1472.5 424.7,1471.3 425.5,1470.4C426.3,1469.4 427.2,1468.4 428.0,1467.4C428.8,1466.4 429.7,1465.2 430.5,1464.2C431.3,1463.2 432.2,1462.7 433.0,1461.6C433.8,1460.5 434.7,1458.7 435.5,1457.7C436.3,1456.6 437.2,1456.5 438.0,1455.4C438.8,1454.4 439.7,1452.6 440.5,1451.4C441.3,1450.1 442.2,1449.1 443.0,1448.2C443.8,1447.3 444.7,1447.1 445.5,1446.1C446.3,1445.0 447.2,1443.0 448.0,1441.9C448.8,1440.7 449.7,1440.2 450.5,1439.2C451.3,1438.2 452.2,1436.8 453.0,1435.8C453.8,1434.8 454.7,1434.1 455.5,1433.1C456.3,1432.2 457.2,1431.0 458.0,1430.0C458.8,1429.0 459.7,1427.9 460.5,1427.2C461.3,1426.4 462.2,1426.4 463.0,1425.5C463.8,1424.6 464.7,1422.9 465.5,1421.8C466.3,1420.8 467.1,1420.5 468.0,1419.4C468.9,1418.3 470.0,1416.1 470.8,1415.1C471.7,1414.2 472.2,1414.0 473.0,1413.6C473.8,1413.2 474.7,1412.9 475.5,1412.6C476.3,1412.3 477.2,1412.0 478.0,1411.8C478.8,1411.5 479.7,1411.5 480.5,1411.2C481.3,1411.0 482.0,1410.5 483.0,1410.3C484.0,1410.1 485.9,1409.7 486.7,1409.9C487.5,1410.1 487.4,1411.0 488.0,1411.5C488.6,1411.9 489.7,1412.0 490.5,1412.4C491.3,1412.9 492.2,1413.8 493.0,1414.4C493.8,1414.9 494.7,1415.2 495.5,1415.8C496.3,1416.4 497.2,1417.3 498.0,1418.0C498.8,1418.6 499.7,1419.1 500.5,1419.7C501.3,1420.4 502.1,1420.6 503.0,1421.7C503.9,1422.8 504.9,1425.4 505.7,1426.3C506.5,1427.3 507.4,1427.0 508.0,1427.3C508.6,1427.5 508.3,1428.4 509.3,1427.8C510.3,1427.2 513.1,1424.6 514.2,1423.6C515.2,1422.6 514.9,1422.8 515.5,1421.9C516.1,1421.1 517.2,1419.6 518.0,1418.3C518.8,1417.0 519.7,1415.5 520.5,1414.1C521.3,1412.8 522.2,1411.6 523.0,1410.3C523.8,1409.1 524.7,1407.8 525.5,1406.6C526.3,1405.5 527.2,1404.4 528.0,1403.4C528.8,1402.3 529.7,1401.4 530.5,1400.6C531.3,1399.7 532.2,1399.1 533.0,1398.4C533.8,1397.7 534.7,1396.8 535.5,1396.2C536.3,1395.6 537.2,1395.3 538.0,1394.7C538.8,1394.2 539.7,1393.5 540.5,1392.9C541.3,1392.2 542.2,1391.6 543.0,1391.0C543.8,1390.5 544.7,1389.9 545.5,1389.4C546.3,1388.8 547.2,1388.1 548.0,1387.6C548.8,1387.1 549.7,1386.8 550.5,1386.4C551.3,1385.9 552.2,1385.6 553.0,1385.0C553.8,1384.4 554.7,1383.4 555.5,1382.9C556.3,1382.4 557.2,1382.6 558.0,1382.1C558.8,1381.6 559.7,1380.4 560.5,1379.9C561.3,1379.4 562.2,1379.3 563.0,1378.9C563.8,1378.5 564.7,1378.1 565.5,1377.7C566.3,1377.3 567.2,1376.9 568.0,1376.6C568.8,1376.2 569.7,1375.9 570.5,1375.5C571.3,1375.2 572.2,1374.6 573.0,1374.3C573.8,1373.9 574.7,1373.7 575.5,1373.4C576.3,1373.1 577.2,1372.8 578.0,1372.5C578.8,1372.2 579.7,1371.9 580.5,1371.5C581.3,1371.0 582.2,1370.2 583.0,1369.8C583.8,1369.4 584.7,1369.4 585.5,1369.1C586.3,1368.8 587.2,1368.4 588.0,1368.0C588.8,1367.6 589.7,1366.9 590.5,1366.7C591.3,1366.4 592.2,1366.6 593.0,1366.5C593.8,1366.3 594.7,1365.9 595.5,1365.7C596.3,1365.5 597.2,1365.7 598.0,1365.3C598.8,1365.0 599.7,1364.0 600.5,1363.6C601.3,1363.2 602.2,1363.3 603.0,1363.1C603.8,1363.0 604.7,1362.8 605.5,1362.6C606.3,1362.4 607.2,1362.3 608.0,1361.8C608.8,1361.3 609.7,1360.0 610.5,1359.7C611.3,1359.3 612.2,1359.9 613.0,1359.8C613.8,1359.6 614.7,1359.0 615.5,1358.9C616.3,1358.8 617.2,1359.1 618.0,1359.0C618.8,1358.9 619.7,1358.6 620.5,1358.3C621.3,1358.0 622.2,1357.5 623.0,1357.3C623.8,1357.1 624.7,1357.2 625.5,1357.3C626.3,1357.3 627.2,1357.6 628.0,1357.6C628.8,1357.6 629.7,1357.2 630.5,1357.1C631.3,1357.0 632.2,1357.0 633.0,1356.9C633.8,1356.8 634.7,1356.6 635.5,1356.4C636.3,1356.2 637.2,1356.0 638.0,1355.8C638.8,1355.7 639.7,1355.7 640.5,1355.7C641.3,1355.6 642.2,1355.7 643.0,1355.7C643.8,1355.6 644.7,1355.6 645.5,1355.5C646.3,1355.4 647.2,1355.1 648.0,1355.1C648.8,1355.0 649.7,1355.5 650.5,1355.3C651.3,1355.2 652.2,1354.6 653.0,1354.4C653.8,1354.3 654.7,1354.8 655.5,1354.6C656.3,1354.4 657.2,1353.5 658.0,1353.3C658.8,1353.1 659.7,1353.3 660.5,1353.2C661.3,1353.2 662.2,1353.3 663.0,1353.2C663.8,1353.1 664.7,1352.7 665.5,1352.6C666.3,1352.5 667.2,1352.7 668.0,1352.6C668.8,1352.6 669.7,1352.6 670.5,1352.4C671.3,1352.3 672.2,1351.6 673.0,1351.5C673.8,1351.4 674.7,1352.0 675.5,1352.0C676.3,1352.0 677.2,1351.4 678.0,1351.3C678.7,1351.3 679.2,1351.5 680.0,1351.5C680.8,1351.6 682.1,1351.6 683.0,1351.5C683.9,1351.5 684.7,1351.3 685.5,1351.1C686.3,1351.0 687.2,1350.6 688.0,1350.6C688.8,1350.6 689.7,1351.1 690.5,1351.1C691.3,1351.0 692.2,1350.5 693.0,1350.3C693.8,1350.2 694.7,1350.2 695.5,1350.1C696.3,1350.1 697.2,1350.1 698.0,1350.0C698.8,1349.9 699.7,1349.6 700.5,1349.5C701.3,1349.5 702.2,1349.7 703.0,1349.6C703.8,1349.5 704.7,1349.1 705.5,1349.0C706.3,1348.9 707.2,1349.1 708.0,1349.1C708.8,1349.0 709.7,1348.8 710.5,1348.7C711.3,1348.6 712.2,1348.5 713.0,1348.4C713.8,1348.4 714.7,1348.2 715.5,1348.2C716.3,1348.1 717.2,1348.2 718.0,1348.1C718.8,1348.0 719.7,1348.0 720.5,1347.9C721.3,1347.8 722.2,1347.6 723.0,1347.5C723.8,1347.4 724.7,1347.3 725.5,1347.3C726.3,1347.2 727.2,1347.3 728.0,1347.2C728.8,1347.1 729.7,1346.7 730.5,1346.6C731.3,1346.6 732.2,1346.8 733.0,1346.7C733.8,1346.7 734.7,1346.5 735.5,1346.4C736.3,1346.3 737.2,1346.1 738.0,1346.0C738.8,1346.0 739.7,1346.0 740.5,1346.0C741.3,1345.9 742.2,1345.8 743.0,1345.7C743.8,1345.7 744.7,1345.8 745.5,1345.8C746.3,1345.7 747.2,1345.4 748.0,1345.3C748.8,1345.2 749.7,1345.3 750.5,1345.2C751.3,1345.1 752.2,1344.7 753.0,1344.7C753.8,1344.6 754.7,1344.7 755.5,1344.7C756.3,1344.7 757.2,1344.7 758.0,1344.6C758.8,1344.5 759.7,1344.2 760.5,1344.1C761.3,1344.0 762.2,1344.1 763.0,1344.1C763.8,1344.1 764.7,1344.2 765.5,1344.1C766.3,1344.0 767.2,1343.8 768.0,1343.7C768.8,1343.5 769.7,1343.4 770.5,1343.4C771.3,1343.3 772.2,1343.4 773.0,1343.3C773.8,1343.2 774.7,1343.0 775.5,1342.8C776.3,1342.7 777.2,1342.6 778.0,1342.5C778.8,1342.4 779.7,1342.3 780.5,1342.3C781.3,1342.2 782.2,1342.1 783.0,1342.1C783.8,1342.1 784.7,1342.3 785.5,1342.3C786.3,1342.3 787.2,1342.0 788.0,1341.9C788.8,1341.8 789.7,1341.7 790.5,1341.6C791.3,1341.6 792.2,1341.5 793.0,1341.4C793.8,1341.4 794.7,1341.3 795.5,1341.3C796.3,1341.2 797.2,1341.1 798.0,1341.0C798.8,1340.9 799.7,1340.7 800.5,1340.6C801.3,1340.5 802.2,1340.4 803.0,1340.4C803.8,1340.3 804.7,1340.3 805.5,1340.3C806.3,1340.2 807.2,1340.0 808.0,1340.0C808.8,1339.9 809.7,1339.9 810.5,1339.9C811.3,1339.9 812.2,1340.1 813.0,1340.0C813.8,1339.9 814.7,1339.4 815.5,1339.3C816.3,1339.2 817.2,1339.4 818.0,1339.4C818.8,1339.4 819.7,1339.2 820.5,1339.1C821.3,1339.1 822.2,1339.3 823.0,1339.2C823.8,1339.2 824.7,1339.0 825.5,1338.9C826.3,1338.8 827.2,1338.6 828.0,1338.5C828.8,1338.5 829.7,1338.5 830.5,1338.4C831.3,1338.4 832.2,1338.2 833.0,1338.2C833.8,1338.2 834.7,1338.4 835.5,1338.3C836.3,1338.2 837.2,1337.8 838.0,1337.7C838.8,1337.6 839.7,1337.8 840.5,1337.7C841.3,1337.7 842.2,1337.5 843.0,1337.4C843.8,1337.4 844.7,1337.3 845.5,1337.2C846.3,1337.2 847.2,1337.2 848.0,1337.2C848.8,1337.1 849.7,1337.0 850.5,1337.0C851.3,1336.9 852.2,1337.0 853.0,1337.0C853.8,1337.0 854.7,1336.8 855.5,1336.7C856.3,1336.7 857.2,1336.7 858.0,1336.6C858.8,1336.5 859.7,1336.4 860.5,1336.4C861.3,1336.3 862.2,1336.2 863.0,1336.1C863.8,1336.1 864.7,1336.0 865.5,1335.9C866.3,1335.9 867.2,1336.1 868.0,1336.1C868.8,1336.0 869.7,1335.7 870.5,1335.6C871.3,1335.5 872.2,1335.4 873.0,1335.3C873.8,1335.2 874.7,1335.0 875.5,1335.0C876.3,1334.9 877.2,1335.0 878.0,1335.0C878.8,1334.9 879.7,1334.8 880.5,1334.7C881.3,1334.7 882.2,1334.8 883.0,1334.7C883.8,1334.7 884.7,1334.5 885.5,1334.4C886.3,1334.3 887.2,1334.0 888.0,1333.9C888.8,1333.9 889.7,1334.0 890.5,1334.0C891.3,1334.0 892.2,1333.9 893.0,1333.9C893.8,1333.8 894.7,1333.8 895.5,1333.7C896.3,1333.6 897.2,1333.5 898.0,1333.4C898.8,1333.3 899.7,1333.1 900.5,1333.1C901.3,1333.0 902.2,1333.1 903.0,1333.1C903.8,1333.2 904.7,1333.4 905.5,1333.4C906.3,1333.5 907.2,1333.6 908.0,1333.6C908.8,1333.6 909.7,1333.5 910.5,1333.5C911.3,1333.5 912.2,1333.2 913.0,1333.4C913.8,1333.5 914.7,1334.1 915.5,1334.4C916.3,1334.7 917.2,1334.9 918.0,1335.3C918.8,1335.6 919.7,1336.1 920.5,1336.5C921.3,1336.9 921.2,1336.6 923.0,1337.7C924.8,1338.8 929.7,1341.3 931.4,1343.1C933.2,1344.9 932.7,1346.7 933.5,1348.7C934.3,1350.7 935.5,1351.7 936.3,1355.1C937.2,1358.5 937.7,1364.2 938.5,1369.2C939.2,1374.1 939.9,1379.2 940.6,1384.6C941.2,1390.0 941.8,1396.6 942.4,1401.5C943.0,1406.5 943.5,1411.1 944.1,1414.2C944.6,1417.4 945.1,1419.2 945.8,1420.6C946.5,1422.0 947.5,1422.7 948.3,1422.7C949.2,1422.7 950.1,1421.4 950.8,1420.6C951.5,1419.7 951.8,1418.5 952.5,1417.7C953.3,1417.0 954.3,1417.5 955.4,1416.3C956.4,1415.2 957.7,1412.0 958.9,1410.7C960.1,1409.4 961.5,1408.4 962.7,1408.6C963.8,1408.8 964.9,1410.6 965.9,1412.1C966.9,1413.6 967.9,1416.2 968.7,1417.7C969.6,1419.3 970.1,1420.8 970.8,1421.5C971.5,1422.3 972.3,1422.7 973.0,1422.0C973.7,1421.2 974.4,1420.0 975.1,1417.0C975.7,1414.1 976.2,1409.1 976.8,1404.4C977.3,1399.7 977.9,1394.0 978.6,1388.9C979.2,1383.7 980.0,1377.6 980.7,1373.4C981.4,1369.2 982.0,1366.8 982.8,1363.5C983.6,1360.2 984.8,1356.1 985.6,1353.7C986.5,1351.2 987.2,1349.7 988.0,1348.7C988.8,1347.7 989.7,1347.5 990.6,1347.7C991.5,1348.0 992.6,1347.7 993.4,1350.1C994.2,1352.5 994.8,1357.3 995.5,1362.1C996.2,1366.9 997.0,1373.1 997.6,1379.0C998.2,1384.9 998.7,1392.6 999.3,1397.3C999.9,1402.0 1000.5,1404.6 1001.1,1407.2C1001.7,1409.8 1002.0,1411.9 1003.0,1412.8C1003.9,1413.8 1005.7,1412.1 1006.8,1412.8C1007.9,1413.5 1008.6,1415.4 1009.6,1417.0C1010.5,1418.7 1011.5,1420.9 1012.4,1422.7C1013.3,1424.4 1014.5,1425.7 1015.2,1427.6C1015.9,1429.5 1016.2,1431.5 1016.6,1433.9C1017.0,1436.4 1017.0,1439.8 1017.6,1442.4C1018.2,1445.0 1019.1,1447.6 1020.1,1449.4C1021.2,1451.3 1022.8,1451.5 1023.7,1453.7C1024.6,1455.8 1024.9,1459.8 1025.5,1462.1C1026.1,1464.5 1026.5,1466.8 1027.2,1467.7C1027.8,1468.7 1028.6,1468.5 1029.3,1467.7C1030.0,1467.0 1030.7,1464.3 1031.4,1463.5C1032.1,1462.7 1032.8,1462.6 1033.5,1462.8C1034.2,1463.1 1034.8,1464.5 1035.6,1464.9C1036.5,1465.4 1037.6,1466.0 1038.5,1465.6C1039.3,1465.3 1040.3,1463.4 1041.0,1462.8C1041.7,1462.2 1041.9,1462.1 1042.7,1462.1C1043.4,1462.1 1044.7,1462.5 1045.5,1462.8C1046.3,1463.2 1046.8,1464.8 1047.6,1464.2C1048.4,1463.6 1049.5,1460.4 1050.4,1459.3C1051.4,1458.2 1052.5,1457.5 1053.2,1457.9C1054.0,1458.2 1054.5,1459.1 1055.1,1461.4C1055.7,1463.8 1056.2,1468.3 1056.8,1472.0C1057.3,1475.6 1057.9,1480.8 1058.5,1483.2C1059.0,1485.7 1059.1,1486.1 1059.9,1486.8C1060.6,1487.5 1062.3,1485.9 1063.1,1487.5C1063.9,1489.0 1064.4,1493.1 1064.9,1495.9C1065.5,1498.7 1065.8,1502.5 1066.3,1504.4C1066.9,1506.2 1067.4,1507.7 1068.0,1507.2C1068.7,1506.7 1069.4,1504.8 1070.1,1501.5C1070.8,1498.3 1071.5,1492.6 1072.3,1487.5C1073.0,1482.3 1073.7,1476.9 1074.4,1470.6C1075.1,1464.2 1075.7,1456.2 1076.5,1449.4C1077.3,1442.6 1078.4,1436.1 1079.3,1429.7C1080.2,1423.4 1081.2,1416.6 1082.1,1411.4C1083.1,1406.2 1083.9,1403.0 1084.9,1398.7C1086.0,1394.5 1087.4,1389.8 1088.5,1386.1C1089.5,1382.3 1090.2,1378.5 1091.3,1376.2C1092.3,1373.8 1093.7,1373.8 1094.8,1372.0C1095.8,1370.1 1096.8,1368.0 1097.6,1364.9C1098.4,1361.9 1099.1,1356.6 1099.7,1353.7C1100.3,1350.7 1100.3,1347.6 1101.1,1347.3C1101.9,1347.1 1103.6,1350.4 1104.5,1352.1C1105.4,1353.8 1105.7,1357.0 1106.3,1357.7C1107.0,1358.5 1107.8,1358.2 1108.5,1356.3C1109.1,1354.5 1109.6,1349.8 1110.1,1346.5C1110.7,1343.2 1111.0,1338.6 1111.5,1336.6C1112.1,1334.6 1112.7,1334.3 1113.4,1334.5C1114.0,1334.7 1114.9,1335.3 1115.5,1338.0C1116.1,1340.7 1116.7,1345.8 1117.2,1350.7C1117.7,1355.6 1117.9,1361.5 1118.3,1367.6C1118.7,1373.7 1119.1,1381.2 1119.4,1387.3C1119.8,1393.4 1120.1,1399.8 1120.4,1404.2C1120.8,1408.7 1121.0,1411.9 1121.4,1414.1C1121.8,1416.3 1122.3,1417.6 1122.8,1417.6C1123.4,1417.6 1124.0,1416.5 1124.6,1414.1C1125.3,1411.6 1125.9,1406.8 1126.5,1402.8C1127.0,1398.8 1127.4,1393.1 1127.9,1390.1C1128.4,1387.2 1128.8,1385.4 1129.3,1385.2C1129.8,1385.0 1130.4,1385.6 1131.0,1388.7C1131.5,1391.9 1132.1,1398.4 1132.7,1404.2C1133.3,1410.1 1133.9,1417.1 1134.5,1423.9C1135.1,1430.8 1135.8,1438.0 1136.3,1445.1C1136.9,1452.1 1137.3,1460.7 1137.7,1466.2C1138.1,1471.7 1138.0,1476.1 1138.7,1478.2C1139.4,1480.3 1141.3,1477.9 1142.0,1478.9C1142.7,1479.8 1142.2,1482.7 1143.0,1483.8C1143.7,1484.9 1145.5,1484.6 1146.5,1485.6C1147.5,1486.7 1148.3,1487.5 1149.0,1490.1C1149.7,1492.8 1150.1,1496.9 1150.7,1501.4C1151.3,1505.9 1152.2,1512.0 1152.8,1516.9C1153.4,1521.8 1153.8,1525.4 1154.2,1531.0C1154.6,1536.6 1155.0,1544.1 1155.4,1550.7C1155.7,1557.3 1156.0,1564.8 1156.3,1570.4C1156.7,1576.1 1157.0,1581.3 1157.3,1584.5C1157.7,1587.7 1158.0,1589.2 1158.5,1589.4C1158.9,1589.7 1159.6,1588.6 1160.1,1585.9C1160.7,1583.2 1161.1,1576.2 1161.5,1573.2C1162.0,1570.3 1162.5,1568.5 1163.0,1568.3C1163.4,1568.1 1163.9,1569.1 1164.4,1571.8C1164.8,1574.5 1165.1,1580.8 1165.5,1584.5C1165.8,1588.3 1166.1,1592.0 1166.5,1594.4C1166.8,1596.7 1167.1,1598.6 1167.6,1598.6C1168.1,1598.6 1169.0,1596.7 1169.7,1594.4C1170.4,1592.0 1171.1,1588.5 1171.8,1584.5C1172.5,1580.5 1173.3,1575.0 1173.9,1570.4C1174.6,1565.8 1175.1,1559.5 1175.6,1557.0C1176.2,1554.6 1176.6,1555.6 1177.2,1555.6C1177.8,1555.6 1178.5,1558.3 1179.2,1557.0C1179.8,1555.8 1180.3,1552.7 1181.0,1547.9C1181.6,1543.1 1182.5,1535.4 1183.1,1528.2C1183.7,1520.9 1184.3,1512.2 1184.8,1504.2C1185.3,1496.2 1185.7,1488.0 1186.2,1480.3C1186.7,1472.5 1187.3,1464.8 1188.0,1457.7C1188.8,1450.7 1190.0,1444.4 1190.8,1438.0C1191.7,1431.7 1192.1,1426.3 1193.0,1419.7C1193.8,1413.1 1194.8,1404.5 1195.8,1398.6C1196.7,1392.7 1197.5,1388.5 1198.6,1384.5C1199.6,1380.5 1200.9,1377.0 1202.1,1374.6C1203.3,1372.3 1204.5,1371.1 1205.6,1370.4C1206.8,1369.7 1208.1,1369.7 1209.2,1370.4C1210.2,1371.1 1211.2,1372.5 1212.0,1374.6C1212.7,1376.8 1213.3,1381.2 1213.8,1383.1C1214.3,1385.0 1214.7,1386.4 1215.2,1385.9C1215.7,1385.4 1216.3,1383.6 1216.9,1380.3C1217.5,1377.0 1218.2,1370.9 1219.0,1366.2C1219.8,1361.5 1220.9,1356.0 1221.8,1352.1C1222.8,1348.2 1223.6,1345.3 1224.6,1343.0C1225.7,1340.6 1226.9,1339.3 1228.2,1338.0C1229.5,1336.7 1231.3,1335.8 1232.4,1335.2C1233.5,1334.6 1234.2,1333.8 1234.9,1334.5C1235.7,1335.2 1236.3,1337.1 1236.9,1339.4C1237.5,1341.8 1237.8,1346.5 1238.7,1348.6C1239.6,1350.7 1241.4,1352.5 1242.3,1352.1C1243.1,1351.8 1243.4,1349.5 1243.9,1346.5C1244.5,1343.4 1245.0,1337.4 1245.8,1333.8C1246.5,1330.2 1247.5,1326.6 1248.6,1324.6C1249.6,1322.7 1251.2,1322.3 1252.1,1322.3C1253.1,1322.3 1253.6,1322.5 1254.2,1324.6C1254.9,1326.8 1255.4,1332.4 1256.1,1335.2C1256.7,1338.0 1257.4,1341.1 1258.0,1341.5C1258.7,1342.0 1259.3,1340.4 1259.9,1338.0C1260.4,1335.7 1261.0,1329.8 1261.5,1327.5C1262.1,1325.1 1262.7,1324.1 1263.4,1323.9C1264.0,1323.8 1264.8,1324.9 1265.5,1326.8C1266.2,1328.6 1266.7,1333.3 1267.3,1335.2C1267.9,1337.1 1268.5,1338.6 1269.0,1338.0C1269.6,1337.4 1270.0,1333.1 1270.7,1331.7C1271.4,1330.3 1271.9,1328.9 1273.0,1329.6C1274.0,1330.2 1275.9,1333.5 1276.8,1335.6C1277.6,1337.8 1277.6,1340.2 1277.9,1342.5C1278.3,1344.8 1278.3,1347.6 1278.7,1349.4C1279.2,1351.2 1280.0,1352.1 1280.7,1353.4C1281.4,1354.6 1282.1,1356.0 1282.9,1356.8C1283.6,1357.7 1284.6,1357.2 1285.1,1358.3C1285.7,1359.4 1285.7,1362.6 1286.1,1363.2C1286.5,1363.9 1287.0,1363.1 1287.4,1362.3C1287.8,1361.4 1288.2,1358.5 1288.6,1358.3C1289.0,1358.1 1289.4,1359.1 1289.8,1361.3C1290.2,1363.4 1290.6,1367.5 1291.1,1371.1C1291.5,1374.7 1292.0,1379.0 1292.5,1383.0C1293.0,1386.9 1293.6,1391.2 1294.0,1394.8C1294.5,1398.4 1294.9,1402.0 1295.3,1404.6C1295.7,1407.3 1296.1,1409.5 1296.5,1410.6C1296.9,1411.6 1297.3,1411.7 1297.7,1411.1C1298.1,1410.4 1298.5,1408.7 1298.9,1406.6C1299.4,1404.6 1299.7,1400.5 1300.2,1398.7C1300.7,1396.9 1301.3,1395.8 1301.9,1395.8C1302.5,1395.8 1303.0,1397.1 1303.6,1398.7C1304.1,1400.4 1304.6,1403.2 1305.2,1405.6C1305.7,1408.1 1306.3,1411.1 1306.8,1413.5C1307.4,1416.0 1307.8,1419.0 1308.3,1420.4C1308.8,1421.8 1309.2,1421.2 1309.8,1421.9C1310.4,1422.6 1311.2,1422.8 1311.8,1424.4C1312.3,1425.9 1312.6,1429.1 1313.0,1431.3C1313.5,1433.4 1313.7,1435.8 1314.2,1437.2C1314.7,1438.6 1315.5,1439.6 1316.0,1439.6C1316.5,1439.6 1317.0,1439.2 1317.4,1437.2C1317.8,1435.1 1318.1,1430.1 1318.4,1427.3C1318.7,1424.5 1318.8,1420.9 1319.2,1420.4C1319.5,1419.9 1319.9,1422.4 1320.3,1424.4C1320.7,1426.3 1321.2,1430.4 1321.6,1432.3C1322.1,1434.1 1322.5,1435.1 1323.1,1435.7C1323.7,1436.3 1324.4,1436.1 1325.1,1435.7C1325.7,1435.3 1326.4,1434.6 1327.0,1433.2C1327.7,1431.8 1328.4,1428.7 1329.0,1427.3C1329.6,1425.9 1330.0,1424.7 1330.5,1424.9C1331.0,1425.0 1331.5,1426.7 1332.0,1428.3C1332.4,1429.9 1332.7,1433.1 1333.2,1434.2C1333.6,1435.4 1334.0,1435.7 1334.4,1435.2C1334.9,1434.7 1335.3,1432.9 1335.9,1431.3C1336.5,1429.6 1337.3,1427.7 1337.9,1425.4C1338.5,1423.1 1338.9,1419.8 1339.4,1417.5C1339.8,1415.2 1340.2,1412.7 1340.6,1411.5C1341.1,1410.4 1341.8,1410.1 1342.3,1410.6C1342.8,1411.1 1343.1,1413.1 1343.6,1414.5C1344.1,1415.9 1344.6,1417.9 1345.3,1418.9C1345.9,1420.0 1346.9,1421.2 1347.5,1420.9C1348.2,1420.7 1348.4,1419.2 1348.9,1417.5C1349.4,1415.7 1350.0,1412.5 1350.5,1410.6C1351.0,1408.7 1351.4,1407.3 1351.9,1406.1C1352.4,1405.0 1353.1,1404.6 1353.7,1403.7C1354.2,1402.7 1354.8,1401.2 1355.1,1400.2C1355.5,1399.3 1355.2,1400.0 1355.8,1397.9C1356.4,1395.9 1358.3,1389.7 1358.8,1388.1" stroke="#10EE10" stroke-width="4.7"/>
<text x="36" y="70.5" font-size="54" fill="#000" text-anchor="start" textLength="66" lengthAdjust="spacingAndGlyphs">[a]</text>
<text x="36" y="1278.3" font-size="54" fill="#000" text-anchor="start" textLength="67" lengthAdjust="spacingAndGlyphs">[b]</text>
<text x="520" y="1116.4" font-size="43.5" fill="#000" text-anchor="start" textLength="397.5" lengthAdjust="spacingAndGlyphs">Wavenumber (cm<tspan font-size="28.7" dy="-15.0">-1</tspan><tspan dy="15.0">)</tspan></text>
<text x="519" y="2328.2" font-size="43.5" fill="#000" text-anchor="start" textLength="397" lengthAdjust="spacingAndGlyphs">Wavenumber (cm<tspan font-size="28.7" dy="-15.0">-1</tspan><tspan dy="15.0">)</tspan></text>
<text font-size="43.5" fill="#000" transform="translate(63.2 668.5) rotate(-90)"><tspan x="0" y="0" textLength="259" lengthAdjust="spacingAndGlyphs">Transmission </tspan><tspan x="263" y="0" textLength="88.5" lengthAdjust="spacingAndGlyphs">(T%)</tspan></text>
<text font-size="43.5" fill="#000" transform="translate(63.2 1868.5) rotate(-90)"><tspan x="0" y="0" textLength="259" lengthAdjust="spacingAndGlyphs">Transmission </tspan><tspan x="263" y="0" textLength="88.5" lengthAdjust="spacingAndGlyphs">(T%)</tspan></text>
<text x="553" y="121.5" font-size="37.5" fill="#10EE10" text-anchor="start" textLength="296" lengthAdjust="spacingAndGlyphs" transform="rotate(-5 553 121.5)">Tb-MOF@Cotton</text>
<text x="574" y="340.5" font-size="37.5" fill="#FF00FF" text-anchor="start" textLength="294" lengthAdjust="spacingAndGlyphs" transform="rotate(-4.4 574 340.5)">Eu-MOF@Cotton</text>
<text x="655.5" y="649" font-size="37.5" fill="#000" text-anchor="start" textLength="120" lengthAdjust="spacingAndGlyphs" transform="rotate(-5 655.5 649)">Cotton</text>
<text x="557" y="1323" font-size="37.5" fill="#10EE10" text-anchor="start" textLength="336" lengthAdjust="spacingAndGlyphs" transform="rotate(-5.8 557 1323)">Tb-MOF@Q-Cotton</text>
<text x="552" y="1609" font-size="37.5" fill="#FF00FF" text-anchor="start" textLength="335" lengthAdjust="spacingAndGlyphs" transform="rotate(-4.5 552 1609)">Eu-MOF@Q-Cotton</text>
<text x="652" y="1840" font-size="37.5" fill="#000" text-anchor="start" textLength="160" lengthAdjust="spacingAndGlyphs" transform="rotate(-5 652 1840)">Q-Cotton</text>
<text x="71.2" y="1001.2" font-size="37.5" fill="#000" text-anchor="start" textLength="86" lengthAdjust="spacingAndGlyphs">4000</text>
<text x="248.4" y="1001.2" font-size="37.5" fill="#000" text-anchor="start" textLength="86" lengthAdjust="spacingAndGlyphs">3500</text>
<text x="425.6" y="1001.2" font-size="37.5" fill="#000" text-anchor="start" textLength="86" lengthAdjust="spacingAndGlyphs">3000</text>
<text x="602.8" y="1001.2" font-size="37.5" fill="#000" text-anchor="start" textLength="86" lengthAdjust="spacingAndGlyphs">2500</text>
<text x="780.0" y="1001.2" font-size="37.5" fill="#000" text-anchor="start" textLength="86" lengthAdjust="spacingAndGlyphs">2000</text>
<text x="957.2" y="1001.2" font-size="37.5" fill="#000" text-anchor="start" textLength="86" lengthAdjust="spacingAndGlyphs">1500</text>
<text x="1134.4" y="1001.2" font-size="37.5" fill="#000" text-anchor="start" textLength="86" lengthAdjust="spacingAndGlyphs">1000</text>
<text x="1322.6" y="1001.2" font-size="37.5" fill="#000" text-anchor="start" textLength="64" lengthAdjust="spacingAndGlyphs">500</text>
<text x="78.0" y="2209.7" font-size="37.5" fill="#000" text-anchor="start" textLength="86" lengthAdjust="spacingAndGlyphs">4000</text>
<text x="254.2" y="2209.7" font-size="37.5" fill="#000" text-anchor="start" textLength="86" lengthAdjust="spacingAndGlyphs">3500</text>
<text x="430.5" y="2209.7" font-size="37.5" fill="#000" text-anchor="start" textLength="86" lengthAdjust="spacingAndGlyphs">3000</text>
<text x="606.7" y="2209.7" font-size="37.5" fill="#000" text-anchor="start" textLength="86" lengthAdjust="spacingAndGlyphs">2500</text>
<text x="782.9" y="2209.7" font-size="37.5" fill="#000" text-anchor="start" textLength="86" lengthAdjust="spacingAndGlyphs">2000</text>
<text x="959.1" y="2209.7" font-size="37.5" fill="#000" text-anchor="start" textLength="86" lengthAdjust="spacingAndGlyphs">1500</text>
<text x="1135.4" y="2209.7" font-size="37.5" fill="#000" text-anchor="start" textLength="86" lengthAdjust="spacingAndGlyphs">1000</text>
<text x="1322.6" y="2209.7" font-size="37.5" fill="#000" text-anchor="start" textLength="64" lengthAdjust="spacingAndGlyphs">500</text>
</svg></body></html>
